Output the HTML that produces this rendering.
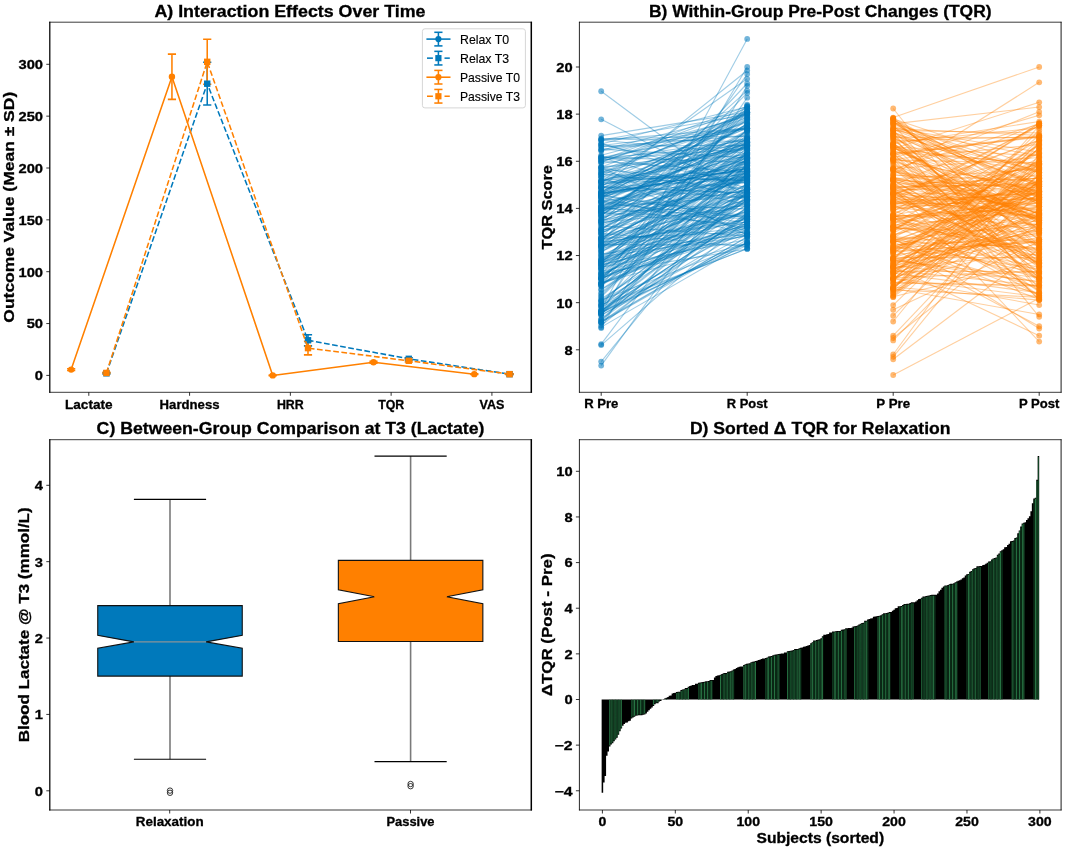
<!DOCTYPE html>
<html><head><meta charset="utf-8"><title>Figure</title>
<style>
html,body{margin:0;padding:0;background:#fff;}
body{width:1065px;height:850px;overflow:hidden;}
svg{display:block;font-family:"Liberation Sans",sans-serif;filter:blur(0.35px);}
</style></head><body>
<svg width="1065" height="850" viewBox="0 0 1065 850">
<defs><clipPath id="clipA"><rect x="49.8" y="22.2" width="481.5" height="370.1"/></clipPath></defs>
<rect width="1065" height="850" fill="#fff"/>
<g clip-path="url(#clipA)">
<line x1="106.44" y1="372.7" x2="106.44" y2="373.95" stroke="#0079bb" stroke-width="1.55"/>
<line x1="102.34" y1="372.7" x2="110.54" y2="372.7" stroke="#0079bb" stroke-width="1.55"/>
<line x1="102.34" y1="373.95" x2="110.54" y2="373.95" stroke="#0079bb" stroke-width="1.55"/>
<line x1="207.22" y1="62.33" x2="207.22" y2="105.05" stroke="#0079bb" stroke-width="1.55"/>
<line x1="203.12" y1="62.33" x2="211.32" y2="62.33" stroke="#0079bb" stroke-width="1.55"/>
<line x1="203.12" y1="105.05" x2="211.32" y2="105.05" stroke="#0079bb" stroke-width="1.55"/>
<line x1="308" y1="334.65" x2="308" y2="345.85" stroke="#0079bb" stroke-width="1.55"/>
<line x1="303.9" y1="334.65" x2="312.1" y2="334.65" stroke="#0079bb" stroke-width="1.55"/>
<line x1="303.9" y1="345.85" x2="312.1" y2="345.85" stroke="#0079bb" stroke-width="1.55"/>
<line x1="408.78" y1="357.67" x2="408.78" y2="359.95" stroke="#0079bb" stroke-width="1.55"/>
<line x1="404.68" y1="357.67" x2="412.88" y2="357.67" stroke="#0079bb" stroke-width="1.55"/>
<line x1="404.68" y1="359.95" x2="412.88" y2="359.95" stroke="#0079bb" stroke-width="1.55"/>
<line x1="509.56" y1="373.74" x2="509.56" y2="374.57" stroke="#0079bb" stroke-width="1.55"/>
<line x1="505.46" y1="373.74" x2="513.66" y2="373.74" stroke="#0079bb" stroke-width="1.55"/>
<line x1="505.46" y1="374.57" x2="513.66" y2="374.57" stroke="#0079bb" stroke-width="1.55"/>
<line x1="71.16" y1="368.76" x2="71.16" y2="370.42" stroke="#ff8000" stroke-width="1.55"/>
<line x1="67.06" y1="368.76" x2="75.26" y2="368.76" stroke="#ff8000" stroke-width="1.55"/>
<line x1="67.06" y1="370.42" x2="75.26" y2="370.42" stroke="#ff8000" stroke-width="1.55"/>
<line x1="171.94" y1="54.14" x2="171.94" y2="99.35" stroke="#ff8000" stroke-width="1.55"/>
<line x1="167.84" y1="54.14" x2="176.04" y2="54.14" stroke="#ff8000" stroke-width="1.55"/>
<line x1="167.84" y1="99.35" x2="176.04" y2="99.35" stroke="#ff8000" stroke-width="1.55"/>
<line x1="272.72" y1="374.99" x2="272.72" y2="375.81" stroke="#ff8000" stroke-width="1.55"/>
<line x1="268.62" y1="374.99" x2="276.82" y2="374.99" stroke="#ff8000" stroke-width="1.55"/>
<line x1="268.62" y1="375.81" x2="276.82" y2="375.81" stroke="#ff8000" stroke-width="1.55"/>
<line x1="373.5" y1="361.3" x2="373.5" y2="363.16" stroke="#ff8000" stroke-width="1.55"/>
<line x1="369.4" y1="361.3" x2="377.6" y2="361.3" stroke="#ff8000" stroke-width="1.55"/>
<line x1="369.4" y1="363.16" x2="377.6" y2="363.16" stroke="#ff8000" stroke-width="1.55"/>
<line x1="474.28" y1="373.74" x2="474.28" y2="374.57" stroke="#ff8000" stroke-width="1.55"/>
<line x1="470.18" y1="373.74" x2="478.38" y2="373.74" stroke="#ff8000" stroke-width="1.55"/>
<line x1="470.18" y1="374.57" x2="478.38" y2="374.57" stroke="#ff8000" stroke-width="1.55"/>
<line x1="106.44" y1="372.29" x2="106.44" y2="373.53" stroke="#ff8000" stroke-width="1.55"/>
<line x1="102.34" y1="372.29" x2="110.54" y2="372.29" stroke="#ff8000" stroke-width="1.55"/>
<line x1="102.34" y1="373.53" x2="110.54" y2="373.53" stroke="#ff8000" stroke-width="1.55"/>
<line x1="207.22" y1="39.31" x2="207.22" y2="84.31" stroke="#ff8000" stroke-width="1.55"/>
<line x1="203.12" y1="39.31" x2="211.32" y2="39.31" stroke="#ff8000" stroke-width="1.55"/>
<line x1="203.12" y1="84.31" x2="211.32" y2="84.31" stroke="#ff8000" stroke-width="1.55"/>
<line x1="308" y1="341.39" x2="308" y2="354.87" stroke="#ff8000" stroke-width="1.55"/>
<line x1="303.9" y1="341.39" x2="312.1" y2="341.39" stroke="#ff8000" stroke-width="1.55"/>
<line x1="303.9" y1="354.87" x2="312.1" y2="354.87" stroke="#ff8000" stroke-width="1.55"/>
<line x1="408.78" y1="359.64" x2="408.78" y2="361.92" stroke="#ff8000" stroke-width="1.55"/>
<line x1="404.68" y1="359.64" x2="412.88" y2="359.64" stroke="#ff8000" stroke-width="1.55"/>
<line x1="404.68" y1="361.92" x2="412.88" y2="361.92" stroke="#ff8000" stroke-width="1.55"/>
<line x1="509.56" y1="373.74" x2="509.56" y2="374.57" stroke="#ff8000" stroke-width="1.55"/>
<line x1="505.46" y1="373.74" x2="513.66" y2="373.74" stroke="#ff8000" stroke-width="1.55"/>
<line x1="505.46" y1="374.57" x2="513.66" y2="374.57" stroke="#ff8000" stroke-width="1.55"/>
<polyline points="106.44,373.33 207.22,83.69 308,340.25 408.78,358.81 509.56,374.16" fill="none" stroke="#0079bb" stroke-width="1.55" stroke-dasharray="5.7 2.5" stroke-linejoin="round"/>
<rect x="103.24" y="370.13" width="6.4" height="6.4" fill="#0079bb"/>
<rect x="204.02" y="80.49" width="6.4" height="6.4" fill="#0079bb"/>
<rect x="304.8" y="337.05" width="6.4" height="6.4" fill="#0079bb"/>
<rect x="405.58" y="355.61" width="6.4" height="6.4" fill="#0079bb"/>
<rect x="506.36" y="370.96" width="6.4" height="6.4" fill="#0079bb"/>
<polyline points="71.16,369.59 171.94,76.74 272.72,375.4 373.5,362.23 474.28,374.16" fill="none" stroke="#ff8000" stroke-width="1.55" stroke-linejoin="round"/>
<circle cx="71.16" cy="369.59" r="3.2" fill="#ff8000"/>
<circle cx="171.94" cy="76.74" r="3.2" fill="#ff8000"/>
<circle cx="272.72" cy="375.4" r="3.2" fill="#ff8000"/>
<circle cx="373.5" cy="362.23" r="3.2" fill="#ff8000"/>
<circle cx="474.28" cy="374.16" r="3.2" fill="#ff8000"/>
<polyline points="106.44,372.91 207.22,61.81 308,348.13 408.78,360.78 509.56,374.16" fill="none" stroke="#ff8000" stroke-width="1.55" stroke-dasharray="5.7 2.5" stroke-linejoin="round"/>
<rect x="103.24" y="369.71" width="6.4" height="6.4" fill="#ff8000"/>
<rect x="204.02" y="58.61" width="6.4" height="6.4" fill="#ff8000"/>
<rect x="304.8" y="344.93" width="6.4" height="6.4" fill="#ff8000"/>
<rect x="405.58" y="357.58" width="6.4" height="6.4" fill="#ff8000"/>
<rect x="506.36" y="370.96" width="6.4" height="6.4" fill="#ff8000"/>
</g>
<line x1="49.8" y1="21.81" x2="49.8" y2="392.69" stroke="#000" stroke-width="1.25"/>
<line x1="531.3" y1="21.81" x2="531.3" y2="392.69" stroke="#000" stroke-width="1.5"/>
<line x1="49.17" y1="22.2" x2="532.05" y2="22.2" stroke="#000" stroke-width="0.77"/>
<line x1="49.17" y1="392.3" x2="532.05" y2="392.3" stroke="#000" stroke-width="0.77"/>
<line x1="46.3" y1="375.4" x2="49.8" y2="375.4" stroke="#000" stroke-width="0.8"/>
<text x="43" y="380.3" font-size="12.4" font-weight="bold" text-anchor="end" textLength="8.18" lengthAdjust="spacingAndGlyphs" fill="#000" stroke="#000" stroke-width="0.3">0</text>
<line x1="46.3" y1="323.55" x2="49.8" y2="323.55" stroke="#000" stroke-width="0.8"/>
<text x="43" y="328.45" font-size="12.4" font-weight="bold" text-anchor="end" textLength="16.35" lengthAdjust="spacingAndGlyphs" fill="#000" stroke="#000" stroke-width="0.3">50</text>
<line x1="46.3" y1="271.7" x2="49.8" y2="271.7" stroke="#000" stroke-width="0.8"/>
<text x="43" y="276.6" font-size="12.4" font-weight="bold" text-anchor="end" textLength="24.53" lengthAdjust="spacingAndGlyphs" fill="#000" stroke="#000" stroke-width="0.3">100</text>
<line x1="46.3" y1="219.85" x2="49.8" y2="219.85" stroke="#000" stroke-width="0.8"/>
<text x="43" y="224.75" font-size="12.4" font-weight="bold" text-anchor="end" textLength="24.53" lengthAdjust="spacingAndGlyphs" fill="#000" stroke="#000" stroke-width="0.3">150</text>
<line x1="46.3" y1="168" x2="49.8" y2="168" stroke="#000" stroke-width="0.8"/>
<text x="43" y="172.9" font-size="12.4" font-weight="bold" text-anchor="end" textLength="24.53" lengthAdjust="spacingAndGlyphs" fill="#000" stroke="#000" stroke-width="0.3">200</text>
<line x1="46.3" y1="116.15" x2="49.8" y2="116.15" stroke="#000" stroke-width="0.8"/>
<text x="43" y="121.05" font-size="12.4" font-weight="bold" text-anchor="end" textLength="24.53" lengthAdjust="spacingAndGlyphs" fill="#000" stroke="#000" stroke-width="0.3">250</text>
<line x1="46.3" y1="64.3" x2="49.8" y2="64.3" stroke="#000" stroke-width="0.8"/>
<text x="43" y="69.2" font-size="12.4" font-weight="bold" text-anchor="end" textLength="24.53" lengthAdjust="spacingAndGlyphs" fill="#000" stroke="#000" stroke-width="0.3">300</text>
<line x1="88.8" y1="392.3" x2="88.8" y2="395.8" stroke="#000" stroke-width="0.8"/>
<text x="88.8" y="408.6" font-size="12.4" font-weight="bold" text-anchor="middle" textLength="47.62" lengthAdjust="spacingAndGlyphs" fill="#000" stroke="#000" stroke-width="0.3">Lactate</text>
<line x1="189.58" y1="392.3" x2="189.58" y2="395.8" stroke="#000" stroke-width="0.8"/>
<text x="189.58" y="408.6" font-size="12.4" font-weight="bold" text-anchor="middle" textLength="59.9" lengthAdjust="spacingAndGlyphs" fill="#000" stroke="#000" stroke-width="0.3">Hardness</text>
<line x1="290.36" y1="392.3" x2="290.36" y2="395.8" stroke="#000" stroke-width="0.8"/>
<text x="290.36" y="408.6" font-size="12.4" font-weight="bold" text-anchor="middle" textLength="26.86" lengthAdjust="spacingAndGlyphs" fill="#000" stroke="#000" stroke-width="0.3">HRR</text>
<line x1="391.14" y1="392.3" x2="391.14" y2="395.8" stroke="#000" stroke-width="0.8"/>
<text x="391.14" y="408.6" font-size="12.4" font-weight="bold" text-anchor="middle" textLength="26.02" lengthAdjust="spacingAndGlyphs" fill="#000" stroke="#000" stroke-width="0.3">TQR</text>
<line x1="491.92" y1="392.3" x2="491.92" y2="395.8" stroke="#000" stroke-width="0.8"/>
<text x="491.92" y="408.6" font-size="12.4" font-weight="bold" text-anchor="middle" textLength="24.86" lengthAdjust="spacingAndGlyphs" fill="#000" stroke="#000" stroke-width="0.3">VAS</text>
<text x="289.95" y="16.5" font-size="15.8" font-weight="bold" text-anchor="middle" textLength="271.09" lengthAdjust="spacingAndGlyphs" fill="#000" stroke="#000" stroke-width="0.3">A) Interaction Effects Over Time</text>
<text x="13.6" y="207.25" font-size="15.4" font-weight="bold" text-anchor="middle" textLength="230.87" lengthAdjust="spacingAndGlyphs" fill="#000" stroke="#000" stroke-width="0.3" transform="rotate(-90 13.6 207.25)">Outcome Value (Mean ± SD)</text>
<rect x="422.4" y="28.8" width="103" height="79.1" rx="2.5" fill="#fff" fill-opacity="0.8" stroke="#d6d6d6" stroke-width="1"/>
<line x1="426.4" y1="39.1" x2="450.5" y2="39.1" stroke="#0079bb" stroke-width="1.55"/>
<line x1="438.4" y1="32.3" x2="438.4" y2="45.9" stroke="#0079bb" stroke-width="1.55"/>
<line x1="434.3" y1="32.3" x2="442.5" y2="32.3" stroke="#0079bb" stroke-width="1.55"/>
<line x1="434.3" y1="45.9" x2="442.5" y2="45.9" stroke="#0079bb" stroke-width="1.55"/>
<circle cx="438.4" cy="39.1" r="3.1" fill="#0079bb"/>
<text x="460" y="43.6" font-size="12.1" font-weight="normal" text-anchor="start" textLength="49.12" lengthAdjust="spacingAndGlyphs" fill="#000" stroke="#000" stroke-width="0.12">Relax T0</text>
<line x1="427" y1="58.15" x2="432.9" y2="58.15" stroke="#0079bb" stroke-width="1.55"/>
<line x1="444.5" y1="58.15" x2="449.8" y2="58.15" stroke="#0079bb" stroke-width="1.55"/>
<line x1="438.4" y1="51.35" x2="438.4" y2="64.95" stroke="#0079bb" stroke-width="1.55"/>
<line x1="434.3" y1="51.35" x2="442.5" y2="51.35" stroke="#0079bb" stroke-width="1.55"/>
<line x1="434.3" y1="64.95" x2="442.5" y2="64.95" stroke="#0079bb" stroke-width="1.55"/>
<rect x="435.3" y="55.05" width="6.2" height="6.2" fill="#0079bb"/>
<text x="460" y="62.65" font-size="12.1" font-weight="normal" text-anchor="start" textLength="49.12" lengthAdjust="spacingAndGlyphs" fill="#000" stroke="#000" stroke-width="0.12">Relax T3</text>
<line x1="426.4" y1="77.2" x2="450.5" y2="77.2" stroke="#ff8000" stroke-width="1.55"/>
<line x1="438.4" y1="70.4" x2="438.4" y2="84" stroke="#ff8000" stroke-width="1.55"/>
<line x1="434.3" y1="70.4" x2="442.5" y2="70.4" stroke="#ff8000" stroke-width="1.55"/>
<line x1="434.3" y1="84" x2="442.5" y2="84" stroke="#ff8000" stroke-width="1.55"/>
<circle cx="438.4" cy="77.2" r="3.1" fill="#ff8000"/>
<text x="460" y="81.7" font-size="12.1" font-weight="normal" text-anchor="start" textLength="59.94" lengthAdjust="spacingAndGlyphs" fill="#000" stroke="#000" stroke-width="0.12">Passive T0</text>
<line x1="427" y1="96.25" x2="432.9" y2="96.25" stroke="#ff8000" stroke-width="1.55"/>
<line x1="444.5" y1="96.25" x2="449.8" y2="96.25" stroke="#ff8000" stroke-width="1.55"/>
<line x1="438.4" y1="89.45" x2="438.4" y2="103.05" stroke="#ff8000" stroke-width="1.55"/>
<line x1="434.3" y1="89.45" x2="442.5" y2="89.45" stroke="#ff8000" stroke-width="1.55"/>
<line x1="434.3" y1="103.05" x2="442.5" y2="103.05" stroke="#ff8000" stroke-width="1.55"/>
<rect x="435.3" y="93.15" width="6.2" height="6.2" fill="#ff8000"/>
<text x="460" y="100.75" font-size="12.1" font-weight="normal" text-anchor="start" textLength="59.94" lengthAdjust="spacingAndGlyphs" fill="#000" stroke="#000" stroke-width="0.12">Passive T3</text>
<g>
<g stroke="#0079bb" stroke-width="1.1" stroke-opacity="0.38">
<path d="M601.2 229.78L747.2 153.63"/>
<path d="M601.2 156.18L747.2 182.35"/>
<path d="M601.2 161.42L747.2 171.95"/>
<path d="M601.2 265.02L747.2 131.82"/>
<path d="M601.2 251.58L747.2 170.27"/>
<path d="M601.2 266.07L747.2 200.66"/>
<path d="M601.2 195.43L747.2 147.9"/>
<path d="M601.2 235.74L747.2 196.42"/>
<path d="M601.2 185.04L747.2 145.95"/>
<path d="M601.2 321.23L747.2 237.12"/>
<path d="M601.2 149.5L747.2 128.42"/>
<path d="M601.2 238.41L747.2 232.19"/>
<path d="M601.2 188.86L747.2 117.02"/>
<path d="M601.2 241.05L747.2 199.64"/>
<path d="M601.2 256.79L747.2 236.16"/>
<path d="M601.2 201.99L747.2 172.6"/>
<path d="M601.2 180.72L747.2 168.96"/>
<path d="M601.2 245.38L747.2 175.09"/>
<path d="M601.2 242.12L747.2 221.74"/>
<path d="M601.2 188.55L747.2 143.14"/>
<path d="M601.2 285.85L747.2 104.7"/>
<path d="M601.2 313.1L747.2 242.82"/>
<path d="M601.2 206.28L747.2 152.33"/>
<path d="M601.2 274.66L747.2 205.2"/>
<path d="M601.2 322.52L747.2 216.3"/>
<path d="M601.2 282.8L747.2 243.58"/>
<path d="M601.2 262.37L747.2 227.73"/>
<path d="M601.2 301.38L747.2 188.9"/>
<path d="M601.2 312.43L747.2 214.62"/>
<path d="M601.2 229.62L747.2 119.51"/>
<path d="M601.2 176.83L747.2 180.43"/>
<path d="M601.2 247.38L747.2 175.01"/>
<path d="M601.2 278.87L747.2 108.05"/>
<path d="M601.2 206.92L747.2 196.17"/>
<path d="M601.2 186.73L747.2 193.04"/>
<path d="M601.2 251.72L747.2 185.19"/>
<path d="M601.2 196.96L747.2 163.31"/>
<path d="M601.2 169.53L747.2 122.5"/>
<path d="M601.2 245.67L747.2 176.13"/>
<path d="M601.2 282.77L747.2 223.12"/>
<path d="M601.2 209.3L747.2 158.36"/>
<path d="M601.2 215.76L747.2 105.6"/>
<path d="M601.2 166.91L747.2 113.19"/>
<path d="M601.2 305.11L747.2 248.66"/>
<path d="M601.2 274.14L747.2 198.68"/>
<path d="M601.2 284.12L747.2 226.88"/>
<path d="M601.2 318.89L747.2 196.46"/>
<path d="M601.2 223.69L747.2 179.47"/>
<path d="M601.2 197.99L747.2 109.45"/>
<path d="M601.2 278.6L747.2 158.19"/>
<path d="M601.2 155.26L747.2 116.55"/>
<path d="M601.2 180.86L747.2 147.5"/>
<path d="M601.2 191.97L747.2 160.99"/>
<path d="M601.2 205.86L747.2 152.07"/>
<path d="M601.2 173.82L747.2 114.35"/>
<path d="M601.2 306.92L747.2 189.56"/>
<path d="M601.2 192.77L747.2 173.72"/>
<path d="M601.2 193.44L747.2 119.23"/>
<path d="M601.2 319.63L747.2 212.97"/>
<path d="M601.2 209.34L747.2 169.8"/>
<path d="M601.2 248.5L747.2 212.43"/>
<path d="M601.2 183.09L747.2 177.92"/>
<path d="M601.2 260.58L747.2 211.36"/>
<path d="M601.2 233.24L747.2 246.82"/>
<path d="M601.2 209.61L747.2 130.32"/>
<path d="M601.2 286.16L747.2 176.28"/>
<path d="M601.2 193.69L747.2 168.64"/>
<path d="M601.2 238.97L747.2 138.74"/>
<path d="M601.2 200.17L747.2 146.24"/>
<path d="M601.2 265.73L747.2 174.74"/>
<path d="M601.2 167.49L747.2 234.75"/>
<path d="M601.2 193.3L747.2 169.22"/>
<path d="M601.2 243.77L747.2 159.35"/>
<path d="M601.2 191.7L747.2 112.73"/>
<path d="M601.2 159.99L747.2 106.28"/>
<path d="M601.2 144.03L747.2 106.67"/>
<path d="M601.2 314.84L747.2 241.9"/>
<path d="M601.2 177.57L747.2 231.61"/>
<path d="M601.2 201.87L747.2 142.17"/>
<path d="M601.2 238.24L747.2 177.23"/>
<path d="M601.2 292.83L747.2 163.88"/>
<path d="M601.2 160.1L747.2 148.44"/>
<path d="M601.2 304.21L747.2 199.95"/>
<path d="M601.2 195.6L747.2 218.06"/>
<path d="M601.2 158.34L747.2 128.49"/>
<path d="M601.2 315.56L747.2 228.75"/>
<path d="M601.2 251.88L747.2 169.81"/>
<path d="M601.2 306.06L747.2 191.92"/>
<path d="M601.2 215.99L747.2 174.11"/>
<path d="M601.2 151.04L747.2 128.24"/>
<path d="M601.2 140.08L747.2 128.1"/>
<path d="M601.2 319.85L747.2 192.27"/>
<path d="M601.2 268.97L747.2 170.91"/>
<path d="M601.2 187.51L747.2 179.23"/>
<path d="M601.2 149.14L747.2 157.9"/>
<path d="M601.2 204.62L747.2 112.8"/>
<path d="M601.2 279.01L747.2 199.26"/>
<path d="M601.2 212.55L747.2 131.97"/>
<path d="M601.2 233.14L747.2 160.62"/>
<path d="M601.2 245.46L747.2 203.22"/>
<path d="M601.2 278.35L747.2 221.34"/>
<path d="M601.2 206.77L747.2 160.9"/>
<path d="M601.2 211.86L747.2 157.62"/>
<path d="M601.2 238.18L747.2 154.02"/>
<path d="M601.2 246.63L747.2 226.5"/>
<path d="M601.2 305.12L747.2 227.25"/>
<path d="M601.2 263.53L747.2 192.4"/>
<path d="M601.2 162.18L747.2 108.3"/>
<path d="M601.2 244.59L747.2 244.83"/>
<path d="M601.2 310.72L747.2 196.05"/>
<path d="M601.2 157.11L747.2 162.33"/>
<path d="M601.2 197.84L747.2 145.58"/>
<path d="M601.2 139.01L747.2 141.49"/>
<path d="M601.2 227.91L747.2 159.71"/>
<path d="M601.2 261.98L747.2 129.78"/>
<path d="M601.2 310.99L747.2 199.5"/>
<path d="M601.2 157.51L747.2 128.49"/>
<path d="M601.2 135.6L747.2 112.15"/>
<path d="M601.2 283.18L747.2 223.07"/>
<path d="M601.2 273.28L747.2 171.16"/>
<path d="M601.2 193.84L747.2 168.47"/>
<path d="M601.2 283.69L747.2 225.01"/>
<path d="M601.2 249.81L747.2 184.55"/>
<path d="M601.2 254.92L747.2 194.06"/>
<path d="M601.2 219.39L747.2 142.06"/>
<path d="M601.2 167.09L747.2 149.32"/>
<path d="M601.2 230.58L747.2 196.28"/>
<path d="M601.2 175.7L747.2 112.2"/>
<path d="M601.2 259.37L747.2 148.08"/>
<path d="M601.2 210.57L747.2 123.63"/>
<path d="M601.2 325.5L747.2 206.95"/>
<path d="M601.2 311.06L747.2 216.05"/>
<path d="M601.2 182.29L747.2 171.64"/>
<path d="M601.2 269.89L747.2 202.09"/>
<path d="M601.2 194.82L747.2 127.8"/>
<path d="M601.2 197.1L747.2 157.25"/>
<path d="M601.2 157.57L747.2 199.99"/>
<path d="M601.2 181.41L747.2 156.22"/>
<path d="M601.2 170.78L747.2 204.99"/>
<path d="M601.2 239.41L747.2 172.15"/>
<path d="M601.2 276.27L747.2 232.7"/>
<path d="M601.2 278.19L747.2 234.46"/>
<path d="M601.2 263.64L747.2 184"/>
<path d="M601.2 298.61L747.2 207.73"/>
<path d="M601.2 267.3L747.2 239.46"/>
<path d="M601.2 238.15L747.2 148.99"/>
<path d="M601.2 215.5L747.2 108.94"/>
<path d="M601.2 254.22L747.2 233.59"/>
<path d="M601.2 322.58L747.2 154.03"/>
<path d="M601.2 236.81L747.2 204.58"/>
<path d="M601.2 217.21L747.2 189.67"/>
<path d="M601.2 167.57L747.2 154.7"/>
<path d="M601.2 194.94L747.2 216.06"/>
<path d="M601.2 273.07L747.2 142.22"/>
<path d="M601.2 277.74L747.2 175.21"/>
<path d="M601.2 140.26L747.2 153.28"/>
<path d="M601.2 184.49L747.2 166.99"/>
<path d="M601.2 143.23L747.2 188.27"/>
<path d="M601.2 138.76L747.2 136.17"/>
<path d="M601.2 283.02L747.2 160.03"/>
<path d="M601.2 206.9L747.2 227.8"/>
<path d="M601.2 202.3L747.2 181.26"/>
<path d="M601.2 196.05L747.2 155.47"/>
<path d="M601.2 197.12L747.2 125.73"/>
<path d="M601.2 218.73L747.2 123.71"/>
<path d="M601.2 220.56L747.2 189.55"/>
<path d="M601.2 312.74L747.2 234.13"/>
<path d="M601.2 242.94L747.2 162.23"/>
<path d="M601.2 279.1L747.2 208.92"/>
<path d="M601.2 223.72L747.2 184.96"/>
<path d="M601.2 262.37L747.2 145.88"/>
<path d="M601.2 192.5L747.2 111.7"/>
<path d="M601.2 181.02L747.2 144.7"/>
<path d="M601.2 211.8L747.2 175.41"/>
<path d="M601.2 211.32L747.2 145.62"/>
<path d="M601.2 225.9L747.2 236.07"/>
<path d="M601.2 261.13L747.2 188.39"/>
<path d="M601.2 242.88L747.2 219.39"/>
<path d="M601.2 264.11L747.2 112.18"/>
<path d="M601.2 206.73L747.2 138.78"/>
<path d="M601.2 231.1L747.2 169.81"/>
<path d="M601.2 194.73L747.2 168.3"/>
<path d="M601.2 306.8L747.2 248.42"/>
<path d="M601.2 177.33L747.2 128.72"/>
<path d="M601.2 279.95L747.2 133.85"/>
<path d="M601.2 278.34L747.2 220.73"/>
<path d="M601.2 245.04L747.2 154.01"/>
<path d="M601.2 268.27L747.2 161.83"/>
<path d="M601.2 212.94L747.2 224.95"/>
<path d="M601.2 268.92L747.2 153.85"/>
<path d="M601.2 295.84L747.2 150.35"/>
<path d="M601.2 284.53L747.2 189"/>
<path d="M601.2 157.96L747.2 144.86"/>
<path d="M601.2 229.11L747.2 144.27"/>
<path d="M601.2 300.28L747.2 243.19"/>
<path d="M601.2 231.48L747.2 171.89"/>
<path d="M601.2 314.33L747.2 174.67"/>
<path d="M601.2 144.06L747.2 178.43"/>
<path d="M601.2 313.41L747.2 176.32"/>
<path d="M601.2 201.02L747.2 179.99"/>
<path d="M601.2 197.02L747.2 233.98"/>
<path d="M601.2 311.07L747.2 215.93"/>
<path d="M601.2 212.35L747.2 206"/>
<path d="M601.2 171.75L747.2 138.77"/>
<path d="M601.2 201.71L747.2 209.23"/>
<path d="M601.2 214.89L747.2 130.93"/>
<path d="M601.2 174.15L747.2 180.43"/>
<path d="M601.2 221.43L747.2 157.51"/>
<path d="M601.2 210.02L747.2 190.73"/>
<path d="M601.2 240.4L747.2 192.06"/>
<path d="M601.2 191.71L747.2 120.67"/>
<path d="M601.2 289.56L747.2 191.99"/>
<path d="M601.2 182.52L747.2 170.78"/>
<path d="M601.2 264.71L747.2 230.87"/>
<path d="M601.2 296.83L747.2 158.31"/>
<path d="M601.2 208.17L747.2 138.86"/>
<path d="M601.2 146.2L747.2 145.3"/>
<path d="M601.2 173.52L747.2 142.18"/>
<path d="M601.2 265.35L747.2 225.3"/>
<path d="M601.2 187.83L747.2 197.82"/>
<path d="M601.2 261.53L747.2 218.01"/>
<path d="M601.2 240.22L747.2 164.98"/>
<path d="M601.2 226.12L747.2 161.7"/>
<path d="M601.2 327.14L747.2 242.77"/>
<path d="M601.2 219.41L747.2 142.62"/>
<path d="M601.2 293.94L747.2 171.57"/>
<path d="M601.2 276.22L747.2 187.32"/>
<path d="M601.2 311.85L747.2 173.15"/>
<path d="M601.2 313.17L747.2 222.93"/>
<path d="M601.2 289.65L747.2 204.54"/>
<path d="M601.2 180.66L747.2 137.42"/>
<path d="M601.2 146.86L747.2 135.89"/>
<path d="M601.2 233.7L747.2 145.7"/>
<path d="M601.2 167.23L747.2 197"/>
<path d="M601.2 249.38L747.2 130.04"/>
<path d="M601.2 322.38L747.2 239.74"/>
<path d="M601.2 222.15L747.2 178.51"/>
<path d="M601.2 203.09L747.2 216.69"/>
<path d="M601.2 259.93L747.2 163.16"/>
<path d="M601.2 212.22L747.2 123.95"/>
<path d="M601.2 195.26L747.2 124.59"/>
<path d="M601.2 285.48L747.2 165.26"/>
<path d="M601.2 311.93L747.2 245.17"/>
<path d="M601.2 246.6L747.2 211.45"/>
<path d="M601.2 245.93L747.2 199.59"/>
<path d="M601.2 255.1L747.2 219.33"/>
<path d="M601.2 172.24L747.2 117.14"/>
<path d="M601.2 145.44L747.2 128.05"/>
<path d="M601.2 259.17L747.2 187.82"/>
<path d="M601.2 187.78L747.2 139.72"/>
<path d="M601.2 174.57L747.2 189.13"/>
<path d="M601.2 186.96L747.2 193.32"/>
<path d="M601.2 169.31L747.2 183.55"/>
<path d="M601.2 257.43L747.2 166.19"/>
<path d="M601.2 185.44L747.2 143.86"/>
<path d="M601.2 140.06L747.2 114.57"/>
<path d="M601.2 181.87L747.2 120.68"/>
<path d="M601.2 271.67L747.2 234.87"/>
<path d="M601.2 193.15L747.2 182.29"/>
<path d="M601.2 159.89L747.2 138.67"/>
<path d="M601.2 207.94L747.2 217.39"/>
<path d="M601.2 268.27L747.2 210.6"/>
<path d="M601.2 150.18L747.2 112.66"/>
<path d="M601.2 303.73L747.2 164.67"/>
<path d="M601.2 199.49L747.2 125.64"/>
<path d="M601.2 233.11L747.2 174.56"/>
<path d="M601.2 301.4L747.2 213.85"/>
<path d="M601.2 161.64L747.2 115.08"/>
<path d="M601.2 209.28L747.2 181.62"/>
<path d="M601.2 300.24L747.2 192.99"/>
<path d="M601.2 193.5L747.2 118.18"/>
<path d="M601.2 260.11L747.2 201.48"/>
<path d="M601.2 322.22L747.2 236.77"/>
<path d="M601.2 275.73L747.2 194.27"/>
<path d="M601.2 214.72L747.2 145.89"/>
<path d="M601.2 191.48L747.2 141.33"/>
<path d="M601.2 221.12L747.2 165.26"/>
<path d="M601.2 229.05L747.2 152.77"/>
<path d="M601.2 201.56L747.2 223.05"/>
<path d="M601.2 245.93L747.2 213.85"/>
<path d="M601.2 163.43L747.2 140.05"/>
<path d="M601.2 222.23L747.2 208.04"/>
<path d="M601.2 212.76L747.2 218.74"/>
<path d="M601.2 91.27L747.2 199.73"/>
<path d="M601.2 119.32L747.2 194.75"/>
<path d="M601.2 344.15L747.2 150.31"/>
<path d="M601.2 345.09L747.2 218.97"/>
<path d="M601.2 361.59L747.2 182.71"/>
<path d="M601.2 365.59L747.2 162.89"/>
<path d="M601.2 309.22L747.2 38.96"/>
<path d="M601.2 313.84L747.2 67"/>
<path d="M601.2 187.33L747.2 70.54"/>
<path d="M601.2 283.85L747.2 74.07"/>
<path d="M601.2 181.75L747.2 78.78"/>
<path d="M601.2 238L747.2 83.5"/>
<path d="M601.2 328.05L747.2 85.85"/>
<path d="M601.2 221.82L747.2 90.57"/>
<path d="M601.2 241.49L747.2 92.92"/>
<path d="M601.2 310.98L747.2 97.64"/>
<path d="M601.2 272.87L747.2 248.94"/>
</g>
<g stroke="#ff8000" stroke-width="1.1" stroke-opacity="0.38">
<path d="M893.2 163.21L1039.2 280"/>
<path d="M893.2 132.07L1039.2 186.14"/>
<path d="M893.2 252.46L1039.2 182.81"/>
<path d="M893.2 153.38L1039.2 136.09"/>
<path d="M893.2 288.54L1039.2 168.68"/>
<path d="M893.2 192.84L1039.2 195.2"/>
<path d="M893.2 285.58L1039.2 215.35"/>
<path d="M893.2 179.55L1039.2 210.85"/>
<path d="M893.2 288.33L1039.2 158.07"/>
<path d="M893.2 296.79L1039.2 260.87"/>
<path d="M893.2 184.47L1039.2 178.13"/>
<path d="M893.2 119.61L1039.2 202.21"/>
<path d="M893.2 242.21L1039.2 199.61"/>
<path d="M893.2 160.88L1039.2 220.65"/>
<path d="M893.2 201.2L1039.2 125.48"/>
<path d="M893.2 226.86L1039.2 249.22"/>
<path d="M893.2 172.16L1039.2 191.8"/>
<path d="M893.2 129.7L1039.2 184.64"/>
<path d="M893.2 272.37L1039.2 182.24"/>
<path d="M893.2 174.99L1039.2 180.95"/>
<path d="M893.2 187.41L1039.2 183.59"/>
<path d="M893.2 279L1039.2 163.63"/>
<path d="M893.2 130.4L1039.2 278.16"/>
<path d="M893.2 123.51L1039.2 198.03"/>
<path d="M893.2 260.36L1039.2 277.69"/>
<path d="M893.2 127.46L1039.2 186.48"/>
<path d="M893.2 204.44L1039.2 271.94"/>
<path d="M893.2 217.47L1039.2 263.29"/>
<path d="M893.2 133.5L1039.2 204.73"/>
<path d="M893.2 194.29L1039.2 140.02"/>
<path d="M893.2 188.69L1039.2 175.3"/>
<path d="M893.2 133.08L1039.2 184.09"/>
<path d="M893.2 140.7L1039.2 136.66"/>
<path d="M893.2 157.76L1039.2 257.51"/>
<path d="M893.2 278.23L1039.2 296.65"/>
<path d="M893.2 283.33L1039.2 243.32"/>
<path d="M893.2 147.13L1039.2 219.65"/>
<path d="M893.2 259.14L1039.2 149.98"/>
<path d="M893.2 198.96L1039.2 125.37"/>
<path d="M893.2 265.81L1039.2 281.26"/>
<path d="M893.2 218.68L1039.2 123.1"/>
<path d="M893.2 274L1039.2 139.46"/>
<path d="M893.2 130.01L1039.2 155.88"/>
<path d="M893.2 263.39L1039.2 194.45"/>
<path d="M893.2 215.03L1039.2 123.34"/>
<path d="M893.2 218.94L1039.2 206.33"/>
<path d="M893.2 143.85L1039.2 230.46"/>
<path d="M893.2 278.85L1039.2 210.16"/>
<path d="M893.2 209.76L1039.2 279.11"/>
<path d="M893.2 220.18L1039.2 183.91"/>
<path d="M893.2 176.88L1039.2 213.26"/>
<path d="M893.2 180.13L1039.2 188.01"/>
<path d="M893.2 234.89L1039.2 191.68"/>
<path d="M893.2 193.58L1039.2 265.84"/>
<path d="M893.2 229.81L1039.2 144.71"/>
<path d="M893.2 180.35L1039.2 262.8"/>
<path d="M893.2 213.88L1039.2 161.61"/>
<path d="M893.2 245.44L1039.2 287.44"/>
<path d="M893.2 209.42L1039.2 188.52"/>
<path d="M893.2 186.33L1039.2 253.85"/>
<path d="M893.2 119.79L1039.2 194.13"/>
<path d="M893.2 236.43L1039.2 249.58"/>
<path d="M893.2 189.65L1039.2 295.84"/>
<path d="M893.2 134.73L1039.2 262.76"/>
<path d="M893.2 292.89L1039.2 218.1"/>
<path d="M893.2 287.41L1039.2 183.97"/>
<path d="M893.2 270.56L1039.2 285.61"/>
<path d="M893.2 214.57L1039.2 295.66"/>
<path d="M893.2 118.57L1039.2 245.63"/>
<path d="M893.2 184.74L1039.2 219.94"/>
<path d="M893.2 143.77L1039.2 239.35"/>
<path d="M893.2 220.93L1039.2 256.23"/>
<path d="M893.2 296.07L1039.2 175.52"/>
<path d="M893.2 295.13L1039.2 168.7"/>
<path d="M893.2 151.85L1039.2 163.18"/>
<path d="M893.2 196.81L1039.2 260.47"/>
<path d="M893.2 274.72L1039.2 213.04"/>
<path d="M893.2 147.51L1039.2 214.63"/>
<path d="M893.2 282.42L1039.2 285.43"/>
<path d="M893.2 146.79L1039.2 156.07"/>
<path d="M893.2 135.1L1039.2 196.2"/>
<path d="M893.2 251.15L1039.2 242.1"/>
<path d="M893.2 267.27L1039.2 143.68"/>
<path d="M893.2 160.17L1039.2 162.96"/>
<path d="M893.2 266.72L1039.2 168.06"/>
<path d="M893.2 159.3L1039.2 144.38"/>
<path d="M893.2 270.82L1039.2 175.81"/>
<path d="M893.2 162.02L1039.2 272.1"/>
<path d="M893.2 202.2L1039.2 231.92"/>
<path d="M893.2 233.13L1039.2 157.75"/>
<path d="M893.2 257.66L1039.2 257.58"/>
<path d="M893.2 193.7L1039.2 206.31"/>
<path d="M893.2 290.24L1039.2 197.76"/>
<path d="M893.2 224.09L1039.2 140.12"/>
<path d="M893.2 231.04L1039.2 145.41"/>
<path d="M893.2 168.76L1039.2 157.46"/>
<path d="M893.2 273.08L1039.2 228.14"/>
<path d="M893.2 128L1039.2 152.2"/>
<path d="M893.2 226.17L1039.2 181.37"/>
<path d="M893.2 268.52L1039.2 226.08"/>
<path d="M893.2 137.23L1039.2 137.64"/>
<path d="M893.2 129.19L1039.2 172.51"/>
<path d="M893.2 218.92L1039.2 253.47"/>
<path d="M893.2 257.44L1039.2 148.59"/>
<path d="M893.2 206.83L1039.2 224.82"/>
<path d="M893.2 247.29L1039.2 179.93"/>
<path d="M893.2 226.19L1039.2 284.79"/>
<path d="M893.2 131.92L1039.2 202"/>
<path d="M893.2 184.71L1039.2 260.04"/>
<path d="M893.2 199.14L1039.2 262.46"/>
<path d="M893.2 187.36L1039.2 292.02"/>
<path d="M893.2 211.24L1039.2 125.56"/>
<path d="M893.2 160.31L1039.2 213.96"/>
<path d="M893.2 158.44L1039.2 191.13"/>
<path d="M893.2 229.53L1039.2 153.04"/>
<path d="M893.2 201.53L1039.2 216.68"/>
<path d="M893.2 118.73L1039.2 167.81"/>
<path d="M893.2 183L1039.2 277.31"/>
<path d="M893.2 218.8L1039.2 199.78"/>
<path d="M893.2 122.08L1039.2 222.36"/>
<path d="M893.2 207.22L1039.2 181.36"/>
<path d="M893.2 266.81L1039.2 206.06"/>
<path d="M893.2 168.96L1039.2 277.38"/>
<path d="M893.2 257.86L1039.2 293.16"/>
<path d="M893.2 236.77L1039.2 267.39"/>
<path d="M893.2 188.5L1039.2 167.18"/>
<path d="M893.2 215.31L1039.2 186.38"/>
<path d="M893.2 251.09L1039.2 191.27"/>
<path d="M893.2 239.76L1039.2 295.02"/>
<path d="M893.2 242.08L1039.2 299.44"/>
<path d="M893.2 145.46L1039.2 239.5"/>
<path d="M893.2 248.89L1039.2 233.84"/>
<path d="M893.2 240.93L1039.2 247.9"/>
<path d="M893.2 122.23L1039.2 178.35"/>
<path d="M893.2 239.91L1039.2 223.67"/>
<path d="M893.2 133.92L1039.2 266.27"/>
<path d="M893.2 139.69L1039.2 252.49"/>
<path d="M893.2 216.85L1039.2 202.98"/>
<path d="M893.2 278.84L1039.2 214.59"/>
<path d="M893.2 181.21L1039.2 212.18"/>
<path d="M893.2 169.06L1039.2 123.91"/>
<path d="M893.2 154.19L1039.2 220.22"/>
<path d="M893.2 203.5L1039.2 203.08"/>
<path d="M893.2 143.91L1039.2 258.92"/>
<path d="M893.2 137.08L1039.2 223.41"/>
<path d="M893.2 264.96L1039.2 186.38"/>
<path d="M893.2 135.79L1039.2 170.53"/>
<path d="M893.2 197.42L1039.2 218.84"/>
<path d="M893.2 240.57L1039.2 190.98"/>
<path d="M893.2 226.58L1039.2 209.32"/>
<path d="M893.2 124.7L1039.2 288.53"/>
<path d="M893.2 153.44L1039.2 300.1"/>
<path d="M893.2 288.35L1039.2 125.75"/>
<path d="M893.2 202.82L1039.2 164.17"/>
<path d="M893.2 216.09L1039.2 214.91"/>
<path d="M893.2 218.2L1039.2 289.93"/>
<path d="M893.2 237.66L1039.2 278.03"/>
<path d="M893.2 279.99L1039.2 147.82"/>
<path d="M893.2 159.31L1039.2 299.33"/>
<path d="M893.2 259.75L1039.2 235.01"/>
<path d="M893.2 229.55L1039.2 164.56"/>
<path d="M893.2 242.57L1039.2 205.91"/>
<path d="M893.2 249.25L1039.2 172.17"/>
<path d="M893.2 165.33L1039.2 214.08"/>
<path d="M893.2 185.18L1039.2 123.32"/>
<path d="M893.2 246.43L1039.2 269.09"/>
<path d="M893.2 259.99L1039.2 282.29"/>
<path d="M893.2 235.21L1039.2 197.47"/>
<path d="M893.2 154.23L1039.2 137.18"/>
<path d="M893.2 200.3L1039.2 213.3"/>
<path d="M893.2 193.96L1039.2 153.42"/>
<path d="M893.2 227.13L1039.2 243.05"/>
<path d="M893.2 223.04L1039.2 273.76"/>
<path d="M893.2 194.94L1039.2 140.34"/>
<path d="M893.2 289.38L1039.2 141.57"/>
<path d="M893.2 130.47L1039.2 132.9"/>
<path d="M893.2 252.32L1039.2 240.51"/>
<path d="M893.2 240.71L1039.2 273.81"/>
<path d="M893.2 138.87L1039.2 266.46"/>
<path d="M893.2 194.59L1039.2 222.6"/>
<path d="M893.2 205.28L1039.2 177.23"/>
<path d="M893.2 241.53L1039.2 184.72"/>
<path d="M893.2 283.03L1039.2 286.09"/>
<path d="M893.2 196.8L1039.2 198.25"/>
<path d="M893.2 144.28L1039.2 202.68"/>
<path d="M893.2 257.85L1039.2 210.78"/>
<path d="M893.2 138.02L1039.2 204.12"/>
<path d="M893.2 268.06L1039.2 229.12"/>
<path d="M893.2 249.57L1039.2 180.89"/>
<path d="M893.2 178.22L1039.2 200.35"/>
<path d="M893.2 207.78L1039.2 197.58"/>
<path d="M893.2 168.09L1039.2 246.15"/>
<path d="M893.2 249.97L1039.2 192.05"/>
<path d="M893.2 263.96L1039.2 223.91"/>
<path d="M893.2 289.8L1039.2 297.34"/>
<path d="M893.2 271.16L1039.2 189.68"/>
<path d="M893.2 265.9L1039.2 232.39"/>
<path d="M893.2 279.08L1039.2 166.97"/>
<path d="M893.2 189.54L1039.2 218.44"/>
<path d="M893.2 245.88L1039.2 220.28"/>
<path d="M893.2 291.72L1039.2 210.06"/>
<path d="M893.2 118.34L1039.2 196.86"/>
<path d="M893.2 254.69L1039.2 241.25"/>
<path d="M893.2 273.14L1039.2 292.94"/>
<path d="M893.2 142.53L1039.2 127.84"/>
<path d="M893.2 145.49L1039.2 282.42"/>
<path d="M893.2 269.06L1039.2 237.17"/>
<path d="M893.2 280.53L1039.2 181.69"/>
<path d="M893.2 262.54L1039.2 194.45"/>
<path d="M893.2 146.99L1039.2 172.22"/>
<path d="M893.2 226.15L1039.2 169.26"/>
<path d="M893.2 253.38L1039.2 148.89"/>
<path d="M893.2 209.47L1039.2 193.59"/>
<path d="M893.2 143.93L1039.2 121.56"/>
<path d="M893.2 277.87L1039.2 271.46"/>
<path d="M893.2 230.34L1039.2 199.71"/>
<path d="M893.2 277.67L1039.2 239.54"/>
<path d="M893.2 120.66L1039.2 229.79"/>
<path d="M893.2 125.8L1039.2 183.63"/>
<path d="M893.2 154.98L1039.2 136.43"/>
<path d="M893.2 215.7L1039.2 251.53"/>
<path d="M893.2 169.79L1039.2 247.4"/>
<path d="M893.2 293.17L1039.2 181.24"/>
<path d="M893.2 191.42L1039.2 178.03"/>
<path d="M893.2 276.06L1039.2 130.24"/>
<path d="M893.2 275.66L1039.2 161.49"/>
<path d="M893.2 248.04L1039.2 201.46"/>
<path d="M893.2 228.4L1039.2 231.94"/>
<path d="M893.2 174.42L1039.2 194.83"/>
<path d="M893.2 167.57L1039.2 216.91"/>
<path d="M893.2 192.22L1039.2 278.43"/>
<path d="M893.2 259.97L1039.2 215.84"/>
<path d="M893.2 168.88L1039.2 217.04"/>
<path d="M893.2 214.97L1039.2 225.06"/>
<path d="M893.2 144.89L1039.2 228.86"/>
<path d="M893.2 258.68L1039.2 135.26"/>
<path d="M893.2 297.16L1039.2 186.52"/>
<path d="M893.2 235.62L1039.2 161.76"/>
<path d="M893.2 120.88L1039.2 233.47"/>
<path d="M893.2 180.31L1039.2 263.8"/>
<path d="M893.2 219.3L1039.2 228.39"/>
<path d="M893.2 158.23L1039.2 191.38"/>
<path d="M893.2 178.37L1039.2 227.95"/>
<path d="M893.2 180.74L1039.2 219.07"/>
<path d="M893.2 237.68L1039.2 160.77"/>
<path d="M893.2 203.25L1039.2 192.87"/>
<path d="M893.2 195.84L1039.2 263.27"/>
<path d="M893.2 244.75L1039.2 239.14"/>
<path d="M893.2 267.71L1039.2 253.9"/>
<path d="M893.2 199.52L1039.2 199.35"/>
<path d="M893.2 154.16L1039.2 267.99"/>
<path d="M893.2 170.43L1039.2 217.43"/>
<path d="M893.2 178.89L1039.2 169.03"/>
<path d="M893.2 178.31L1039.2 206.1"/>
<path d="M893.2 117.88L1039.2 247.9"/>
<path d="M893.2 192.39L1039.2 244.49"/>
<path d="M893.2 150.79L1039.2 197.36"/>
<path d="M893.2 123.39L1039.2 172.27"/>
<path d="M893.2 204.62L1039.2 164.02"/>
<path d="M893.2 192.11L1039.2 217.71"/>
<path d="M893.2 150.7L1039.2 273.8"/>
<path d="M893.2 128.6L1039.2 135.35"/>
<path d="M893.2 189.27L1039.2 191.58"/>
<path d="M893.2 186.38L1039.2 185.17"/>
<path d="M893.2 202.38L1039.2 192.43"/>
<path d="M893.2 271.23L1039.2 271.69"/>
<path d="M893.2 147.49L1039.2 222.87"/>
<path d="M893.2 222.72L1039.2 197.2"/>
<path d="M893.2 286.89L1039.2 163.16"/>
<path d="M893.2 216.34L1039.2 208.08"/>
<path d="M893.2 287.07L1039.2 300.17"/>
<path d="M893.2 262.75L1039.2 230.67"/>
<path d="M893.2 206.53L1039.2 190.13"/>
<path d="M893.2 258.67L1039.2 148.12"/>
<path d="M893.2 149.32L1039.2 165.15"/>
<path d="M893.2 108.48L1039.2 292.54"/>
<path d="M893.2 305.03L1039.2 164.01"/>
<path d="M893.2 309.74L1039.2 241.3"/>
<path d="M893.2 315.63L1039.2 173.38"/>
<path d="M893.2 321.52L1039.2 142.63"/>
<path d="M893.2 335.66L1039.2 182.01"/>
<path d="M893.2 338.02L1039.2 221.95"/>
<path d="M893.2 340.38L1039.2 192.12"/>
<path d="M893.2 354.52L1039.2 153.75"/>
<path d="M893.2 356.87L1039.2 178.68"/>
<path d="M893.2 359.23L1039.2 248.78"/>
<path d="M893.2 375.02L1039.2 298.24"/>
<path d="M893.2 117.59L1039.2 67"/>
<path d="M893.2 175.03L1039.2 82.32"/>
<path d="M893.2 148.77L1039.2 102.35"/>
<path d="M893.2 123.91L1039.2 107.06"/>
<path d="M893.2 170.54L1039.2 111.78"/>
<path d="M893.2 157.97L1039.2 115.31"/>
<path d="M893.2 278.69L1039.2 305.03"/>
<path d="M893.2 288.46L1039.2 314.45"/>
<path d="M893.2 135.83L1039.2 316.81"/>
<path d="M893.2 248.51L1039.2 326.24"/>
<path d="M893.2 237.43L1039.2 328.59"/>
<path d="M893.2 267.01L1039.2 335.66"/>
<path d="M893.2 187.48L1039.2 341.56"/>
</g>
<circle cx="601.2" cy="229.78" r="2.9" fill="#0079bb" fill-opacity="0.55"/>
<circle cx="601.2" cy="156.18" r="2.9" fill="#0079bb" fill-opacity="0.55"/>
<circle cx="601.2" cy="161.42" r="2.9" fill="#0079bb" fill-opacity="0.55"/>
<circle cx="601.2" cy="265.02" r="2.9" fill="#0079bb" fill-opacity="0.55"/>
<circle cx="601.2" cy="251.58" r="2.9" fill="#0079bb" fill-opacity="0.55"/>
<circle cx="601.2" cy="266.07" r="2.9" fill="#0079bb" fill-opacity="0.55"/>
<circle cx="601.2" cy="195.43" r="2.9" fill="#0079bb" fill-opacity="0.55"/>
<circle cx="601.2" cy="235.74" r="2.9" fill="#0079bb" fill-opacity="0.55"/>
<circle cx="601.2" cy="185.04" r="2.9" fill="#0079bb" fill-opacity="0.55"/>
<circle cx="601.2" cy="321.23" r="2.9" fill="#0079bb" fill-opacity="0.55"/>
<circle cx="601.2" cy="149.5" r="2.9" fill="#0079bb" fill-opacity="0.55"/>
<circle cx="601.2" cy="238.41" r="2.9" fill="#0079bb" fill-opacity="0.55"/>
<circle cx="601.2" cy="188.86" r="2.9" fill="#0079bb" fill-opacity="0.55"/>
<circle cx="601.2" cy="241.05" r="2.9" fill="#0079bb" fill-opacity="0.55"/>
<circle cx="601.2" cy="256.79" r="2.9" fill="#0079bb" fill-opacity="0.55"/>
<circle cx="601.2" cy="201.99" r="2.9" fill="#0079bb" fill-opacity="0.55"/>
<circle cx="601.2" cy="180.72" r="2.9" fill="#0079bb" fill-opacity="0.55"/>
<circle cx="601.2" cy="245.38" r="2.9" fill="#0079bb" fill-opacity="0.55"/>
<circle cx="601.2" cy="242.12" r="2.9" fill="#0079bb" fill-opacity="0.55"/>
<circle cx="601.2" cy="188.55" r="2.9" fill="#0079bb" fill-opacity="0.55"/>
<circle cx="601.2" cy="285.85" r="2.9" fill="#0079bb" fill-opacity="0.55"/>
<circle cx="601.2" cy="313.1" r="2.9" fill="#0079bb" fill-opacity="0.55"/>
<circle cx="601.2" cy="206.28" r="2.9" fill="#0079bb" fill-opacity="0.55"/>
<circle cx="601.2" cy="274.66" r="2.9" fill="#0079bb" fill-opacity="0.55"/>
<circle cx="601.2" cy="322.52" r="2.9" fill="#0079bb" fill-opacity="0.55"/>
<circle cx="601.2" cy="282.8" r="2.9" fill="#0079bb" fill-opacity="0.55"/>
<circle cx="601.2" cy="262.37" r="2.9" fill="#0079bb" fill-opacity="0.55"/>
<circle cx="601.2" cy="301.38" r="2.9" fill="#0079bb" fill-opacity="0.55"/>
<circle cx="601.2" cy="312.43" r="2.9" fill="#0079bb" fill-opacity="0.55"/>
<circle cx="601.2" cy="229.62" r="2.9" fill="#0079bb" fill-opacity="0.55"/>
<circle cx="601.2" cy="176.83" r="2.9" fill="#0079bb" fill-opacity="0.55"/>
<circle cx="601.2" cy="247.38" r="2.9" fill="#0079bb" fill-opacity="0.55"/>
<circle cx="601.2" cy="278.87" r="2.9" fill="#0079bb" fill-opacity="0.55"/>
<circle cx="601.2" cy="206.92" r="2.9" fill="#0079bb" fill-opacity="0.55"/>
<circle cx="601.2" cy="186.73" r="2.9" fill="#0079bb" fill-opacity="0.55"/>
<circle cx="601.2" cy="251.72" r="2.9" fill="#0079bb" fill-opacity="0.55"/>
<circle cx="601.2" cy="196.96" r="2.9" fill="#0079bb" fill-opacity="0.55"/>
<circle cx="601.2" cy="169.53" r="2.9" fill="#0079bb" fill-opacity="0.55"/>
<circle cx="601.2" cy="245.67" r="2.9" fill="#0079bb" fill-opacity="0.55"/>
<circle cx="601.2" cy="282.77" r="2.9" fill="#0079bb" fill-opacity="0.55"/>
<circle cx="601.2" cy="209.3" r="2.9" fill="#0079bb" fill-opacity="0.55"/>
<circle cx="601.2" cy="215.76" r="2.9" fill="#0079bb" fill-opacity="0.55"/>
<circle cx="601.2" cy="166.91" r="2.9" fill="#0079bb" fill-opacity="0.55"/>
<circle cx="601.2" cy="305.11" r="2.9" fill="#0079bb" fill-opacity="0.55"/>
<circle cx="601.2" cy="274.14" r="2.9" fill="#0079bb" fill-opacity="0.55"/>
<circle cx="601.2" cy="284.12" r="2.9" fill="#0079bb" fill-opacity="0.55"/>
<circle cx="601.2" cy="318.89" r="2.9" fill="#0079bb" fill-opacity="0.55"/>
<circle cx="601.2" cy="223.69" r="2.9" fill="#0079bb" fill-opacity="0.55"/>
<circle cx="601.2" cy="197.99" r="2.9" fill="#0079bb" fill-opacity="0.55"/>
<circle cx="601.2" cy="278.6" r="2.9" fill="#0079bb" fill-opacity="0.55"/>
<circle cx="601.2" cy="155.26" r="2.9" fill="#0079bb" fill-opacity="0.55"/>
<circle cx="601.2" cy="180.86" r="2.9" fill="#0079bb" fill-opacity="0.55"/>
<circle cx="601.2" cy="191.97" r="2.9" fill="#0079bb" fill-opacity="0.55"/>
<circle cx="601.2" cy="205.86" r="2.9" fill="#0079bb" fill-opacity="0.55"/>
<circle cx="601.2" cy="173.82" r="2.9" fill="#0079bb" fill-opacity="0.55"/>
<circle cx="601.2" cy="306.92" r="2.9" fill="#0079bb" fill-opacity="0.55"/>
<circle cx="601.2" cy="192.77" r="2.9" fill="#0079bb" fill-opacity="0.55"/>
<circle cx="601.2" cy="193.44" r="2.9" fill="#0079bb" fill-opacity="0.55"/>
<circle cx="601.2" cy="319.63" r="2.9" fill="#0079bb" fill-opacity="0.55"/>
<circle cx="601.2" cy="209.34" r="2.9" fill="#0079bb" fill-opacity="0.55"/>
<circle cx="601.2" cy="248.5" r="2.9" fill="#0079bb" fill-opacity="0.55"/>
<circle cx="601.2" cy="183.09" r="2.9" fill="#0079bb" fill-opacity="0.55"/>
<circle cx="601.2" cy="260.58" r="2.9" fill="#0079bb" fill-opacity="0.55"/>
<circle cx="601.2" cy="233.24" r="2.9" fill="#0079bb" fill-opacity="0.55"/>
<circle cx="601.2" cy="209.61" r="2.9" fill="#0079bb" fill-opacity="0.55"/>
<circle cx="601.2" cy="286.16" r="2.9" fill="#0079bb" fill-opacity="0.55"/>
<circle cx="601.2" cy="193.69" r="2.9" fill="#0079bb" fill-opacity="0.55"/>
<circle cx="601.2" cy="238.97" r="2.9" fill="#0079bb" fill-opacity="0.55"/>
<circle cx="601.2" cy="200.17" r="2.9" fill="#0079bb" fill-opacity="0.55"/>
<circle cx="601.2" cy="265.73" r="2.9" fill="#0079bb" fill-opacity="0.55"/>
<circle cx="601.2" cy="167.49" r="2.9" fill="#0079bb" fill-opacity="0.55"/>
<circle cx="601.2" cy="193.3" r="2.9" fill="#0079bb" fill-opacity="0.55"/>
<circle cx="601.2" cy="243.77" r="2.9" fill="#0079bb" fill-opacity="0.55"/>
<circle cx="601.2" cy="191.7" r="2.9" fill="#0079bb" fill-opacity="0.55"/>
<circle cx="601.2" cy="159.99" r="2.9" fill="#0079bb" fill-opacity="0.55"/>
<circle cx="601.2" cy="144.03" r="2.9" fill="#0079bb" fill-opacity="0.55"/>
<circle cx="601.2" cy="314.84" r="2.9" fill="#0079bb" fill-opacity="0.55"/>
<circle cx="601.2" cy="177.57" r="2.9" fill="#0079bb" fill-opacity="0.55"/>
<circle cx="601.2" cy="201.87" r="2.9" fill="#0079bb" fill-opacity="0.55"/>
<circle cx="601.2" cy="238.24" r="2.9" fill="#0079bb" fill-opacity="0.55"/>
<circle cx="601.2" cy="292.83" r="2.9" fill="#0079bb" fill-opacity="0.55"/>
<circle cx="601.2" cy="160.1" r="2.9" fill="#0079bb" fill-opacity="0.55"/>
<circle cx="601.2" cy="304.21" r="2.9" fill="#0079bb" fill-opacity="0.55"/>
<circle cx="601.2" cy="195.6" r="2.9" fill="#0079bb" fill-opacity="0.55"/>
<circle cx="601.2" cy="158.34" r="2.9" fill="#0079bb" fill-opacity="0.55"/>
<circle cx="601.2" cy="315.56" r="2.9" fill="#0079bb" fill-opacity="0.55"/>
<circle cx="601.2" cy="251.88" r="2.9" fill="#0079bb" fill-opacity="0.55"/>
<circle cx="601.2" cy="306.06" r="2.9" fill="#0079bb" fill-opacity="0.55"/>
<circle cx="601.2" cy="215.99" r="2.9" fill="#0079bb" fill-opacity="0.55"/>
<circle cx="601.2" cy="151.04" r="2.9" fill="#0079bb" fill-opacity="0.55"/>
<circle cx="601.2" cy="140.08" r="2.9" fill="#0079bb" fill-opacity="0.55"/>
<circle cx="601.2" cy="319.85" r="2.9" fill="#0079bb" fill-opacity="0.55"/>
<circle cx="601.2" cy="268.97" r="2.9" fill="#0079bb" fill-opacity="0.55"/>
<circle cx="601.2" cy="187.51" r="2.9" fill="#0079bb" fill-opacity="0.55"/>
<circle cx="601.2" cy="149.14" r="2.9" fill="#0079bb" fill-opacity="0.55"/>
<circle cx="601.2" cy="204.62" r="2.9" fill="#0079bb" fill-opacity="0.55"/>
<circle cx="601.2" cy="279.01" r="2.9" fill="#0079bb" fill-opacity="0.55"/>
<circle cx="601.2" cy="212.55" r="2.9" fill="#0079bb" fill-opacity="0.55"/>
<circle cx="601.2" cy="233.14" r="2.9" fill="#0079bb" fill-opacity="0.55"/>
<circle cx="601.2" cy="245.46" r="2.9" fill="#0079bb" fill-opacity="0.55"/>
<circle cx="601.2" cy="278.35" r="2.9" fill="#0079bb" fill-opacity="0.55"/>
<circle cx="601.2" cy="206.77" r="2.9" fill="#0079bb" fill-opacity="0.55"/>
<circle cx="601.2" cy="211.86" r="2.9" fill="#0079bb" fill-opacity="0.55"/>
<circle cx="601.2" cy="238.18" r="2.9" fill="#0079bb" fill-opacity="0.55"/>
<circle cx="601.2" cy="246.63" r="2.9" fill="#0079bb" fill-opacity="0.55"/>
<circle cx="601.2" cy="305.12" r="2.9" fill="#0079bb" fill-opacity="0.55"/>
<circle cx="601.2" cy="263.53" r="2.9" fill="#0079bb" fill-opacity="0.55"/>
<circle cx="601.2" cy="162.18" r="2.9" fill="#0079bb" fill-opacity="0.55"/>
<circle cx="601.2" cy="244.59" r="2.9" fill="#0079bb" fill-opacity="0.55"/>
<circle cx="601.2" cy="310.72" r="2.9" fill="#0079bb" fill-opacity="0.55"/>
<circle cx="601.2" cy="157.11" r="2.9" fill="#0079bb" fill-opacity="0.55"/>
<circle cx="601.2" cy="197.84" r="2.9" fill="#0079bb" fill-opacity="0.55"/>
<circle cx="601.2" cy="139.01" r="2.9" fill="#0079bb" fill-opacity="0.55"/>
<circle cx="601.2" cy="227.91" r="2.9" fill="#0079bb" fill-opacity="0.55"/>
<circle cx="601.2" cy="261.98" r="2.9" fill="#0079bb" fill-opacity="0.55"/>
<circle cx="601.2" cy="310.99" r="2.9" fill="#0079bb" fill-opacity="0.55"/>
<circle cx="601.2" cy="157.51" r="2.9" fill="#0079bb" fill-opacity="0.55"/>
<circle cx="601.2" cy="135.6" r="2.9" fill="#0079bb" fill-opacity="0.55"/>
<circle cx="601.2" cy="283.18" r="2.9" fill="#0079bb" fill-opacity="0.55"/>
<circle cx="601.2" cy="273.28" r="2.9" fill="#0079bb" fill-opacity="0.55"/>
<circle cx="601.2" cy="193.84" r="2.9" fill="#0079bb" fill-opacity="0.55"/>
<circle cx="601.2" cy="283.69" r="2.9" fill="#0079bb" fill-opacity="0.55"/>
<circle cx="601.2" cy="249.81" r="2.9" fill="#0079bb" fill-opacity="0.55"/>
<circle cx="601.2" cy="254.92" r="2.9" fill="#0079bb" fill-opacity="0.55"/>
<circle cx="601.2" cy="219.39" r="2.9" fill="#0079bb" fill-opacity="0.55"/>
<circle cx="601.2" cy="167.09" r="2.9" fill="#0079bb" fill-opacity="0.55"/>
<circle cx="601.2" cy="230.58" r="2.9" fill="#0079bb" fill-opacity="0.55"/>
<circle cx="601.2" cy="175.7" r="2.9" fill="#0079bb" fill-opacity="0.55"/>
<circle cx="601.2" cy="259.37" r="2.9" fill="#0079bb" fill-opacity="0.55"/>
<circle cx="601.2" cy="210.57" r="2.9" fill="#0079bb" fill-opacity="0.55"/>
<circle cx="601.2" cy="325.5" r="2.9" fill="#0079bb" fill-opacity="0.55"/>
<circle cx="601.2" cy="311.06" r="2.9" fill="#0079bb" fill-opacity="0.55"/>
<circle cx="601.2" cy="182.29" r="2.9" fill="#0079bb" fill-opacity="0.55"/>
<circle cx="601.2" cy="269.89" r="2.9" fill="#0079bb" fill-opacity="0.55"/>
<circle cx="601.2" cy="194.82" r="2.9" fill="#0079bb" fill-opacity="0.55"/>
<circle cx="601.2" cy="197.1" r="2.9" fill="#0079bb" fill-opacity="0.55"/>
<circle cx="601.2" cy="157.57" r="2.9" fill="#0079bb" fill-opacity="0.55"/>
<circle cx="601.2" cy="181.41" r="2.9" fill="#0079bb" fill-opacity="0.55"/>
<circle cx="601.2" cy="170.78" r="2.9" fill="#0079bb" fill-opacity="0.55"/>
<circle cx="601.2" cy="239.41" r="2.9" fill="#0079bb" fill-opacity="0.55"/>
<circle cx="601.2" cy="276.27" r="2.9" fill="#0079bb" fill-opacity="0.55"/>
<circle cx="601.2" cy="278.19" r="2.9" fill="#0079bb" fill-opacity="0.55"/>
<circle cx="601.2" cy="263.64" r="2.9" fill="#0079bb" fill-opacity="0.55"/>
<circle cx="601.2" cy="298.61" r="2.9" fill="#0079bb" fill-opacity="0.55"/>
<circle cx="601.2" cy="267.3" r="2.9" fill="#0079bb" fill-opacity="0.55"/>
<circle cx="601.2" cy="238.15" r="2.9" fill="#0079bb" fill-opacity="0.55"/>
<circle cx="601.2" cy="215.5" r="2.9" fill="#0079bb" fill-opacity="0.55"/>
<circle cx="601.2" cy="254.22" r="2.9" fill="#0079bb" fill-opacity="0.55"/>
<circle cx="601.2" cy="322.58" r="2.9" fill="#0079bb" fill-opacity="0.55"/>
<circle cx="601.2" cy="236.81" r="2.9" fill="#0079bb" fill-opacity="0.55"/>
<circle cx="601.2" cy="217.21" r="2.9" fill="#0079bb" fill-opacity="0.55"/>
<circle cx="601.2" cy="167.57" r="2.9" fill="#0079bb" fill-opacity="0.55"/>
<circle cx="601.2" cy="194.94" r="2.9" fill="#0079bb" fill-opacity="0.55"/>
<circle cx="601.2" cy="273.07" r="2.9" fill="#0079bb" fill-opacity="0.55"/>
<circle cx="601.2" cy="277.74" r="2.9" fill="#0079bb" fill-opacity="0.55"/>
<circle cx="601.2" cy="140.26" r="2.9" fill="#0079bb" fill-opacity="0.55"/>
<circle cx="601.2" cy="184.49" r="2.9" fill="#0079bb" fill-opacity="0.55"/>
<circle cx="601.2" cy="143.23" r="2.9" fill="#0079bb" fill-opacity="0.55"/>
<circle cx="601.2" cy="138.76" r="2.9" fill="#0079bb" fill-opacity="0.55"/>
<circle cx="601.2" cy="283.02" r="2.9" fill="#0079bb" fill-opacity="0.55"/>
<circle cx="601.2" cy="206.9" r="2.9" fill="#0079bb" fill-opacity="0.55"/>
<circle cx="601.2" cy="202.3" r="2.9" fill="#0079bb" fill-opacity="0.55"/>
<circle cx="601.2" cy="196.05" r="2.9" fill="#0079bb" fill-opacity="0.55"/>
<circle cx="601.2" cy="197.12" r="2.9" fill="#0079bb" fill-opacity="0.55"/>
<circle cx="601.2" cy="218.73" r="2.9" fill="#0079bb" fill-opacity="0.55"/>
<circle cx="601.2" cy="220.56" r="2.9" fill="#0079bb" fill-opacity="0.55"/>
<circle cx="601.2" cy="312.74" r="2.9" fill="#0079bb" fill-opacity="0.55"/>
<circle cx="601.2" cy="242.94" r="2.9" fill="#0079bb" fill-opacity="0.55"/>
<circle cx="601.2" cy="279.1" r="2.9" fill="#0079bb" fill-opacity="0.55"/>
<circle cx="601.2" cy="223.72" r="2.9" fill="#0079bb" fill-opacity="0.55"/>
<circle cx="601.2" cy="262.37" r="2.9" fill="#0079bb" fill-opacity="0.55"/>
<circle cx="601.2" cy="192.5" r="2.9" fill="#0079bb" fill-opacity="0.55"/>
<circle cx="601.2" cy="181.02" r="2.9" fill="#0079bb" fill-opacity="0.55"/>
<circle cx="601.2" cy="211.8" r="2.9" fill="#0079bb" fill-opacity="0.55"/>
<circle cx="601.2" cy="211.32" r="2.9" fill="#0079bb" fill-opacity="0.55"/>
<circle cx="601.2" cy="225.9" r="2.9" fill="#0079bb" fill-opacity="0.55"/>
<circle cx="601.2" cy="261.13" r="2.9" fill="#0079bb" fill-opacity="0.55"/>
<circle cx="601.2" cy="242.88" r="2.9" fill="#0079bb" fill-opacity="0.55"/>
<circle cx="601.2" cy="264.11" r="2.9" fill="#0079bb" fill-opacity="0.55"/>
<circle cx="601.2" cy="206.73" r="2.9" fill="#0079bb" fill-opacity="0.55"/>
<circle cx="601.2" cy="231.1" r="2.9" fill="#0079bb" fill-opacity="0.55"/>
<circle cx="601.2" cy="194.73" r="2.9" fill="#0079bb" fill-opacity="0.55"/>
<circle cx="601.2" cy="306.8" r="2.9" fill="#0079bb" fill-opacity="0.55"/>
<circle cx="601.2" cy="177.33" r="2.9" fill="#0079bb" fill-opacity="0.55"/>
<circle cx="601.2" cy="279.95" r="2.9" fill="#0079bb" fill-opacity="0.55"/>
<circle cx="601.2" cy="278.34" r="2.9" fill="#0079bb" fill-opacity="0.55"/>
<circle cx="601.2" cy="245.04" r="2.9" fill="#0079bb" fill-opacity="0.55"/>
<circle cx="601.2" cy="268.27" r="2.9" fill="#0079bb" fill-opacity="0.55"/>
<circle cx="601.2" cy="212.94" r="2.9" fill="#0079bb" fill-opacity="0.55"/>
<circle cx="601.2" cy="268.92" r="2.9" fill="#0079bb" fill-opacity="0.55"/>
<circle cx="601.2" cy="295.84" r="2.9" fill="#0079bb" fill-opacity="0.55"/>
<circle cx="601.2" cy="284.53" r="2.9" fill="#0079bb" fill-opacity="0.55"/>
<circle cx="601.2" cy="157.96" r="2.9" fill="#0079bb" fill-opacity="0.55"/>
<circle cx="601.2" cy="229.11" r="2.9" fill="#0079bb" fill-opacity="0.55"/>
<circle cx="601.2" cy="300.28" r="2.9" fill="#0079bb" fill-opacity="0.55"/>
<circle cx="601.2" cy="231.48" r="2.9" fill="#0079bb" fill-opacity="0.55"/>
<circle cx="601.2" cy="314.33" r="2.9" fill="#0079bb" fill-opacity="0.55"/>
<circle cx="601.2" cy="144.06" r="2.9" fill="#0079bb" fill-opacity="0.55"/>
<circle cx="601.2" cy="313.41" r="2.9" fill="#0079bb" fill-opacity="0.55"/>
<circle cx="601.2" cy="201.02" r="2.9" fill="#0079bb" fill-opacity="0.55"/>
<circle cx="601.2" cy="197.02" r="2.9" fill="#0079bb" fill-opacity="0.55"/>
<circle cx="601.2" cy="311.07" r="2.9" fill="#0079bb" fill-opacity="0.55"/>
<circle cx="601.2" cy="212.35" r="2.9" fill="#0079bb" fill-opacity="0.55"/>
<circle cx="601.2" cy="171.75" r="2.9" fill="#0079bb" fill-opacity="0.55"/>
<circle cx="601.2" cy="201.71" r="2.9" fill="#0079bb" fill-opacity="0.55"/>
<circle cx="601.2" cy="214.89" r="2.9" fill="#0079bb" fill-opacity="0.55"/>
<circle cx="601.2" cy="174.15" r="2.9" fill="#0079bb" fill-opacity="0.55"/>
<circle cx="601.2" cy="221.43" r="2.9" fill="#0079bb" fill-opacity="0.55"/>
<circle cx="601.2" cy="210.02" r="2.9" fill="#0079bb" fill-opacity="0.55"/>
<circle cx="601.2" cy="240.4" r="2.9" fill="#0079bb" fill-opacity="0.55"/>
<circle cx="601.2" cy="191.71" r="2.9" fill="#0079bb" fill-opacity="0.55"/>
<circle cx="601.2" cy="289.56" r="2.9" fill="#0079bb" fill-opacity="0.55"/>
<circle cx="601.2" cy="182.52" r="2.9" fill="#0079bb" fill-opacity="0.55"/>
<circle cx="601.2" cy="264.71" r="2.9" fill="#0079bb" fill-opacity="0.55"/>
<circle cx="601.2" cy="296.83" r="2.9" fill="#0079bb" fill-opacity="0.55"/>
<circle cx="601.2" cy="208.17" r="2.9" fill="#0079bb" fill-opacity="0.55"/>
<circle cx="601.2" cy="146.2" r="2.9" fill="#0079bb" fill-opacity="0.55"/>
<circle cx="601.2" cy="173.52" r="2.9" fill="#0079bb" fill-opacity="0.55"/>
<circle cx="601.2" cy="265.35" r="2.9" fill="#0079bb" fill-opacity="0.55"/>
<circle cx="601.2" cy="187.83" r="2.9" fill="#0079bb" fill-opacity="0.55"/>
<circle cx="601.2" cy="261.53" r="2.9" fill="#0079bb" fill-opacity="0.55"/>
<circle cx="601.2" cy="240.22" r="2.9" fill="#0079bb" fill-opacity="0.55"/>
<circle cx="601.2" cy="226.12" r="2.9" fill="#0079bb" fill-opacity="0.55"/>
<circle cx="601.2" cy="327.14" r="2.9" fill="#0079bb" fill-opacity="0.55"/>
<circle cx="601.2" cy="219.41" r="2.9" fill="#0079bb" fill-opacity="0.55"/>
<circle cx="601.2" cy="293.94" r="2.9" fill="#0079bb" fill-opacity="0.55"/>
<circle cx="601.2" cy="276.22" r="2.9" fill="#0079bb" fill-opacity="0.55"/>
<circle cx="601.2" cy="311.85" r="2.9" fill="#0079bb" fill-opacity="0.55"/>
<circle cx="601.2" cy="313.17" r="2.9" fill="#0079bb" fill-opacity="0.55"/>
<circle cx="601.2" cy="289.65" r="2.9" fill="#0079bb" fill-opacity="0.55"/>
<circle cx="601.2" cy="180.66" r="2.9" fill="#0079bb" fill-opacity="0.55"/>
<circle cx="601.2" cy="146.86" r="2.9" fill="#0079bb" fill-opacity="0.55"/>
<circle cx="601.2" cy="233.7" r="2.9" fill="#0079bb" fill-opacity="0.55"/>
<circle cx="601.2" cy="167.23" r="2.9" fill="#0079bb" fill-opacity="0.55"/>
<circle cx="601.2" cy="249.38" r="2.9" fill="#0079bb" fill-opacity="0.55"/>
<circle cx="601.2" cy="322.38" r="2.9" fill="#0079bb" fill-opacity="0.55"/>
<circle cx="601.2" cy="222.15" r="2.9" fill="#0079bb" fill-opacity="0.55"/>
<circle cx="601.2" cy="203.09" r="2.9" fill="#0079bb" fill-opacity="0.55"/>
<circle cx="601.2" cy="259.93" r="2.9" fill="#0079bb" fill-opacity="0.55"/>
<circle cx="601.2" cy="212.22" r="2.9" fill="#0079bb" fill-opacity="0.55"/>
<circle cx="601.2" cy="195.26" r="2.9" fill="#0079bb" fill-opacity="0.55"/>
<circle cx="601.2" cy="285.48" r="2.9" fill="#0079bb" fill-opacity="0.55"/>
<circle cx="601.2" cy="311.93" r="2.9" fill="#0079bb" fill-opacity="0.55"/>
<circle cx="601.2" cy="246.6" r="2.9" fill="#0079bb" fill-opacity="0.55"/>
<circle cx="601.2" cy="245.93" r="2.9" fill="#0079bb" fill-opacity="0.55"/>
<circle cx="601.2" cy="255.1" r="2.9" fill="#0079bb" fill-opacity="0.55"/>
<circle cx="601.2" cy="172.24" r="2.9" fill="#0079bb" fill-opacity="0.55"/>
<circle cx="601.2" cy="145.44" r="2.9" fill="#0079bb" fill-opacity="0.55"/>
<circle cx="601.2" cy="259.17" r="2.9" fill="#0079bb" fill-opacity="0.55"/>
<circle cx="601.2" cy="187.78" r="2.9" fill="#0079bb" fill-opacity="0.55"/>
<circle cx="601.2" cy="174.57" r="2.9" fill="#0079bb" fill-opacity="0.55"/>
<circle cx="601.2" cy="186.96" r="2.9" fill="#0079bb" fill-opacity="0.55"/>
<circle cx="601.2" cy="169.31" r="2.9" fill="#0079bb" fill-opacity="0.55"/>
<circle cx="601.2" cy="257.43" r="2.9" fill="#0079bb" fill-opacity="0.55"/>
<circle cx="601.2" cy="185.44" r="2.9" fill="#0079bb" fill-opacity="0.55"/>
<circle cx="601.2" cy="140.06" r="2.9" fill="#0079bb" fill-opacity="0.55"/>
<circle cx="601.2" cy="181.87" r="2.9" fill="#0079bb" fill-opacity="0.55"/>
<circle cx="601.2" cy="271.67" r="2.9" fill="#0079bb" fill-opacity="0.55"/>
<circle cx="601.2" cy="193.15" r="2.9" fill="#0079bb" fill-opacity="0.55"/>
<circle cx="601.2" cy="159.89" r="2.9" fill="#0079bb" fill-opacity="0.55"/>
<circle cx="601.2" cy="207.94" r="2.9" fill="#0079bb" fill-opacity="0.55"/>
<circle cx="601.2" cy="268.27" r="2.9" fill="#0079bb" fill-opacity="0.55"/>
<circle cx="601.2" cy="150.18" r="2.9" fill="#0079bb" fill-opacity="0.55"/>
<circle cx="601.2" cy="303.73" r="2.9" fill="#0079bb" fill-opacity="0.55"/>
<circle cx="601.2" cy="199.49" r="2.9" fill="#0079bb" fill-opacity="0.55"/>
<circle cx="601.2" cy="233.11" r="2.9" fill="#0079bb" fill-opacity="0.55"/>
<circle cx="601.2" cy="301.4" r="2.9" fill="#0079bb" fill-opacity="0.55"/>
<circle cx="601.2" cy="161.64" r="2.9" fill="#0079bb" fill-opacity="0.55"/>
<circle cx="601.2" cy="209.28" r="2.9" fill="#0079bb" fill-opacity="0.55"/>
<circle cx="601.2" cy="300.24" r="2.9" fill="#0079bb" fill-opacity="0.55"/>
<circle cx="601.2" cy="193.5" r="2.9" fill="#0079bb" fill-opacity="0.55"/>
<circle cx="601.2" cy="260.11" r="2.9" fill="#0079bb" fill-opacity="0.55"/>
<circle cx="601.2" cy="322.22" r="2.9" fill="#0079bb" fill-opacity="0.55"/>
<circle cx="601.2" cy="275.73" r="2.9" fill="#0079bb" fill-opacity="0.55"/>
<circle cx="601.2" cy="214.72" r="2.9" fill="#0079bb" fill-opacity="0.55"/>
<circle cx="601.2" cy="191.48" r="2.9" fill="#0079bb" fill-opacity="0.55"/>
<circle cx="601.2" cy="221.12" r="2.9" fill="#0079bb" fill-opacity="0.55"/>
<circle cx="601.2" cy="229.05" r="2.9" fill="#0079bb" fill-opacity="0.55"/>
<circle cx="601.2" cy="201.56" r="2.9" fill="#0079bb" fill-opacity="0.55"/>
<circle cx="601.2" cy="245.93" r="2.9" fill="#0079bb" fill-opacity="0.55"/>
<circle cx="601.2" cy="163.43" r="2.9" fill="#0079bb" fill-opacity="0.55"/>
<circle cx="601.2" cy="222.23" r="2.9" fill="#0079bb" fill-opacity="0.55"/>
<circle cx="601.2" cy="212.76" r="2.9" fill="#0079bb" fill-opacity="0.55"/>
<circle cx="601.2" cy="91.27" r="2.9" fill="#0079bb" fill-opacity="0.55"/>
<circle cx="601.2" cy="119.32" r="2.9" fill="#0079bb" fill-opacity="0.55"/>
<circle cx="601.2" cy="344.15" r="2.9" fill="#0079bb" fill-opacity="0.55"/>
<circle cx="601.2" cy="345.09" r="2.9" fill="#0079bb" fill-opacity="0.55"/>
<circle cx="601.2" cy="361.59" r="2.9" fill="#0079bb" fill-opacity="0.55"/>
<circle cx="601.2" cy="365.59" r="2.9" fill="#0079bb" fill-opacity="0.55"/>
<circle cx="601.2" cy="309.22" r="2.9" fill="#0079bb" fill-opacity="0.55"/>
<circle cx="601.2" cy="313.84" r="2.9" fill="#0079bb" fill-opacity="0.55"/>
<circle cx="601.2" cy="187.33" r="2.9" fill="#0079bb" fill-opacity="0.55"/>
<circle cx="601.2" cy="283.85" r="2.9" fill="#0079bb" fill-opacity="0.55"/>
<circle cx="601.2" cy="181.75" r="2.9" fill="#0079bb" fill-opacity="0.55"/>
<circle cx="601.2" cy="238" r="2.9" fill="#0079bb" fill-opacity="0.55"/>
<circle cx="601.2" cy="328.05" r="2.9" fill="#0079bb" fill-opacity="0.55"/>
<circle cx="601.2" cy="221.82" r="2.9" fill="#0079bb" fill-opacity="0.55"/>
<circle cx="601.2" cy="241.49" r="2.9" fill="#0079bb" fill-opacity="0.55"/>
<circle cx="601.2" cy="310.98" r="2.9" fill="#0079bb" fill-opacity="0.55"/>
<circle cx="601.2" cy="272.87" r="2.9" fill="#0079bb" fill-opacity="0.55"/>
<circle cx="747.2" cy="153.63" r="2.9" fill="#0079bb" fill-opacity="0.55"/>
<circle cx="747.2" cy="182.35" r="2.9" fill="#0079bb" fill-opacity="0.55"/>
<circle cx="747.2" cy="171.95" r="2.9" fill="#0079bb" fill-opacity="0.55"/>
<circle cx="747.2" cy="131.82" r="2.9" fill="#0079bb" fill-opacity="0.55"/>
<circle cx="747.2" cy="170.27" r="2.9" fill="#0079bb" fill-opacity="0.55"/>
<circle cx="747.2" cy="200.66" r="2.9" fill="#0079bb" fill-opacity="0.55"/>
<circle cx="747.2" cy="147.9" r="2.9" fill="#0079bb" fill-opacity="0.55"/>
<circle cx="747.2" cy="196.42" r="2.9" fill="#0079bb" fill-opacity="0.55"/>
<circle cx="747.2" cy="145.95" r="2.9" fill="#0079bb" fill-opacity="0.55"/>
<circle cx="747.2" cy="237.12" r="2.9" fill="#0079bb" fill-opacity="0.55"/>
<circle cx="747.2" cy="128.42" r="2.9" fill="#0079bb" fill-opacity="0.55"/>
<circle cx="747.2" cy="232.19" r="2.9" fill="#0079bb" fill-opacity="0.55"/>
<circle cx="747.2" cy="117.02" r="2.9" fill="#0079bb" fill-opacity="0.55"/>
<circle cx="747.2" cy="199.64" r="2.9" fill="#0079bb" fill-opacity="0.55"/>
<circle cx="747.2" cy="236.16" r="2.9" fill="#0079bb" fill-opacity="0.55"/>
<circle cx="747.2" cy="172.6" r="2.9" fill="#0079bb" fill-opacity="0.55"/>
<circle cx="747.2" cy="168.96" r="2.9" fill="#0079bb" fill-opacity="0.55"/>
<circle cx="747.2" cy="175.09" r="2.9" fill="#0079bb" fill-opacity="0.55"/>
<circle cx="747.2" cy="221.74" r="2.9" fill="#0079bb" fill-opacity="0.55"/>
<circle cx="747.2" cy="143.14" r="2.9" fill="#0079bb" fill-opacity="0.55"/>
<circle cx="747.2" cy="104.7" r="2.9" fill="#0079bb" fill-opacity="0.55"/>
<circle cx="747.2" cy="242.82" r="2.9" fill="#0079bb" fill-opacity="0.55"/>
<circle cx="747.2" cy="152.33" r="2.9" fill="#0079bb" fill-opacity="0.55"/>
<circle cx="747.2" cy="205.2" r="2.9" fill="#0079bb" fill-opacity="0.55"/>
<circle cx="747.2" cy="216.3" r="2.9" fill="#0079bb" fill-opacity="0.55"/>
<circle cx="747.2" cy="243.58" r="2.9" fill="#0079bb" fill-opacity="0.55"/>
<circle cx="747.2" cy="227.73" r="2.9" fill="#0079bb" fill-opacity="0.55"/>
<circle cx="747.2" cy="188.9" r="2.9" fill="#0079bb" fill-opacity="0.55"/>
<circle cx="747.2" cy="214.62" r="2.9" fill="#0079bb" fill-opacity="0.55"/>
<circle cx="747.2" cy="119.51" r="2.9" fill="#0079bb" fill-opacity="0.55"/>
<circle cx="747.2" cy="180.43" r="2.9" fill="#0079bb" fill-opacity="0.55"/>
<circle cx="747.2" cy="175.01" r="2.9" fill="#0079bb" fill-opacity="0.55"/>
<circle cx="747.2" cy="108.05" r="2.9" fill="#0079bb" fill-opacity="0.55"/>
<circle cx="747.2" cy="196.17" r="2.9" fill="#0079bb" fill-opacity="0.55"/>
<circle cx="747.2" cy="193.04" r="2.9" fill="#0079bb" fill-opacity="0.55"/>
<circle cx="747.2" cy="185.19" r="2.9" fill="#0079bb" fill-opacity="0.55"/>
<circle cx="747.2" cy="163.31" r="2.9" fill="#0079bb" fill-opacity="0.55"/>
<circle cx="747.2" cy="122.5" r="2.9" fill="#0079bb" fill-opacity="0.55"/>
<circle cx="747.2" cy="176.13" r="2.9" fill="#0079bb" fill-opacity="0.55"/>
<circle cx="747.2" cy="223.12" r="2.9" fill="#0079bb" fill-opacity="0.55"/>
<circle cx="747.2" cy="158.36" r="2.9" fill="#0079bb" fill-opacity="0.55"/>
<circle cx="747.2" cy="105.6" r="2.9" fill="#0079bb" fill-opacity="0.55"/>
<circle cx="747.2" cy="113.19" r="2.9" fill="#0079bb" fill-opacity="0.55"/>
<circle cx="747.2" cy="248.66" r="2.9" fill="#0079bb" fill-opacity="0.55"/>
<circle cx="747.2" cy="198.68" r="2.9" fill="#0079bb" fill-opacity="0.55"/>
<circle cx="747.2" cy="226.88" r="2.9" fill="#0079bb" fill-opacity="0.55"/>
<circle cx="747.2" cy="196.46" r="2.9" fill="#0079bb" fill-opacity="0.55"/>
<circle cx="747.2" cy="179.47" r="2.9" fill="#0079bb" fill-opacity="0.55"/>
<circle cx="747.2" cy="109.45" r="2.9" fill="#0079bb" fill-opacity="0.55"/>
<circle cx="747.2" cy="158.19" r="2.9" fill="#0079bb" fill-opacity="0.55"/>
<circle cx="747.2" cy="116.55" r="2.9" fill="#0079bb" fill-opacity="0.55"/>
<circle cx="747.2" cy="147.5" r="2.9" fill="#0079bb" fill-opacity="0.55"/>
<circle cx="747.2" cy="160.99" r="2.9" fill="#0079bb" fill-opacity="0.55"/>
<circle cx="747.2" cy="152.07" r="2.9" fill="#0079bb" fill-opacity="0.55"/>
<circle cx="747.2" cy="114.35" r="2.9" fill="#0079bb" fill-opacity="0.55"/>
<circle cx="747.2" cy="189.56" r="2.9" fill="#0079bb" fill-opacity="0.55"/>
<circle cx="747.2" cy="173.72" r="2.9" fill="#0079bb" fill-opacity="0.55"/>
<circle cx="747.2" cy="119.23" r="2.9" fill="#0079bb" fill-opacity="0.55"/>
<circle cx="747.2" cy="212.97" r="2.9" fill="#0079bb" fill-opacity="0.55"/>
<circle cx="747.2" cy="169.8" r="2.9" fill="#0079bb" fill-opacity="0.55"/>
<circle cx="747.2" cy="212.43" r="2.9" fill="#0079bb" fill-opacity="0.55"/>
<circle cx="747.2" cy="177.92" r="2.9" fill="#0079bb" fill-opacity="0.55"/>
<circle cx="747.2" cy="211.36" r="2.9" fill="#0079bb" fill-opacity="0.55"/>
<circle cx="747.2" cy="246.82" r="2.9" fill="#0079bb" fill-opacity="0.55"/>
<circle cx="747.2" cy="130.32" r="2.9" fill="#0079bb" fill-opacity="0.55"/>
<circle cx="747.2" cy="176.28" r="2.9" fill="#0079bb" fill-opacity="0.55"/>
<circle cx="747.2" cy="168.64" r="2.9" fill="#0079bb" fill-opacity="0.55"/>
<circle cx="747.2" cy="138.74" r="2.9" fill="#0079bb" fill-opacity="0.55"/>
<circle cx="747.2" cy="146.24" r="2.9" fill="#0079bb" fill-opacity="0.55"/>
<circle cx="747.2" cy="174.74" r="2.9" fill="#0079bb" fill-opacity="0.55"/>
<circle cx="747.2" cy="234.75" r="2.9" fill="#0079bb" fill-opacity="0.55"/>
<circle cx="747.2" cy="169.22" r="2.9" fill="#0079bb" fill-opacity="0.55"/>
<circle cx="747.2" cy="159.35" r="2.9" fill="#0079bb" fill-opacity="0.55"/>
<circle cx="747.2" cy="112.73" r="2.9" fill="#0079bb" fill-opacity="0.55"/>
<circle cx="747.2" cy="106.28" r="2.9" fill="#0079bb" fill-opacity="0.55"/>
<circle cx="747.2" cy="106.67" r="2.9" fill="#0079bb" fill-opacity="0.55"/>
<circle cx="747.2" cy="241.9" r="2.9" fill="#0079bb" fill-opacity="0.55"/>
<circle cx="747.2" cy="231.61" r="2.9" fill="#0079bb" fill-opacity="0.55"/>
<circle cx="747.2" cy="142.17" r="2.9" fill="#0079bb" fill-opacity="0.55"/>
<circle cx="747.2" cy="177.23" r="2.9" fill="#0079bb" fill-opacity="0.55"/>
<circle cx="747.2" cy="163.88" r="2.9" fill="#0079bb" fill-opacity="0.55"/>
<circle cx="747.2" cy="148.44" r="2.9" fill="#0079bb" fill-opacity="0.55"/>
<circle cx="747.2" cy="199.95" r="2.9" fill="#0079bb" fill-opacity="0.55"/>
<circle cx="747.2" cy="218.06" r="2.9" fill="#0079bb" fill-opacity="0.55"/>
<circle cx="747.2" cy="128.49" r="2.9" fill="#0079bb" fill-opacity="0.55"/>
<circle cx="747.2" cy="228.75" r="2.9" fill="#0079bb" fill-opacity="0.55"/>
<circle cx="747.2" cy="169.81" r="2.9" fill="#0079bb" fill-opacity="0.55"/>
<circle cx="747.2" cy="191.92" r="2.9" fill="#0079bb" fill-opacity="0.55"/>
<circle cx="747.2" cy="174.11" r="2.9" fill="#0079bb" fill-opacity="0.55"/>
<circle cx="747.2" cy="128.24" r="2.9" fill="#0079bb" fill-opacity="0.55"/>
<circle cx="747.2" cy="128.1" r="2.9" fill="#0079bb" fill-opacity="0.55"/>
<circle cx="747.2" cy="192.27" r="2.9" fill="#0079bb" fill-opacity="0.55"/>
<circle cx="747.2" cy="170.91" r="2.9" fill="#0079bb" fill-opacity="0.55"/>
<circle cx="747.2" cy="179.23" r="2.9" fill="#0079bb" fill-opacity="0.55"/>
<circle cx="747.2" cy="157.9" r="2.9" fill="#0079bb" fill-opacity="0.55"/>
<circle cx="747.2" cy="112.8" r="2.9" fill="#0079bb" fill-opacity="0.55"/>
<circle cx="747.2" cy="199.26" r="2.9" fill="#0079bb" fill-opacity="0.55"/>
<circle cx="747.2" cy="131.97" r="2.9" fill="#0079bb" fill-opacity="0.55"/>
<circle cx="747.2" cy="160.62" r="2.9" fill="#0079bb" fill-opacity="0.55"/>
<circle cx="747.2" cy="203.22" r="2.9" fill="#0079bb" fill-opacity="0.55"/>
<circle cx="747.2" cy="221.34" r="2.9" fill="#0079bb" fill-opacity="0.55"/>
<circle cx="747.2" cy="160.9" r="2.9" fill="#0079bb" fill-opacity="0.55"/>
<circle cx="747.2" cy="157.62" r="2.9" fill="#0079bb" fill-opacity="0.55"/>
<circle cx="747.2" cy="154.02" r="2.9" fill="#0079bb" fill-opacity="0.55"/>
<circle cx="747.2" cy="226.5" r="2.9" fill="#0079bb" fill-opacity="0.55"/>
<circle cx="747.2" cy="227.25" r="2.9" fill="#0079bb" fill-opacity="0.55"/>
<circle cx="747.2" cy="192.4" r="2.9" fill="#0079bb" fill-opacity="0.55"/>
<circle cx="747.2" cy="108.3" r="2.9" fill="#0079bb" fill-opacity="0.55"/>
<circle cx="747.2" cy="244.83" r="2.9" fill="#0079bb" fill-opacity="0.55"/>
<circle cx="747.2" cy="196.05" r="2.9" fill="#0079bb" fill-opacity="0.55"/>
<circle cx="747.2" cy="162.33" r="2.9" fill="#0079bb" fill-opacity="0.55"/>
<circle cx="747.2" cy="145.58" r="2.9" fill="#0079bb" fill-opacity="0.55"/>
<circle cx="747.2" cy="141.49" r="2.9" fill="#0079bb" fill-opacity="0.55"/>
<circle cx="747.2" cy="159.71" r="2.9" fill="#0079bb" fill-opacity="0.55"/>
<circle cx="747.2" cy="129.78" r="2.9" fill="#0079bb" fill-opacity="0.55"/>
<circle cx="747.2" cy="199.5" r="2.9" fill="#0079bb" fill-opacity="0.55"/>
<circle cx="747.2" cy="128.49" r="2.9" fill="#0079bb" fill-opacity="0.55"/>
<circle cx="747.2" cy="112.15" r="2.9" fill="#0079bb" fill-opacity="0.55"/>
<circle cx="747.2" cy="223.07" r="2.9" fill="#0079bb" fill-opacity="0.55"/>
<circle cx="747.2" cy="171.16" r="2.9" fill="#0079bb" fill-opacity="0.55"/>
<circle cx="747.2" cy="168.47" r="2.9" fill="#0079bb" fill-opacity="0.55"/>
<circle cx="747.2" cy="225.01" r="2.9" fill="#0079bb" fill-opacity="0.55"/>
<circle cx="747.2" cy="184.55" r="2.9" fill="#0079bb" fill-opacity="0.55"/>
<circle cx="747.2" cy="194.06" r="2.9" fill="#0079bb" fill-opacity="0.55"/>
<circle cx="747.2" cy="142.06" r="2.9" fill="#0079bb" fill-opacity="0.55"/>
<circle cx="747.2" cy="149.32" r="2.9" fill="#0079bb" fill-opacity="0.55"/>
<circle cx="747.2" cy="196.28" r="2.9" fill="#0079bb" fill-opacity="0.55"/>
<circle cx="747.2" cy="112.2" r="2.9" fill="#0079bb" fill-opacity="0.55"/>
<circle cx="747.2" cy="148.08" r="2.9" fill="#0079bb" fill-opacity="0.55"/>
<circle cx="747.2" cy="123.63" r="2.9" fill="#0079bb" fill-opacity="0.55"/>
<circle cx="747.2" cy="206.95" r="2.9" fill="#0079bb" fill-opacity="0.55"/>
<circle cx="747.2" cy="216.05" r="2.9" fill="#0079bb" fill-opacity="0.55"/>
<circle cx="747.2" cy="171.64" r="2.9" fill="#0079bb" fill-opacity="0.55"/>
<circle cx="747.2" cy="202.09" r="2.9" fill="#0079bb" fill-opacity="0.55"/>
<circle cx="747.2" cy="127.8" r="2.9" fill="#0079bb" fill-opacity="0.55"/>
<circle cx="747.2" cy="157.25" r="2.9" fill="#0079bb" fill-opacity="0.55"/>
<circle cx="747.2" cy="199.99" r="2.9" fill="#0079bb" fill-opacity="0.55"/>
<circle cx="747.2" cy="156.22" r="2.9" fill="#0079bb" fill-opacity="0.55"/>
<circle cx="747.2" cy="204.99" r="2.9" fill="#0079bb" fill-opacity="0.55"/>
<circle cx="747.2" cy="172.15" r="2.9" fill="#0079bb" fill-opacity="0.55"/>
<circle cx="747.2" cy="232.7" r="2.9" fill="#0079bb" fill-opacity="0.55"/>
<circle cx="747.2" cy="234.46" r="2.9" fill="#0079bb" fill-opacity="0.55"/>
<circle cx="747.2" cy="184" r="2.9" fill="#0079bb" fill-opacity="0.55"/>
<circle cx="747.2" cy="207.73" r="2.9" fill="#0079bb" fill-opacity="0.55"/>
<circle cx="747.2" cy="239.46" r="2.9" fill="#0079bb" fill-opacity="0.55"/>
<circle cx="747.2" cy="148.99" r="2.9" fill="#0079bb" fill-opacity="0.55"/>
<circle cx="747.2" cy="108.94" r="2.9" fill="#0079bb" fill-opacity="0.55"/>
<circle cx="747.2" cy="233.59" r="2.9" fill="#0079bb" fill-opacity="0.55"/>
<circle cx="747.2" cy="154.03" r="2.9" fill="#0079bb" fill-opacity="0.55"/>
<circle cx="747.2" cy="204.58" r="2.9" fill="#0079bb" fill-opacity="0.55"/>
<circle cx="747.2" cy="189.67" r="2.9" fill="#0079bb" fill-opacity="0.55"/>
<circle cx="747.2" cy="154.7" r="2.9" fill="#0079bb" fill-opacity="0.55"/>
<circle cx="747.2" cy="216.06" r="2.9" fill="#0079bb" fill-opacity="0.55"/>
<circle cx="747.2" cy="142.22" r="2.9" fill="#0079bb" fill-opacity="0.55"/>
<circle cx="747.2" cy="175.21" r="2.9" fill="#0079bb" fill-opacity="0.55"/>
<circle cx="747.2" cy="153.28" r="2.9" fill="#0079bb" fill-opacity="0.55"/>
<circle cx="747.2" cy="166.99" r="2.9" fill="#0079bb" fill-opacity="0.55"/>
<circle cx="747.2" cy="188.27" r="2.9" fill="#0079bb" fill-opacity="0.55"/>
<circle cx="747.2" cy="136.17" r="2.9" fill="#0079bb" fill-opacity="0.55"/>
<circle cx="747.2" cy="160.03" r="2.9" fill="#0079bb" fill-opacity="0.55"/>
<circle cx="747.2" cy="227.8" r="2.9" fill="#0079bb" fill-opacity="0.55"/>
<circle cx="747.2" cy="181.26" r="2.9" fill="#0079bb" fill-opacity="0.55"/>
<circle cx="747.2" cy="155.47" r="2.9" fill="#0079bb" fill-opacity="0.55"/>
<circle cx="747.2" cy="125.73" r="2.9" fill="#0079bb" fill-opacity="0.55"/>
<circle cx="747.2" cy="123.71" r="2.9" fill="#0079bb" fill-opacity="0.55"/>
<circle cx="747.2" cy="189.55" r="2.9" fill="#0079bb" fill-opacity="0.55"/>
<circle cx="747.2" cy="234.13" r="2.9" fill="#0079bb" fill-opacity="0.55"/>
<circle cx="747.2" cy="162.23" r="2.9" fill="#0079bb" fill-opacity="0.55"/>
<circle cx="747.2" cy="208.92" r="2.9" fill="#0079bb" fill-opacity="0.55"/>
<circle cx="747.2" cy="184.96" r="2.9" fill="#0079bb" fill-opacity="0.55"/>
<circle cx="747.2" cy="145.88" r="2.9" fill="#0079bb" fill-opacity="0.55"/>
<circle cx="747.2" cy="111.7" r="2.9" fill="#0079bb" fill-opacity="0.55"/>
<circle cx="747.2" cy="144.7" r="2.9" fill="#0079bb" fill-opacity="0.55"/>
<circle cx="747.2" cy="175.41" r="2.9" fill="#0079bb" fill-opacity="0.55"/>
<circle cx="747.2" cy="145.62" r="2.9" fill="#0079bb" fill-opacity="0.55"/>
<circle cx="747.2" cy="236.07" r="2.9" fill="#0079bb" fill-opacity="0.55"/>
<circle cx="747.2" cy="188.39" r="2.9" fill="#0079bb" fill-opacity="0.55"/>
<circle cx="747.2" cy="219.39" r="2.9" fill="#0079bb" fill-opacity="0.55"/>
<circle cx="747.2" cy="112.18" r="2.9" fill="#0079bb" fill-opacity="0.55"/>
<circle cx="747.2" cy="138.78" r="2.9" fill="#0079bb" fill-opacity="0.55"/>
<circle cx="747.2" cy="169.81" r="2.9" fill="#0079bb" fill-opacity="0.55"/>
<circle cx="747.2" cy="168.3" r="2.9" fill="#0079bb" fill-opacity="0.55"/>
<circle cx="747.2" cy="248.42" r="2.9" fill="#0079bb" fill-opacity="0.55"/>
<circle cx="747.2" cy="128.72" r="2.9" fill="#0079bb" fill-opacity="0.55"/>
<circle cx="747.2" cy="133.85" r="2.9" fill="#0079bb" fill-opacity="0.55"/>
<circle cx="747.2" cy="220.73" r="2.9" fill="#0079bb" fill-opacity="0.55"/>
<circle cx="747.2" cy="154.01" r="2.9" fill="#0079bb" fill-opacity="0.55"/>
<circle cx="747.2" cy="161.83" r="2.9" fill="#0079bb" fill-opacity="0.55"/>
<circle cx="747.2" cy="224.95" r="2.9" fill="#0079bb" fill-opacity="0.55"/>
<circle cx="747.2" cy="153.85" r="2.9" fill="#0079bb" fill-opacity="0.55"/>
<circle cx="747.2" cy="150.35" r="2.9" fill="#0079bb" fill-opacity="0.55"/>
<circle cx="747.2" cy="189" r="2.9" fill="#0079bb" fill-opacity="0.55"/>
<circle cx="747.2" cy="144.86" r="2.9" fill="#0079bb" fill-opacity="0.55"/>
<circle cx="747.2" cy="144.27" r="2.9" fill="#0079bb" fill-opacity="0.55"/>
<circle cx="747.2" cy="243.19" r="2.9" fill="#0079bb" fill-opacity="0.55"/>
<circle cx="747.2" cy="171.89" r="2.9" fill="#0079bb" fill-opacity="0.55"/>
<circle cx="747.2" cy="174.67" r="2.9" fill="#0079bb" fill-opacity="0.55"/>
<circle cx="747.2" cy="178.43" r="2.9" fill="#0079bb" fill-opacity="0.55"/>
<circle cx="747.2" cy="176.32" r="2.9" fill="#0079bb" fill-opacity="0.55"/>
<circle cx="747.2" cy="179.99" r="2.9" fill="#0079bb" fill-opacity="0.55"/>
<circle cx="747.2" cy="233.98" r="2.9" fill="#0079bb" fill-opacity="0.55"/>
<circle cx="747.2" cy="215.93" r="2.9" fill="#0079bb" fill-opacity="0.55"/>
<circle cx="747.2" cy="206" r="2.9" fill="#0079bb" fill-opacity="0.55"/>
<circle cx="747.2" cy="138.77" r="2.9" fill="#0079bb" fill-opacity="0.55"/>
<circle cx="747.2" cy="209.23" r="2.9" fill="#0079bb" fill-opacity="0.55"/>
<circle cx="747.2" cy="130.93" r="2.9" fill="#0079bb" fill-opacity="0.55"/>
<circle cx="747.2" cy="180.43" r="2.9" fill="#0079bb" fill-opacity="0.55"/>
<circle cx="747.2" cy="157.51" r="2.9" fill="#0079bb" fill-opacity="0.55"/>
<circle cx="747.2" cy="190.73" r="2.9" fill="#0079bb" fill-opacity="0.55"/>
<circle cx="747.2" cy="192.06" r="2.9" fill="#0079bb" fill-opacity="0.55"/>
<circle cx="747.2" cy="120.67" r="2.9" fill="#0079bb" fill-opacity="0.55"/>
<circle cx="747.2" cy="191.99" r="2.9" fill="#0079bb" fill-opacity="0.55"/>
<circle cx="747.2" cy="170.78" r="2.9" fill="#0079bb" fill-opacity="0.55"/>
<circle cx="747.2" cy="230.87" r="2.9" fill="#0079bb" fill-opacity="0.55"/>
<circle cx="747.2" cy="158.31" r="2.9" fill="#0079bb" fill-opacity="0.55"/>
<circle cx="747.2" cy="138.86" r="2.9" fill="#0079bb" fill-opacity="0.55"/>
<circle cx="747.2" cy="145.3" r="2.9" fill="#0079bb" fill-opacity="0.55"/>
<circle cx="747.2" cy="142.18" r="2.9" fill="#0079bb" fill-opacity="0.55"/>
<circle cx="747.2" cy="225.3" r="2.9" fill="#0079bb" fill-opacity="0.55"/>
<circle cx="747.2" cy="197.82" r="2.9" fill="#0079bb" fill-opacity="0.55"/>
<circle cx="747.2" cy="218.01" r="2.9" fill="#0079bb" fill-opacity="0.55"/>
<circle cx="747.2" cy="164.98" r="2.9" fill="#0079bb" fill-opacity="0.55"/>
<circle cx="747.2" cy="161.7" r="2.9" fill="#0079bb" fill-opacity="0.55"/>
<circle cx="747.2" cy="242.77" r="2.9" fill="#0079bb" fill-opacity="0.55"/>
<circle cx="747.2" cy="142.62" r="2.9" fill="#0079bb" fill-opacity="0.55"/>
<circle cx="747.2" cy="171.57" r="2.9" fill="#0079bb" fill-opacity="0.55"/>
<circle cx="747.2" cy="187.32" r="2.9" fill="#0079bb" fill-opacity="0.55"/>
<circle cx="747.2" cy="173.15" r="2.9" fill="#0079bb" fill-opacity="0.55"/>
<circle cx="747.2" cy="222.93" r="2.9" fill="#0079bb" fill-opacity="0.55"/>
<circle cx="747.2" cy="204.54" r="2.9" fill="#0079bb" fill-opacity="0.55"/>
<circle cx="747.2" cy="137.42" r="2.9" fill="#0079bb" fill-opacity="0.55"/>
<circle cx="747.2" cy="135.89" r="2.9" fill="#0079bb" fill-opacity="0.55"/>
<circle cx="747.2" cy="145.7" r="2.9" fill="#0079bb" fill-opacity="0.55"/>
<circle cx="747.2" cy="197" r="2.9" fill="#0079bb" fill-opacity="0.55"/>
<circle cx="747.2" cy="130.04" r="2.9" fill="#0079bb" fill-opacity="0.55"/>
<circle cx="747.2" cy="239.74" r="2.9" fill="#0079bb" fill-opacity="0.55"/>
<circle cx="747.2" cy="178.51" r="2.9" fill="#0079bb" fill-opacity="0.55"/>
<circle cx="747.2" cy="216.69" r="2.9" fill="#0079bb" fill-opacity="0.55"/>
<circle cx="747.2" cy="163.16" r="2.9" fill="#0079bb" fill-opacity="0.55"/>
<circle cx="747.2" cy="123.95" r="2.9" fill="#0079bb" fill-opacity="0.55"/>
<circle cx="747.2" cy="124.59" r="2.9" fill="#0079bb" fill-opacity="0.55"/>
<circle cx="747.2" cy="165.26" r="2.9" fill="#0079bb" fill-opacity="0.55"/>
<circle cx="747.2" cy="245.17" r="2.9" fill="#0079bb" fill-opacity="0.55"/>
<circle cx="747.2" cy="211.45" r="2.9" fill="#0079bb" fill-opacity="0.55"/>
<circle cx="747.2" cy="199.59" r="2.9" fill="#0079bb" fill-opacity="0.55"/>
<circle cx="747.2" cy="219.33" r="2.9" fill="#0079bb" fill-opacity="0.55"/>
<circle cx="747.2" cy="117.14" r="2.9" fill="#0079bb" fill-opacity="0.55"/>
<circle cx="747.2" cy="128.05" r="2.9" fill="#0079bb" fill-opacity="0.55"/>
<circle cx="747.2" cy="187.82" r="2.9" fill="#0079bb" fill-opacity="0.55"/>
<circle cx="747.2" cy="139.72" r="2.9" fill="#0079bb" fill-opacity="0.55"/>
<circle cx="747.2" cy="189.13" r="2.9" fill="#0079bb" fill-opacity="0.55"/>
<circle cx="747.2" cy="193.32" r="2.9" fill="#0079bb" fill-opacity="0.55"/>
<circle cx="747.2" cy="183.55" r="2.9" fill="#0079bb" fill-opacity="0.55"/>
<circle cx="747.2" cy="166.19" r="2.9" fill="#0079bb" fill-opacity="0.55"/>
<circle cx="747.2" cy="143.86" r="2.9" fill="#0079bb" fill-opacity="0.55"/>
<circle cx="747.2" cy="114.57" r="2.9" fill="#0079bb" fill-opacity="0.55"/>
<circle cx="747.2" cy="120.68" r="2.9" fill="#0079bb" fill-opacity="0.55"/>
<circle cx="747.2" cy="234.87" r="2.9" fill="#0079bb" fill-opacity="0.55"/>
<circle cx="747.2" cy="182.29" r="2.9" fill="#0079bb" fill-opacity="0.55"/>
<circle cx="747.2" cy="138.67" r="2.9" fill="#0079bb" fill-opacity="0.55"/>
<circle cx="747.2" cy="217.39" r="2.9" fill="#0079bb" fill-opacity="0.55"/>
<circle cx="747.2" cy="210.6" r="2.9" fill="#0079bb" fill-opacity="0.55"/>
<circle cx="747.2" cy="112.66" r="2.9" fill="#0079bb" fill-opacity="0.55"/>
<circle cx="747.2" cy="164.67" r="2.9" fill="#0079bb" fill-opacity="0.55"/>
<circle cx="747.2" cy="125.64" r="2.9" fill="#0079bb" fill-opacity="0.55"/>
<circle cx="747.2" cy="174.56" r="2.9" fill="#0079bb" fill-opacity="0.55"/>
<circle cx="747.2" cy="213.85" r="2.9" fill="#0079bb" fill-opacity="0.55"/>
<circle cx="747.2" cy="115.08" r="2.9" fill="#0079bb" fill-opacity="0.55"/>
<circle cx="747.2" cy="181.62" r="2.9" fill="#0079bb" fill-opacity="0.55"/>
<circle cx="747.2" cy="192.99" r="2.9" fill="#0079bb" fill-opacity="0.55"/>
<circle cx="747.2" cy="118.18" r="2.9" fill="#0079bb" fill-opacity="0.55"/>
<circle cx="747.2" cy="201.48" r="2.9" fill="#0079bb" fill-opacity="0.55"/>
<circle cx="747.2" cy="236.77" r="2.9" fill="#0079bb" fill-opacity="0.55"/>
<circle cx="747.2" cy="194.27" r="2.9" fill="#0079bb" fill-opacity="0.55"/>
<circle cx="747.2" cy="145.89" r="2.9" fill="#0079bb" fill-opacity="0.55"/>
<circle cx="747.2" cy="141.33" r="2.9" fill="#0079bb" fill-opacity="0.55"/>
<circle cx="747.2" cy="165.26" r="2.9" fill="#0079bb" fill-opacity="0.55"/>
<circle cx="747.2" cy="152.77" r="2.9" fill="#0079bb" fill-opacity="0.55"/>
<circle cx="747.2" cy="223.05" r="2.9" fill="#0079bb" fill-opacity="0.55"/>
<circle cx="747.2" cy="213.85" r="2.9" fill="#0079bb" fill-opacity="0.55"/>
<circle cx="747.2" cy="140.05" r="2.9" fill="#0079bb" fill-opacity="0.55"/>
<circle cx="747.2" cy="208.04" r="2.9" fill="#0079bb" fill-opacity="0.55"/>
<circle cx="747.2" cy="218.74" r="2.9" fill="#0079bb" fill-opacity="0.55"/>
<circle cx="747.2" cy="199.73" r="2.9" fill="#0079bb" fill-opacity="0.55"/>
<circle cx="747.2" cy="194.75" r="2.9" fill="#0079bb" fill-opacity="0.55"/>
<circle cx="747.2" cy="150.31" r="2.9" fill="#0079bb" fill-opacity="0.55"/>
<circle cx="747.2" cy="218.97" r="2.9" fill="#0079bb" fill-opacity="0.55"/>
<circle cx="747.2" cy="182.71" r="2.9" fill="#0079bb" fill-opacity="0.55"/>
<circle cx="747.2" cy="162.89" r="2.9" fill="#0079bb" fill-opacity="0.55"/>
<circle cx="747.2" cy="38.96" r="2.9" fill="#0079bb" fill-opacity="0.55"/>
<circle cx="747.2" cy="67" r="2.9" fill="#0079bb" fill-opacity="0.55"/>
<circle cx="747.2" cy="70.54" r="2.9" fill="#0079bb" fill-opacity="0.55"/>
<circle cx="747.2" cy="74.07" r="2.9" fill="#0079bb" fill-opacity="0.55"/>
<circle cx="747.2" cy="78.78" r="2.9" fill="#0079bb" fill-opacity="0.55"/>
<circle cx="747.2" cy="83.5" r="2.9" fill="#0079bb" fill-opacity="0.55"/>
<circle cx="747.2" cy="85.85" r="2.9" fill="#0079bb" fill-opacity="0.55"/>
<circle cx="747.2" cy="90.57" r="2.9" fill="#0079bb" fill-opacity="0.55"/>
<circle cx="747.2" cy="92.92" r="2.9" fill="#0079bb" fill-opacity="0.55"/>
<circle cx="747.2" cy="97.64" r="2.9" fill="#0079bb" fill-opacity="0.55"/>
<circle cx="747.2" cy="248.94" r="2.9" fill="#0079bb" fill-opacity="0.55"/>
<circle cx="893.2" cy="163.21" r="2.9" fill="#ff8000" fill-opacity="0.55"/>
<circle cx="893.2" cy="132.07" r="2.9" fill="#ff8000" fill-opacity="0.55"/>
<circle cx="893.2" cy="252.46" r="2.9" fill="#ff8000" fill-opacity="0.55"/>
<circle cx="893.2" cy="153.38" r="2.9" fill="#ff8000" fill-opacity="0.55"/>
<circle cx="893.2" cy="288.54" r="2.9" fill="#ff8000" fill-opacity="0.55"/>
<circle cx="893.2" cy="192.84" r="2.9" fill="#ff8000" fill-opacity="0.55"/>
<circle cx="893.2" cy="285.58" r="2.9" fill="#ff8000" fill-opacity="0.55"/>
<circle cx="893.2" cy="179.55" r="2.9" fill="#ff8000" fill-opacity="0.55"/>
<circle cx="893.2" cy="288.33" r="2.9" fill="#ff8000" fill-opacity="0.55"/>
<circle cx="893.2" cy="296.79" r="2.9" fill="#ff8000" fill-opacity="0.55"/>
<circle cx="893.2" cy="184.47" r="2.9" fill="#ff8000" fill-opacity="0.55"/>
<circle cx="893.2" cy="119.61" r="2.9" fill="#ff8000" fill-opacity="0.55"/>
<circle cx="893.2" cy="242.21" r="2.9" fill="#ff8000" fill-opacity="0.55"/>
<circle cx="893.2" cy="160.88" r="2.9" fill="#ff8000" fill-opacity="0.55"/>
<circle cx="893.2" cy="201.2" r="2.9" fill="#ff8000" fill-opacity="0.55"/>
<circle cx="893.2" cy="226.86" r="2.9" fill="#ff8000" fill-opacity="0.55"/>
<circle cx="893.2" cy="172.16" r="2.9" fill="#ff8000" fill-opacity="0.55"/>
<circle cx="893.2" cy="129.7" r="2.9" fill="#ff8000" fill-opacity="0.55"/>
<circle cx="893.2" cy="272.37" r="2.9" fill="#ff8000" fill-opacity="0.55"/>
<circle cx="893.2" cy="174.99" r="2.9" fill="#ff8000" fill-opacity="0.55"/>
<circle cx="893.2" cy="187.41" r="2.9" fill="#ff8000" fill-opacity="0.55"/>
<circle cx="893.2" cy="279" r="2.9" fill="#ff8000" fill-opacity="0.55"/>
<circle cx="893.2" cy="130.4" r="2.9" fill="#ff8000" fill-opacity="0.55"/>
<circle cx="893.2" cy="123.51" r="2.9" fill="#ff8000" fill-opacity="0.55"/>
<circle cx="893.2" cy="260.36" r="2.9" fill="#ff8000" fill-opacity="0.55"/>
<circle cx="893.2" cy="127.46" r="2.9" fill="#ff8000" fill-opacity="0.55"/>
<circle cx="893.2" cy="204.44" r="2.9" fill="#ff8000" fill-opacity="0.55"/>
<circle cx="893.2" cy="217.47" r="2.9" fill="#ff8000" fill-opacity="0.55"/>
<circle cx="893.2" cy="133.5" r="2.9" fill="#ff8000" fill-opacity="0.55"/>
<circle cx="893.2" cy="194.29" r="2.9" fill="#ff8000" fill-opacity="0.55"/>
<circle cx="893.2" cy="188.69" r="2.9" fill="#ff8000" fill-opacity="0.55"/>
<circle cx="893.2" cy="133.08" r="2.9" fill="#ff8000" fill-opacity="0.55"/>
<circle cx="893.2" cy="140.7" r="2.9" fill="#ff8000" fill-opacity="0.55"/>
<circle cx="893.2" cy="157.76" r="2.9" fill="#ff8000" fill-opacity="0.55"/>
<circle cx="893.2" cy="278.23" r="2.9" fill="#ff8000" fill-opacity="0.55"/>
<circle cx="893.2" cy="283.33" r="2.9" fill="#ff8000" fill-opacity="0.55"/>
<circle cx="893.2" cy="147.13" r="2.9" fill="#ff8000" fill-opacity="0.55"/>
<circle cx="893.2" cy="259.14" r="2.9" fill="#ff8000" fill-opacity="0.55"/>
<circle cx="893.2" cy="198.96" r="2.9" fill="#ff8000" fill-opacity="0.55"/>
<circle cx="893.2" cy="265.81" r="2.9" fill="#ff8000" fill-opacity="0.55"/>
<circle cx="893.2" cy="218.68" r="2.9" fill="#ff8000" fill-opacity="0.55"/>
<circle cx="893.2" cy="274" r="2.9" fill="#ff8000" fill-opacity="0.55"/>
<circle cx="893.2" cy="130.01" r="2.9" fill="#ff8000" fill-opacity="0.55"/>
<circle cx="893.2" cy="263.39" r="2.9" fill="#ff8000" fill-opacity="0.55"/>
<circle cx="893.2" cy="215.03" r="2.9" fill="#ff8000" fill-opacity="0.55"/>
<circle cx="893.2" cy="218.94" r="2.9" fill="#ff8000" fill-opacity="0.55"/>
<circle cx="893.2" cy="143.85" r="2.9" fill="#ff8000" fill-opacity="0.55"/>
<circle cx="893.2" cy="278.85" r="2.9" fill="#ff8000" fill-opacity="0.55"/>
<circle cx="893.2" cy="209.76" r="2.9" fill="#ff8000" fill-opacity="0.55"/>
<circle cx="893.2" cy="220.18" r="2.9" fill="#ff8000" fill-opacity="0.55"/>
<circle cx="893.2" cy="176.88" r="2.9" fill="#ff8000" fill-opacity="0.55"/>
<circle cx="893.2" cy="180.13" r="2.9" fill="#ff8000" fill-opacity="0.55"/>
<circle cx="893.2" cy="234.89" r="2.9" fill="#ff8000" fill-opacity="0.55"/>
<circle cx="893.2" cy="193.58" r="2.9" fill="#ff8000" fill-opacity="0.55"/>
<circle cx="893.2" cy="229.81" r="2.9" fill="#ff8000" fill-opacity="0.55"/>
<circle cx="893.2" cy="180.35" r="2.9" fill="#ff8000" fill-opacity="0.55"/>
<circle cx="893.2" cy="213.88" r="2.9" fill="#ff8000" fill-opacity="0.55"/>
<circle cx="893.2" cy="245.44" r="2.9" fill="#ff8000" fill-opacity="0.55"/>
<circle cx="893.2" cy="209.42" r="2.9" fill="#ff8000" fill-opacity="0.55"/>
<circle cx="893.2" cy="186.33" r="2.9" fill="#ff8000" fill-opacity="0.55"/>
<circle cx="893.2" cy="119.79" r="2.9" fill="#ff8000" fill-opacity="0.55"/>
<circle cx="893.2" cy="236.43" r="2.9" fill="#ff8000" fill-opacity="0.55"/>
<circle cx="893.2" cy="189.65" r="2.9" fill="#ff8000" fill-opacity="0.55"/>
<circle cx="893.2" cy="134.73" r="2.9" fill="#ff8000" fill-opacity="0.55"/>
<circle cx="893.2" cy="292.89" r="2.9" fill="#ff8000" fill-opacity="0.55"/>
<circle cx="893.2" cy="287.41" r="2.9" fill="#ff8000" fill-opacity="0.55"/>
<circle cx="893.2" cy="270.56" r="2.9" fill="#ff8000" fill-opacity="0.55"/>
<circle cx="893.2" cy="214.57" r="2.9" fill="#ff8000" fill-opacity="0.55"/>
<circle cx="893.2" cy="118.57" r="2.9" fill="#ff8000" fill-opacity="0.55"/>
<circle cx="893.2" cy="184.74" r="2.9" fill="#ff8000" fill-opacity="0.55"/>
<circle cx="893.2" cy="143.77" r="2.9" fill="#ff8000" fill-opacity="0.55"/>
<circle cx="893.2" cy="220.93" r="2.9" fill="#ff8000" fill-opacity="0.55"/>
<circle cx="893.2" cy="296.07" r="2.9" fill="#ff8000" fill-opacity="0.55"/>
<circle cx="893.2" cy="295.13" r="2.9" fill="#ff8000" fill-opacity="0.55"/>
<circle cx="893.2" cy="151.85" r="2.9" fill="#ff8000" fill-opacity="0.55"/>
<circle cx="893.2" cy="196.81" r="2.9" fill="#ff8000" fill-opacity="0.55"/>
<circle cx="893.2" cy="274.72" r="2.9" fill="#ff8000" fill-opacity="0.55"/>
<circle cx="893.2" cy="147.51" r="2.9" fill="#ff8000" fill-opacity="0.55"/>
<circle cx="893.2" cy="282.42" r="2.9" fill="#ff8000" fill-opacity="0.55"/>
<circle cx="893.2" cy="146.79" r="2.9" fill="#ff8000" fill-opacity="0.55"/>
<circle cx="893.2" cy="135.1" r="2.9" fill="#ff8000" fill-opacity="0.55"/>
<circle cx="893.2" cy="251.15" r="2.9" fill="#ff8000" fill-opacity="0.55"/>
<circle cx="893.2" cy="267.27" r="2.9" fill="#ff8000" fill-opacity="0.55"/>
<circle cx="893.2" cy="160.17" r="2.9" fill="#ff8000" fill-opacity="0.55"/>
<circle cx="893.2" cy="266.72" r="2.9" fill="#ff8000" fill-opacity="0.55"/>
<circle cx="893.2" cy="159.3" r="2.9" fill="#ff8000" fill-opacity="0.55"/>
<circle cx="893.2" cy="270.82" r="2.9" fill="#ff8000" fill-opacity="0.55"/>
<circle cx="893.2" cy="162.02" r="2.9" fill="#ff8000" fill-opacity="0.55"/>
<circle cx="893.2" cy="202.2" r="2.9" fill="#ff8000" fill-opacity="0.55"/>
<circle cx="893.2" cy="233.13" r="2.9" fill="#ff8000" fill-opacity="0.55"/>
<circle cx="893.2" cy="257.66" r="2.9" fill="#ff8000" fill-opacity="0.55"/>
<circle cx="893.2" cy="193.7" r="2.9" fill="#ff8000" fill-opacity="0.55"/>
<circle cx="893.2" cy="290.24" r="2.9" fill="#ff8000" fill-opacity="0.55"/>
<circle cx="893.2" cy="224.09" r="2.9" fill="#ff8000" fill-opacity="0.55"/>
<circle cx="893.2" cy="231.04" r="2.9" fill="#ff8000" fill-opacity="0.55"/>
<circle cx="893.2" cy="168.76" r="2.9" fill="#ff8000" fill-opacity="0.55"/>
<circle cx="893.2" cy="273.08" r="2.9" fill="#ff8000" fill-opacity="0.55"/>
<circle cx="893.2" cy="128" r="2.9" fill="#ff8000" fill-opacity="0.55"/>
<circle cx="893.2" cy="226.17" r="2.9" fill="#ff8000" fill-opacity="0.55"/>
<circle cx="893.2" cy="268.52" r="2.9" fill="#ff8000" fill-opacity="0.55"/>
<circle cx="893.2" cy="137.23" r="2.9" fill="#ff8000" fill-opacity="0.55"/>
<circle cx="893.2" cy="129.19" r="2.9" fill="#ff8000" fill-opacity="0.55"/>
<circle cx="893.2" cy="218.92" r="2.9" fill="#ff8000" fill-opacity="0.55"/>
<circle cx="893.2" cy="257.44" r="2.9" fill="#ff8000" fill-opacity="0.55"/>
<circle cx="893.2" cy="206.83" r="2.9" fill="#ff8000" fill-opacity="0.55"/>
<circle cx="893.2" cy="247.29" r="2.9" fill="#ff8000" fill-opacity="0.55"/>
<circle cx="893.2" cy="226.19" r="2.9" fill="#ff8000" fill-opacity="0.55"/>
<circle cx="893.2" cy="131.92" r="2.9" fill="#ff8000" fill-opacity="0.55"/>
<circle cx="893.2" cy="184.71" r="2.9" fill="#ff8000" fill-opacity="0.55"/>
<circle cx="893.2" cy="199.14" r="2.9" fill="#ff8000" fill-opacity="0.55"/>
<circle cx="893.2" cy="187.36" r="2.9" fill="#ff8000" fill-opacity="0.55"/>
<circle cx="893.2" cy="211.24" r="2.9" fill="#ff8000" fill-opacity="0.55"/>
<circle cx="893.2" cy="160.31" r="2.9" fill="#ff8000" fill-opacity="0.55"/>
<circle cx="893.2" cy="158.44" r="2.9" fill="#ff8000" fill-opacity="0.55"/>
<circle cx="893.2" cy="229.53" r="2.9" fill="#ff8000" fill-opacity="0.55"/>
<circle cx="893.2" cy="201.53" r="2.9" fill="#ff8000" fill-opacity="0.55"/>
<circle cx="893.2" cy="118.73" r="2.9" fill="#ff8000" fill-opacity="0.55"/>
<circle cx="893.2" cy="183" r="2.9" fill="#ff8000" fill-opacity="0.55"/>
<circle cx="893.2" cy="218.8" r="2.9" fill="#ff8000" fill-opacity="0.55"/>
<circle cx="893.2" cy="122.08" r="2.9" fill="#ff8000" fill-opacity="0.55"/>
<circle cx="893.2" cy="207.22" r="2.9" fill="#ff8000" fill-opacity="0.55"/>
<circle cx="893.2" cy="266.81" r="2.9" fill="#ff8000" fill-opacity="0.55"/>
<circle cx="893.2" cy="168.96" r="2.9" fill="#ff8000" fill-opacity="0.55"/>
<circle cx="893.2" cy="257.86" r="2.9" fill="#ff8000" fill-opacity="0.55"/>
<circle cx="893.2" cy="236.77" r="2.9" fill="#ff8000" fill-opacity="0.55"/>
<circle cx="893.2" cy="188.5" r="2.9" fill="#ff8000" fill-opacity="0.55"/>
<circle cx="893.2" cy="215.31" r="2.9" fill="#ff8000" fill-opacity="0.55"/>
<circle cx="893.2" cy="251.09" r="2.9" fill="#ff8000" fill-opacity="0.55"/>
<circle cx="893.2" cy="239.76" r="2.9" fill="#ff8000" fill-opacity="0.55"/>
<circle cx="893.2" cy="242.08" r="2.9" fill="#ff8000" fill-opacity="0.55"/>
<circle cx="893.2" cy="145.46" r="2.9" fill="#ff8000" fill-opacity="0.55"/>
<circle cx="893.2" cy="248.89" r="2.9" fill="#ff8000" fill-opacity="0.55"/>
<circle cx="893.2" cy="240.93" r="2.9" fill="#ff8000" fill-opacity="0.55"/>
<circle cx="893.2" cy="122.23" r="2.9" fill="#ff8000" fill-opacity="0.55"/>
<circle cx="893.2" cy="239.91" r="2.9" fill="#ff8000" fill-opacity="0.55"/>
<circle cx="893.2" cy="133.92" r="2.9" fill="#ff8000" fill-opacity="0.55"/>
<circle cx="893.2" cy="139.69" r="2.9" fill="#ff8000" fill-opacity="0.55"/>
<circle cx="893.2" cy="216.85" r="2.9" fill="#ff8000" fill-opacity="0.55"/>
<circle cx="893.2" cy="278.84" r="2.9" fill="#ff8000" fill-opacity="0.55"/>
<circle cx="893.2" cy="181.21" r="2.9" fill="#ff8000" fill-opacity="0.55"/>
<circle cx="893.2" cy="169.06" r="2.9" fill="#ff8000" fill-opacity="0.55"/>
<circle cx="893.2" cy="154.19" r="2.9" fill="#ff8000" fill-opacity="0.55"/>
<circle cx="893.2" cy="203.5" r="2.9" fill="#ff8000" fill-opacity="0.55"/>
<circle cx="893.2" cy="143.91" r="2.9" fill="#ff8000" fill-opacity="0.55"/>
<circle cx="893.2" cy="137.08" r="2.9" fill="#ff8000" fill-opacity="0.55"/>
<circle cx="893.2" cy="264.96" r="2.9" fill="#ff8000" fill-opacity="0.55"/>
<circle cx="893.2" cy="135.79" r="2.9" fill="#ff8000" fill-opacity="0.55"/>
<circle cx="893.2" cy="197.42" r="2.9" fill="#ff8000" fill-opacity="0.55"/>
<circle cx="893.2" cy="240.57" r="2.9" fill="#ff8000" fill-opacity="0.55"/>
<circle cx="893.2" cy="226.58" r="2.9" fill="#ff8000" fill-opacity="0.55"/>
<circle cx="893.2" cy="124.7" r="2.9" fill="#ff8000" fill-opacity="0.55"/>
<circle cx="893.2" cy="153.44" r="2.9" fill="#ff8000" fill-opacity="0.55"/>
<circle cx="893.2" cy="288.35" r="2.9" fill="#ff8000" fill-opacity="0.55"/>
<circle cx="893.2" cy="202.82" r="2.9" fill="#ff8000" fill-opacity="0.55"/>
<circle cx="893.2" cy="216.09" r="2.9" fill="#ff8000" fill-opacity="0.55"/>
<circle cx="893.2" cy="218.2" r="2.9" fill="#ff8000" fill-opacity="0.55"/>
<circle cx="893.2" cy="237.66" r="2.9" fill="#ff8000" fill-opacity="0.55"/>
<circle cx="893.2" cy="279.99" r="2.9" fill="#ff8000" fill-opacity="0.55"/>
<circle cx="893.2" cy="159.31" r="2.9" fill="#ff8000" fill-opacity="0.55"/>
<circle cx="893.2" cy="259.75" r="2.9" fill="#ff8000" fill-opacity="0.55"/>
<circle cx="893.2" cy="229.55" r="2.9" fill="#ff8000" fill-opacity="0.55"/>
<circle cx="893.2" cy="242.57" r="2.9" fill="#ff8000" fill-opacity="0.55"/>
<circle cx="893.2" cy="249.25" r="2.9" fill="#ff8000" fill-opacity="0.55"/>
<circle cx="893.2" cy="165.33" r="2.9" fill="#ff8000" fill-opacity="0.55"/>
<circle cx="893.2" cy="185.18" r="2.9" fill="#ff8000" fill-opacity="0.55"/>
<circle cx="893.2" cy="246.43" r="2.9" fill="#ff8000" fill-opacity="0.55"/>
<circle cx="893.2" cy="259.99" r="2.9" fill="#ff8000" fill-opacity="0.55"/>
<circle cx="893.2" cy="235.21" r="2.9" fill="#ff8000" fill-opacity="0.55"/>
<circle cx="893.2" cy="154.23" r="2.9" fill="#ff8000" fill-opacity="0.55"/>
<circle cx="893.2" cy="200.3" r="2.9" fill="#ff8000" fill-opacity="0.55"/>
<circle cx="893.2" cy="193.96" r="2.9" fill="#ff8000" fill-opacity="0.55"/>
<circle cx="893.2" cy="227.13" r="2.9" fill="#ff8000" fill-opacity="0.55"/>
<circle cx="893.2" cy="223.04" r="2.9" fill="#ff8000" fill-opacity="0.55"/>
<circle cx="893.2" cy="194.94" r="2.9" fill="#ff8000" fill-opacity="0.55"/>
<circle cx="893.2" cy="289.38" r="2.9" fill="#ff8000" fill-opacity="0.55"/>
<circle cx="893.2" cy="130.47" r="2.9" fill="#ff8000" fill-opacity="0.55"/>
<circle cx="893.2" cy="252.32" r="2.9" fill="#ff8000" fill-opacity="0.55"/>
<circle cx="893.2" cy="240.71" r="2.9" fill="#ff8000" fill-opacity="0.55"/>
<circle cx="893.2" cy="138.87" r="2.9" fill="#ff8000" fill-opacity="0.55"/>
<circle cx="893.2" cy="194.59" r="2.9" fill="#ff8000" fill-opacity="0.55"/>
<circle cx="893.2" cy="205.28" r="2.9" fill="#ff8000" fill-opacity="0.55"/>
<circle cx="893.2" cy="241.53" r="2.9" fill="#ff8000" fill-opacity="0.55"/>
<circle cx="893.2" cy="283.03" r="2.9" fill="#ff8000" fill-opacity="0.55"/>
<circle cx="893.2" cy="196.8" r="2.9" fill="#ff8000" fill-opacity="0.55"/>
<circle cx="893.2" cy="144.28" r="2.9" fill="#ff8000" fill-opacity="0.55"/>
<circle cx="893.2" cy="257.85" r="2.9" fill="#ff8000" fill-opacity="0.55"/>
<circle cx="893.2" cy="138.02" r="2.9" fill="#ff8000" fill-opacity="0.55"/>
<circle cx="893.2" cy="268.06" r="2.9" fill="#ff8000" fill-opacity="0.55"/>
<circle cx="893.2" cy="249.57" r="2.9" fill="#ff8000" fill-opacity="0.55"/>
<circle cx="893.2" cy="178.22" r="2.9" fill="#ff8000" fill-opacity="0.55"/>
<circle cx="893.2" cy="207.78" r="2.9" fill="#ff8000" fill-opacity="0.55"/>
<circle cx="893.2" cy="168.09" r="2.9" fill="#ff8000" fill-opacity="0.55"/>
<circle cx="893.2" cy="249.97" r="2.9" fill="#ff8000" fill-opacity="0.55"/>
<circle cx="893.2" cy="263.96" r="2.9" fill="#ff8000" fill-opacity="0.55"/>
<circle cx="893.2" cy="289.8" r="2.9" fill="#ff8000" fill-opacity="0.55"/>
<circle cx="893.2" cy="271.16" r="2.9" fill="#ff8000" fill-opacity="0.55"/>
<circle cx="893.2" cy="265.9" r="2.9" fill="#ff8000" fill-opacity="0.55"/>
<circle cx="893.2" cy="279.08" r="2.9" fill="#ff8000" fill-opacity="0.55"/>
<circle cx="893.2" cy="189.54" r="2.9" fill="#ff8000" fill-opacity="0.55"/>
<circle cx="893.2" cy="245.88" r="2.9" fill="#ff8000" fill-opacity="0.55"/>
<circle cx="893.2" cy="291.72" r="2.9" fill="#ff8000" fill-opacity="0.55"/>
<circle cx="893.2" cy="118.34" r="2.9" fill="#ff8000" fill-opacity="0.55"/>
<circle cx="893.2" cy="254.69" r="2.9" fill="#ff8000" fill-opacity="0.55"/>
<circle cx="893.2" cy="273.14" r="2.9" fill="#ff8000" fill-opacity="0.55"/>
<circle cx="893.2" cy="142.53" r="2.9" fill="#ff8000" fill-opacity="0.55"/>
<circle cx="893.2" cy="145.49" r="2.9" fill="#ff8000" fill-opacity="0.55"/>
<circle cx="893.2" cy="269.06" r="2.9" fill="#ff8000" fill-opacity="0.55"/>
<circle cx="893.2" cy="280.53" r="2.9" fill="#ff8000" fill-opacity="0.55"/>
<circle cx="893.2" cy="262.54" r="2.9" fill="#ff8000" fill-opacity="0.55"/>
<circle cx="893.2" cy="146.99" r="2.9" fill="#ff8000" fill-opacity="0.55"/>
<circle cx="893.2" cy="226.15" r="2.9" fill="#ff8000" fill-opacity="0.55"/>
<circle cx="893.2" cy="253.38" r="2.9" fill="#ff8000" fill-opacity="0.55"/>
<circle cx="893.2" cy="209.47" r="2.9" fill="#ff8000" fill-opacity="0.55"/>
<circle cx="893.2" cy="143.93" r="2.9" fill="#ff8000" fill-opacity="0.55"/>
<circle cx="893.2" cy="277.87" r="2.9" fill="#ff8000" fill-opacity="0.55"/>
<circle cx="893.2" cy="230.34" r="2.9" fill="#ff8000" fill-opacity="0.55"/>
<circle cx="893.2" cy="277.67" r="2.9" fill="#ff8000" fill-opacity="0.55"/>
<circle cx="893.2" cy="120.66" r="2.9" fill="#ff8000" fill-opacity="0.55"/>
<circle cx="893.2" cy="125.8" r="2.9" fill="#ff8000" fill-opacity="0.55"/>
<circle cx="893.2" cy="154.98" r="2.9" fill="#ff8000" fill-opacity="0.55"/>
<circle cx="893.2" cy="215.7" r="2.9" fill="#ff8000" fill-opacity="0.55"/>
<circle cx="893.2" cy="169.79" r="2.9" fill="#ff8000" fill-opacity="0.55"/>
<circle cx="893.2" cy="293.17" r="2.9" fill="#ff8000" fill-opacity="0.55"/>
<circle cx="893.2" cy="191.42" r="2.9" fill="#ff8000" fill-opacity="0.55"/>
<circle cx="893.2" cy="276.06" r="2.9" fill="#ff8000" fill-opacity="0.55"/>
<circle cx="893.2" cy="275.66" r="2.9" fill="#ff8000" fill-opacity="0.55"/>
<circle cx="893.2" cy="248.04" r="2.9" fill="#ff8000" fill-opacity="0.55"/>
<circle cx="893.2" cy="228.4" r="2.9" fill="#ff8000" fill-opacity="0.55"/>
<circle cx="893.2" cy="174.42" r="2.9" fill="#ff8000" fill-opacity="0.55"/>
<circle cx="893.2" cy="167.57" r="2.9" fill="#ff8000" fill-opacity="0.55"/>
<circle cx="893.2" cy="192.22" r="2.9" fill="#ff8000" fill-opacity="0.55"/>
<circle cx="893.2" cy="259.97" r="2.9" fill="#ff8000" fill-opacity="0.55"/>
<circle cx="893.2" cy="168.88" r="2.9" fill="#ff8000" fill-opacity="0.55"/>
<circle cx="893.2" cy="214.97" r="2.9" fill="#ff8000" fill-opacity="0.55"/>
<circle cx="893.2" cy="144.89" r="2.9" fill="#ff8000" fill-opacity="0.55"/>
<circle cx="893.2" cy="258.68" r="2.9" fill="#ff8000" fill-opacity="0.55"/>
<circle cx="893.2" cy="297.16" r="2.9" fill="#ff8000" fill-opacity="0.55"/>
<circle cx="893.2" cy="235.62" r="2.9" fill="#ff8000" fill-opacity="0.55"/>
<circle cx="893.2" cy="120.88" r="2.9" fill="#ff8000" fill-opacity="0.55"/>
<circle cx="893.2" cy="180.31" r="2.9" fill="#ff8000" fill-opacity="0.55"/>
<circle cx="893.2" cy="219.3" r="2.9" fill="#ff8000" fill-opacity="0.55"/>
<circle cx="893.2" cy="158.23" r="2.9" fill="#ff8000" fill-opacity="0.55"/>
<circle cx="893.2" cy="178.37" r="2.9" fill="#ff8000" fill-opacity="0.55"/>
<circle cx="893.2" cy="180.74" r="2.9" fill="#ff8000" fill-opacity="0.55"/>
<circle cx="893.2" cy="237.68" r="2.9" fill="#ff8000" fill-opacity="0.55"/>
<circle cx="893.2" cy="203.25" r="2.9" fill="#ff8000" fill-opacity="0.55"/>
<circle cx="893.2" cy="195.84" r="2.9" fill="#ff8000" fill-opacity="0.55"/>
<circle cx="893.2" cy="244.75" r="2.9" fill="#ff8000" fill-opacity="0.55"/>
<circle cx="893.2" cy="267.71" r="2.9" fill="#ff8000" fill-opacity="0.55"/>
<circle cx="893.2" cy="199.52" r="2.9" fill="#ff8000" fill-opacity="0.55"/>
<circle cx="893.2" cy="154.16" r="2.9" fill="#ff8000" fill-opacity="0.55"/>
<circle cx="893.2" cy="170.43" r="2.9" fill="#ff8000" fill-opacity="0.55"/>
<circle cx="893.2" cy="178.89" r="2.9" fill="#ff8000" fill-opacity="0.55"/>
<circle cx="893.2" cy="178.31" r="2.9" fill="#ff8000" fill-opacity="0.55"/>
<circle cx="893.2" cy="117.88" r="2.9" fill="#ff8000" fill-opacity="0.55"/>
<circle cx="893.2" cy="192.39" r="2.9" fill="#ff8000" fill-opacity="0.55"/>
<circle cx="893.2" cy="150.79" r="2.9" fill="#ff8000" fill-opacity="0.55"/>
<circle cx="893.2" cy="123.39" r="2.9" fill="#ff8000" fill-opacity="0.55"/>
<circle cx="893.2" cy="204.62" r="2.9" fill="#ff8000" fill-opacity="0.55"/>
<circle cx="893.2" cy="192.11" r="2.9" fill="#ff8000" fill-opacity="0.55"/>
<circle cx="893.2" cy="150.7" r="2.9" fill="#ff8000" fill-opacity="0.55"/>
<circle cx="893.2" cy="128.6" r="2.9" fill="#ff8000" fill-opacity="0.55"/>
<circle cx="893.2" cy="189.27" r="2.9" fill="#ff8000" fill-opacity="0.55"/>
<circle cx="893.2" cy="186.38" r="2.9" fill="#ff8000" fill-opacity="0.55"/>
<circle cx="893.2" cy="202.38" r="2.9" fill="#ff8000" fill-opacity="0.55"/>
<circle cx="893.2" cy="271.23" r="2.9" fill="#ff8000" fill-opacity="0.55"/>
<circle cx="893.2" cy="147.49" r="2.9" fill="#ff8000" fill-opacity="0.55"/>
<circle cx="893.2" cy="222.72" r="2.9" fill="#ff8000" fill-opacity="0.55"/>
<circle cx="893.2" cy="286.89" r="2.9" fill="#ff8000" fill-opacity="0.55"/>
<circle cx="893.2" cy="216.34" r="2.9" fill="#ff8000" fill-opacity="0.55"/>
<circle cx="893.2" cy="287.07" r="2.9" fill="#ff8000" fill-opacity="0.55"/>
<circle cx="893.2" cy="262.75" r="2.9" fill="#ff8000" fill-opacity="0.55"/>
<circle cx="893.2" cy="206.53" r="2.9" fill="#ff8000" fill-opacity="0.55"/>
<circle cx="893.2" cy="258.67" r="2.9" fill="#ff8000" fill-opacity="0.55"/>
<circle cx="893.2" cy="149.32" r="2.9" fill="#ff8000" fill-opacity="0.55"/>
<circle cx="893.2" cy="108.48" r="2.9" fill="#ff8000" fill-opacity="0.55"/>
<circle cx="893.2" cy="305.03" r="2.9" fill="#ff8000" fill-opacity="0.55"/>
<circle cx="893.2" cy="309.74" r="2.9" fill="#ff8000" fill-opacity="0.55"/>
<circle cx="893.2" cy="315.63" r="2.9" fill="#ff8000" fill-opacity="0.55"/>
<circle cx="893.2" cy="321.52" r="2.9" fill="#ff8000" fill-opacity="0.55"/>
<circle cx="893.2" cy="335.66" r="2.9" fill="#ff8000" fill-opacity="0.55"/>
<circle cx="893.2" cy="338.02" r="2.9" fill="#ff8000" fill-opacity="0.55"/>
<circle cx="893.2" cy="340.38" r="2.9" fill="#ff8000" fill-opacity="0.55"/>
<circle cx="893.2" cy="354.52" r="2.9" fill="#ff8000" fill-opacity="0.55"/>
<circle cx="893.2" cy="356.87" r="2.9" fill="#ff8000" fill-opacity="0.55"/>
<circle cx="893.2" cy="359.23" r="2.9" fill="#ff8000" fill-opacity="0.55"/>
<circle cx="893.2" cy="375.02" r="2.9" fill="#ff8000" fill-opacity="0.55"/>
<circle cx="893.2" cy="117.59" r="2.9" fill="#ff8000" fill-opacity="0.55"/>
<circle cx="893.2" cy="175.03" r="2.9" fill="#ff8000" fill-opacity="0.55"/>
<circle cx="893.2" cy="148.77" r="2.9" fill="#ff8000" fill-opacity="0.55"/>
<circle cx="893.2" cy="123.91" r="2.9" fill="#ff8000" fill-opacity="0.55"/>
<circle cx="893.2" cy="170.54" r="2.9" fill="#ff8000" fill-opacity="0.55"/>
<circle cx="893.2" cy="157.97" r="2.9" fill="#ff8000" fill-opacity="0.55"/>
<circle cx="893.2" cy="278.69" r="2.9" fill="#ff8000" fill-opacity="0.55"/>
<circle cx="893.2" cy="288.46" r="2.9" fill="#ff8000" fill-opacity="0.55"/>
<circle cx="893.2" cy="135.83" r="2.9" fill="#ff8000" fill-opacity="0.55"/>
<circle cx="893.2" cy="248.51" r="2.9" fill="#ff8000" fill-opacity="0.55"/>
<circle cx="893.2" cy="237.43" r="2.9" fill="#ff8000" fill-opacity="0.55"/>
<circle cx="893.2" cy="267.01" r="2.9" fill="#ff8000" fill-opacity="0.55"/>
<circle cx="893.2" cy="187.48" r="2.9" fill="#ff8000" fill-opacity="0.55"/>
<circle cx="1039.2" cy="280" r="2.9" fill="#ff8000" fill-opacity="0.55"/>
<circle cx="1039.2" cy="186.14" r="2.9" fill="#ff8000" fill-opacity="0.55"/>
<circle cx="1039.2" cy="182.81" r="2.9" fill="#ff8000" fill-opacity="0.55"/>
<circle cx="1039.2" cy="136.09" r="2.9" fill="#ff8000" fill-opacity="0.55"/>
<circle cx="1039.2" cy="168.68" r="2.9" fill="#ff8000" fill-opacity="0.55"/>
<circle cx="1039.2" cy="195.2" r="2.9" fill="#ff8000" fill-opacity="0.55"/>
<circle cx="1039.2" cy="215.35" r="2.9" fill="#ff8000" fill-opacity="0.55"/>
<circle cx="1039.2" cy="210.85" r="2.9" fill="#ff8000" fill-opacity="0.55"/>
<circle cx="1039.2" cy="158.07" r="2.9" fill="#ff8000" fill-opacity="0.55"/>
<circle cx="1039.2" cy="260.87" r="2.9" fill="#ff8000" fill-opacity="0.55"/>
<circle cx="1039.2" cy="178.13" r="2.9" fill="#ff8000" fill-opacity="0.55"/>
<circle cx="1039.2" cy="202.21" r="2.9" fill="#ff8000" fill-opacity="0.55"/>
<circle cx="1039.2" cy="199.61" r="2.9" fill="#ff8000" fill-opacity="0.55"/>
<circle cx="1039.2" cy="220.65" r="2.9" fill="#ff8000" fill-opacity="0.55"/>
<circle cx="1039.2" cy="125.48" r="2.9" fill="#ff8000" fill-opacity="0.55"/>
<circle cx="1039.2" cy="249.22" r="2.9" fill="#ff8000" fill-opacity="0.55"/>
<circle cx="1039.2" cy="191.8" r="2.9" fill="#ff8000" fill-opacity="0.55"/>
<circle cx="1039.2" cy="184.64" r="2.9" fill="#ff8000" fill-opacity="0.55"/>
<circle cx="1039.2" cy="182.24" r="2.9" fill="#ff8000" fill-opacity="0.55"/>
<circle cx="1039.2" cy="180.95" r="2.9" fill="#ff8000" fill-opacity="0.55"/>
<circle cx="1039.2" cy="183.59" r="2.9" fill="#ff8000" fill-opacity="0.55"/>
<circle cx="1039.2" cy="163.63" r="2.9" fill="#ff8000" fill-opacity="0.55"/>
<circle cx="1039.2" cy="278.16" r="2.9" fill="#ff8000" fill-opacity="0.55"/>
<circle cx="1039.2" cy="198.03" r="2.9" fill="#ff8000" fill-opacity="0.55"/>
<circle cx="1039.2" cy="277.69" r="2.9" fill="#ff8000" fill-opacity="0.55"/>
<circle cx="1039.2" cy="186.48" r="2.9" fill="#ff8000" fill-opacity="0.55"/>
<circle cx="1039.2" cy="271.94" r="2.9" fill="#ff8000" fill-opacity="0.55"/>
<circle cx="1039.2" cy="263.29" r="2.9" fill="#ff8000" fill-opacity="0.55"/>
<circle cx="1039.2" cy="204.73" r="2.9" fill="#ff8000" fill-opacity="0.55"/>
<circle cx="1039.2" cy="140.02" r="2.9" fill="#ff8000" fill-opacity="0.55"/>
<circle cx="1039.2" cy="175.3" r="2.9" fill="#ff8000" fill-opacity="0.55"/>
<circle cx="1039.2" cy="184.09" r="2.9" fill="#ff8000" fill-opacity="0.55"/>
<circle cx="1039.2" cy="136.66" r="2.9" fill="#ff8000" fill-opacity="0.55"/>
<circle cx="1039.2" cy="257.51" r="2.9" fill="#ff8000" fill-opacity="0.55"/>
<circle cx="1039.2" cy="296.65" r="2.9" fill="#ff8000" fill-opacity="0.55"/>
<circle cx="1039.2" cy="243.32" r="2.9" fill="#ff8000" fill-opacity="0.55"/>
<circle cx="1039.2" cy="219.65" r="2.9" fill="#ff8000" fill-opacity="0.55"/>
<circle cx="1039.2" cy="149.98" r="2.9" fill="#ff8000" fill-opacity="0.55"/>
<circle cx="1039.2" cy="125.37" r="2.9" fill="#ff8000" fill-opacity="0.55"/>
<circle cx="1039.2" cy="281.26" r="2.9" fill="#ff8000" fill-opacity="0.55"/>
<circle cx="1039.2" cy="123.1" r="2.9" fill="#ff8000" fill-opacity="0.55"/>
<circle cx="1039.2" cy="139.46" r="2.9" fill="#ff8000" fill-opacity="0.55"/>
<circle cx="1039.2" cy="155.88" r="2.9" fill="#ff8000" fill-opacity="0.55"/>
<circle cx="1039.2" cy="194.45" r="2.9" fill="#ff8000" fill-opacity="0.55"/>
<circle cx="1039.2" cy="123.34" r="2.9" fill="#ff8000" fill-opacity="0.55"/>
<circle cx="1039.2" cy="206.33" r="2.9" fill="#ff8000" fill-opacity="0.55"/>
<circle cx="1039.2" cy="230.46" r="2.9" fill="#ff8000" fill-opacity="0.55"/>
<circle cx="1039.2" cy="210.16" r="2.9" fill="#ff8000" fill-opacity="0.55"/>
<circle cx="1039.2" cy="279.11" r="2.9" fill="#ff8000" fill-opacity="0.55"/>
<circle cx="1039.2" cy="183.91" r="2.9" fill="#ff8000" fill-opacity="0.55"/>
<circle cx="1039.2" cy="213.26" r="2.9" fill="#ff8000" fill-opacity="0.55"/>
<circle cx="1039.2" cy="188.01" r="2.9" fill="#ff8000" fill-opacity="0.55"/>
<circle cx="1039.2" cy="191.68" r="2.9" fill="#ff8000" fill-opacity="0.55"/>
<circle cx="1039.2" cy="265.84" r="2.9" fill="#ff8000" fill-opacity="0.55"/>
<circle cx="1039.2" cy="144.71" r="2.9" fill="#ff8000" fill-opacity="0.55"/>
<circle cx="1039.2" cy="262.8" r="2.9" fill="#ff8000" fill-opacity="0.55"/>
<circle cx="1039.2" cy="161.61" r="2.9" fill="#ff8000" fill-opacity="0.55"/>
<circle cx="1039.2" cy="287.44" r="2.9" fill="#ff8000" fill-opacity="0.55"/>
<circle cx="1039.2" cy="188.52" r="2.9" fill="#ff8000" fill-opacity="0.55"/>
<circle cx="1039.2" cy="253.85" r="2.9" fill="#ff8000" fill-opacity="0.55"/>
<circle cx="1039.2" cy="194.13" r="2.9" fill="#ff8000" fill-opacity="0.55"/>
<circle cx="1039.2" cy="249.58" r="2.9" fill="#ff8000" fill-opacity="0.55"/>
<circle cx="1039.2" cy="295.84" r="2.9" fill="#ff8000" fill-opacity="0.55"/>
<circle cx="1039.2" cy="262.76" r="2.9" fill="#ff8000" fill-opacity="0.55"/>
<circle cx="1039.2" cy="218.1" r="2.9" fill="#ff8000" fill-opacity="0.55"/>
<circle cx="1039.2" cy="183.97" r="2.9" fill="#ff8000" fill-opacity="0.55"/>
<circle cx="1039.2" cy="285.61" r="2.9" fill="#ff8000" fill-opacity="0.55"/>
<circle cx="1039.2" cy="295.66" r="2.9" fill="#ff8000" fill-opacity="0.55"/>
<circle cx="1039.2" cy="245.63" r="2.9" fill="#ff8000" fill-opacity="0.55"/>
<circle cx="1039.2" cy="219.94" r="2.9" fill="#ff8000" fill-opacity="0.55"/>
<circle cx="1039.2" cy="239.35" r="2.9" fill="#ff8000" fill-opacity="0.55"/>
<circle cx="1039.2" cy="256.23" r="2.9" fill="#ff8000" fill-opacity="0.55"/>
<circle cx="1039.2" cy="175.52" r="2.9" fill="#ff8000" fill-opacity="0.55"/>
<circle cx="1039.2" cy="168.7" r="2.9" fill="#ff8000" fill-opacity="0.55"/>
<circle cx="1039.2" cy="163.18" r="2.9" fill="#ff8000" fill-opacity="0.55"/>
<circle cx="1039.2" cy="260.47" r="2.9" fill="#ff8000" fill-opacity="0.55"/>
<circle cx="1039.2" cy="213.04" r="2.9" fill="#ff8000" fill-opacity="0.55"/>
<circle cx="1039.2" cy="214.63" r="2.9" fill="#ff8000" fill-opacity="0.55"/>
<circle cx="1039.2" cy="285.43" r="2.9" fill="#ff8000" fill-opacity="0.55"/>
<circle cx="1039.2" cy="156.07" r="2.9" fill="#ff8000" fill-opacity="0.55"/>
<circle cx="1039.2" cy="196.2" r="2.9" fill="#ff8000" fill-opacity="0.55"/>
<circle cx="1039.2" cy="242.1" r="2.9" fill="#ff8000" fill-opacity="0.55"/>
<circle cx="1039.2" cy="143.68" r="2.9" fill="#ff8000" fill-opacity="0.55"/>
<circle cx="1039.2" cy="162.96" r="2.9" fill="#ff8000" fill-opacity="0.55"/>
<circle cx="1039.2" cy="168.06" r="2.9" fill="#ff8000" fill-opacity="0.55"/>
<circle cx="1039.2" cy="144.38" r="2.9" fill="#ff8000" fill-opacity="0.55"/>
<circle cx="1039.2" cy="175.81" r="2.9" fill="#ff8000" fill-opacity="0.55"/>
<circle cx="1039.2" cy="272.1" r="2.9" fill="#ff8000" fill-opacity="0.55"/>
<circle cx="1039.2" cy="231.92" r="2.9" fill="#ff8000" fill-opacity="0.55"/>
<circle cx="1039.2" cy="157.75" r="2.9" fill="#ff8000" fill-opacity="0.55"/>
<circle cx="1039.2" cy="257.58" r="2.9" fill="#ff8000" fill-opacity="0.55"/>
<circle cx="1039.2" cy="206.31" r="2.9" fill="#ff8000" fill-opacity="0.55"/>
<circle cx="1039.2" cy="197.76" r="2.9" fill="#ff8000" fill-opacity="0.55"/>
<circle cx="1039.2" cy="140.12" r="2.9" fill="#ff8000" fill-opacity="0.55"/>
<circle cx="1039.2" cy="145.41" r="2.9" fill="#ff8000" fill-opacity="0.55"/>
<circle cx="1039.2" cy="157.46" r="2.9" fill="#ff8000" fill-opacity="0.55"/>
<circle cx="1039.2" cy="228.14" r="2.9" fill="#ff8000" fill-opacity="0.55"/>
<circle cx="1039.2" cy="152.2" r="2.9" fill="#ff8000" fill-opacity="0.55"/>
<circle cx="1039.2" cy="181.37" r="2.9" fill="#ff8000" fill-opacity="0.55"/>
<circle cx="1039.2" cy="226.08" r="2.9" fill="#ff8000" fill-opacity="0.55"/>
<circle cx="1039.2" cy="137.64" r="2.9" fill="#ff8000" fill-opacity="0.55"/>
<circle cx="1039.2" cy="172.51" r="2.9" fill="#ff8000" fill-opacity="0.55"/>
<circle cx="1039.2" cy="253.47" r="2.9" fill="#ff8000" fill-opacity="0.55"/>
<circle cx="1039.2" cy="148.59" r="2.9" fill="#ff8000" fill-opacity="0.55"/>
<circle cx="1039.2" cy="224.82" r="2.9" fill="#ff8000" fill-opacity="0.55"/>
<circle cx="1039.2" cy="179.93" r="2.9" fill="#ff8000" fill-opacity="0.55"/>
<circle cx="1039.2" cy="284.79" r="2.9" fill="#ff8000" fill-opacity="0.55"/>
<circle cx="1039.2" cy="202" r="2.9" fill="#ff8000" fill-opacity="0.55"/>
<circle cx="1039.2" cy="260.04" r="2.9" fill="#ff8000" fill-opacity="0.55"/>
<circle cx="1039.2" cy="262.46" r="2.9" fill="#ff8000" fill-opacity="0.55"/>
<circle cx="1039.2" cy="292.02" r="2.9" fill="#ff8000" fill-opacity="0.55"/>
<circle cx="1039.2" cy="125.56" r="2.9" fill="#ff8000" fill-opacity="0.55"/>
<circle cx="1039.2" cy="213.96" r="2.9" fill="#ff8000" fill-opacity="0.55"/>
<circle cx="1039.2" cy="191.13" r="2.9" fill="#ff8000" fill-opacity="0.55"/>
<circle cx="1039.2" cy="153.04" r="2.9" fill="#ff8000" fill-opacity="0.55"/>
<circle cx="1039.2" cy="216.68" r="2.9" fill="#ff8000" fill-opacity="0.55"/>
<circle cx="1039.2" cy="167.81" r="2.9" fill="#ff8000" fill-opacity="0.55"/>
<circle cx="1039.2" cy="277.31" r="2.9" fill="#ff8000" fill-opacity="0.55"/>
<circle cx="1039.2" cy="199.78" r="2.9" fill="#ff8000" fill-opacity="0.55"/>
<circle cx="1039.2" cy="222.36" r="2.9" fill="#ff8000" fill-opacity="0.55"/>
<circle cx="1039.2" cy="181.36" r="2.9" fill="#ff8000" fill-opacity="0.55"/>
<circle cx="1039.2" cy="206.06" r="2.9" fill="#ff8000" fill-opacity="0.55"/>
<circle cx="1039.2" cy="277.38" r="2.9" fill="#ff8000" fill-opacity="0.55"/>
<circle cx="1039.2" cy="293.16" r="2.9" fill="#ff8000" fill-opacity="0.55"/>
<circle cx="1039.2" cy="267.39" r="2.9" fill="#ff8000" fill-opacity="0.55"/>
<circle cx="1039.2" cy="167.18" r="2.9" fill="#ff8000" fill-opacity="0.55"/>
<circle cx="1039.2" cy="186.38" r="2.9" fill="#ff8000" fill-opacity="0.55"/>
<circle cx="1039.2" cy="191.27" r="2.9" fill="#ff8000" fill-opacity="0.55"/>
<circle cx="1039.2" cy="295.02" r="2.9" fill="#ff8000" fill-opacity="0.55"/>
<circle cx="1039.2" cy="299.44" r="2.9" fill="#ff8000" fill-opacity="0.55"/>
<circle cx="1039.2" cy="239.5" r="2.9" fill="#ff8000" fill-opacity="0.55"/>
<circle cx="1039.2" cy="233.84" r="2.9" fill="#ff8000" fill-opacity="0.55"/>
<circle cx="1039.2" cy="247.9" r="2.9" fill="#ff8000" fill-opacity="0.55"/>
<circle cx="1039.2" cy="178.35" r="2.9" fill="#ff8000" fill-opacity="0.55"/>
<circle cx="1039.2" cy="223.67" r="2.9" fill="#ff8000" fill-opacity="0.55"/>
<circle cx="1039.2" cy="266.27" r="2.9" fill="#ff8000" fill-opacity="0.55"/>
<circle cx="1039.2" cy="252.49" r="2.9" fill="#ff8000" fill-opacity="0.55"/>
<circle cx="1039.2" cy="202.98" r="2.9" fill="#ff8000" fill-opacity="0.55"/>
<circle cx="1039.2" cy="214.59" r="2.9" fill="#ff8000" fill-opacity="0.55"/>
<circle cx="1039.2" cy="212.18" r="2.9" fill="#ff8000" fill-opacity="0.55"/>
<circle cx="1039.2" cy="123.91" r="2.9" fill="#ff8000" fill-opacity="0.55"/>
<circle cx="1039.2" cy="220.22" r="2.9" fill="#ff8000" fill-opacity="0.55"/>
<circle cx="1039.2" cy="203.08" r="2.9" fill="#ff8000" fill-opacity="0.55"/>
<circle cx="1039.2" cy="258.92" r="2.9" fill="#ff8000" fill-opacity="0.55"/>
<circle cx="1039.2" cy="223.41" r="2.9" fill="#ff8000" fill-opacity="0.55"/>
<circle cx="1039.2" cy="186.38" r="2.9" fill="#ff8000" fill-opacity="0.55"/>
<circle cx="1039.2" cy="170.53" r="2.9" fill="#ff8000" fill-opacity="0.55"/>
<circle cx="1039.2" cy="218.84" r="2.9" fill="#ff8000" fill-opacity="0.55"/>
<circle cx="1039.2" cy="190.98" r="2.9" fill="#ff8000" fill-opacity="0.55"/>
<circle cx="1039.2" cy="209.32" r="2.9" fill="#ff8000" fill-opacity="0.55"/>
<circle cx="1039.2" cy="288.53" r="2.9" fill="#ff8000" fill-opacity="0.55"/>
<circle cx="1039.2" cy="300.1" r="2.9" fill="#ff8000" fill-opacity="0.55"/>
<circle cx="1039.2" cy="125.75" r="2.9" fill="#ff8000" fill-opacity="0.55"/>
<circle cx="1039.2" cy="164.17" r="2.9" fill="#ff8000" fill-opacity="0.55"/>
<circle cx="1039.2" cy="214.91" r="2.9" fill="#ff8000" fill-opacity="0.55"/>
<circle cx="1039.2" cy="289.93" r="2.9" fill="#ff8000" fill-opacity="0.55"/>
<circle cx="1039.2" cy="278.03" r="2.9" fill="#ff8000" fill-opacity="0.55"/>
<circle cx="1039.2" cy="147.82" r="2.9" fill="#ff8000" fill-opacity="0.55"/>
<circle cx="1039.2" cy="299.33" r="2.9" fill="#ff8000" fill-opacity="0.55"/>
<circle cx="1039.2" cy="235.01" r="2.9" fill="#ff8000" fill-opacity="0.55"/>
<circle cx="1039.2" cy="164.56" r="2.9" fill="#ff8000" fill-opacity="0.55"/>
<circle cx="1039.2" cy="205.91" r="2.9" fill="#ff8000" fill-opacity="0.55"/>
<circle cx="1039.2" cy="172.17" r="2.9" fill="#ff8000" fill-opacity="0.55"/>
<circle cx="1039.2" cy="214.08" r="2.9" fill="#ff8000" fill-opacity="0.55"/>
<circle cx="1039.2" cy="123.32" r="2.9" fill="#ff8000" fill-opacity="0.55"/>
<circle cx="1039.2" cy="269.09" r="2.9" fill="#ff8000" fill-opacity="0.55"/>
<circle cx="1039.2" cy="282.29" r="2.9" fill="#ff8000" fill-opacity="0.55"/>
<circle cx="1039.2" cy="197.47" r="2.9" fill="#ff8000" fill-opacity="0.55"/>
<circle cx="1039.2" cy="137.18" r="2.9" fill="#ff8000" fill-opacity="0.55"/>
<circle cx="1039.2" cy="213.3" r="2.9" fill="#ff8000" fill-opacity="0.55"/>
<circle cx="1039.2" cy="153.42" r="2.9" fill="#ff8000" fill-opacity="0.55"/>
<circle cx="1039.2" cy="243.05" r="2.9" fill="#ff8000" fill-opacity="0.55"/>
<circle cx="1039.2" cy="273.76" r="2.9" fill="#ff8000" fill-opacity="0.55"/>
<circle cx="1039.2" cy="140.34" r="2.9" fill="#ff8000" fill-opacity="0.55"/>
<circle cx="1039.2" cy="141.57" r="2.9" fill="#ff8000" fill-opacity="0.55"/>
<circle cx="1039.2" cy="132.9" r="2.9" fill="#ff8000" fill-opacity="0.55"/>
<circle cx="1039.2" cy="240.51" r="2.9" fill="#ff8000" fill-opacity="0.55"/>
<circle cx="1039.2" cy="273.81" r="2.9" fill="#ff8000" fill-opacity="0.55"/>
<circle cx="1039.2" cy="266.46" r="2.9" fill="#ff8000" fill-opacity="0.55"/>
<circle cx="1039.2" cy="222.6" r="2.9" fill="#ff8000" fill-opacity="0.55"/>
<circle cx="1039.2" cy="177.23" r="2.9" fill="#ff8000" fill-opacity="0.55"/>
<circle cx="1039.2" cy="184.72" r="2.9" fill="#ff8000" fill-opacity="0.55"/>
<circle cx="1039.2" cy="286.09" r="2.9" fill="#ff8000" fill-opacity="0.55"/>
<circle cx="1039.2" cy="198.25" r="2.9" fill="#ff8000" fill-opacity="0.55"/>
<circle cx="1039.2" cy="202.68" r="2.9" fill="#ff8000" fill-opacity="0.55"/>
<circle cx="1039.2" cy="210.78" r="2.9" fill="#ff8000" fill-opacity="0.55"/>
<circle cx="1039.2" cy="204.12" r="2.9" fill="#ff8000" fill-opacity="0.55"/>
<circle cx="1039.2" cy="229.12" r="2.9" fill="#ff8000" fill-opacity="0.55"/>
<circle cx="1039.2" cy="180.89" r="2.9" fill="#ff8000" fill-opacity="0.55"/>
<circle cx="1039.2" cy="200.35" r="2.9" fill="#ff8000" fill-opacity="0.55"/>
<circle cx="1039.2" cy="197.58" r="2.9" fill="#ff8000" fill-opacity="0.55"/>
<circle cx="1039.2" cy="246.15" r="2.9" fill="#ff8000" fill-opacity="0.55"/>
<circle cx="1039.2" cy="192.05" r="2.9" fill="#ff8000" fill-opacity="0.55"/>
<circle cx="1039.2" cy="223.91" r="2.9" fill="#ff8000" fill-opacity="0.55"/>
<circle cx="1039.2" cy="297.34" r="2.9" fill="#ff8000" fill-opacity="0.55"/>
<circle cx="1039.2" cy="189.68" r="2.9" fill="#ff8000" fill-opacity="0.55"/>
<circle cx="1039.2" cy="232.39" r="2.9" fill="#ff8000" fill-opacity="0.55"/>
<circle cx="1039.2" cy="166.97" r="2.9" fill="#ff8000" fill-opacity="0.55"/>
<circle cx="1039.2" cy="218.44" r="2.9" fill="#ff8000" fill-opacity="0.55"/>
<circle cx="1039.2" cy="220.28" r="2.9" fill="#ff8000" fill-opacity="0.55"/>
<circle cx="1039.2" cy="210.06" r="2.9" fill="#ff8000" fill-opacity="0.55"/>
<circle cx="1039.2" cy="196.86" r="2.9" fill="#ff8000" fill-opacity="0.55"/>
<circle cx="1039.2" cy="241.25" r="2.9" fill="#ff8000" fill-opacity="0.55"/>
<circle cx="1039.2" cy="292.94" r="2.9" fill="#ff8000" fill-opacity="0.55"/>
<circle cx="1039.2" cy="127.84" r="2.9" fill="#ff8000" fill-opacity="0.55"/>
<circle cx="1039.2" cy="282.42" r="2.9" fill="#ff8000" fill-opacity="0.55"/>
<circle cx="1039.2" cy="237.17" r="2.9" fill="#ff8000" fill-opacity="0.55"/>
<circle cx="1039.2" cy="181.69" r="2.9" fill="#ff8000" fill-opacity="0.55"/>
<circle cx="1039.2" cy="194.45" r="2.9" fill="#ff8000" fill-opacity="0.55"/>
<circle cx="1039.2" cy="172.22" r="2.9" fill="#ff8000" fill-opacity="0.55"/>
<circle cx="1039.2" cy="169.26" r="2.9" fill="#ff8000" fill-opacity="0.55"/>
<circle cx="1039.2" cy="148.89" r="2.9" fill="#ff8000" fill-opacity="0.55"/>
<circle cx="1039.2" cy="193.59" r="2.9" fill="#ff8000" fill-opacity="0.55"/>
<circle cx="1039.2" cy="121.56" r="2.9" fill="#ff8000" fill-opacity="0.55"/>
<circle cx="1039.2" cy="271.46" r="2.9" fill="#ff8000" fill-opacity="0.55"/>
<circle cx="1039.2" cy="199.71" r="2.9" fill="#ff8000" fill-opacity="0.55"/>
<circle cx="1039.2" cy="239.54" r="2.9" fill="#ff8000" fill-opacity="0.55"/>
<circle cx="1039.2" cy="229.79" r="2.9" fill="#ff8000" fill-opacity="0.55"/>
<circle cx="1039.2" cy="183.63" r="2.9" fill="#ff8000" fill-opacity="0.55"/>
<circle cx="1039.2" cy="136.43" r="2.9" fill="#ff8000" fill-opacity="0.55"/>
<circle cx="1039.2" cy="251.53" r="2.9" fill="#ff8000" fill-opacity="0.55"/>
<circle cx="1039.2" cy="247.4" r="2.9" fill="#ff8000" fill-opacity="0.55"/>
<circle cx="1039.2" cy="181.24" r="2.9" fill="#ff8000" fill-opacity="0.55"/>
<circle cx="1039.2" cy="178.03" r="2.9" fill="#ff8000" fill-opacity="0.55"/>
<circle cx="1039.2" cy="130.24" r="2.9" fill="#ff8000" fill-opacity="0.55"/>
<circle cx="1039.2" cy="161.49" r="2.9" fill="#ff8000" fill-opacity="0.55"/>
<circle cx="1039.2" cy="201.46" r="2.9" fill="#ff8000" fill-opacity="0.55"/>
<circle cx="1039.2" cy="231.94" r="2.9" fill="#ff8000" fill-opacity="0.55"/>
<circle cx="1039.2" cy="194.83" r="2.9" fill="#ff8000" fill-opacity="0.55"/>
<circle cx="1039.2" cy="216.91" r="2.9" fill="#ff8000" fill-opacity="0.55"/>
<circle cx="1039.2" cy="278.43" r="2.9" fill="#ff8000" fill-opacity="0.55"/>
<circle cx="1039.2" cy="215.84" r="2.9" fill="#ff8000" fill-opacity="0.55"/>
<circle cx="1039.2" cy="217.04" r="2.9" fill="#ff8000" fill-opacity="0.55"/>
<circle cx="1039.2" cy="225.06" r="2.9" fill="#ff8000" fill-opacity="0.55"/>
<circle cx="1039.2" cy="228.86" r="2.9" fill="#ff8000" fill-opacity="0.55"/>
<circle cx="1039.2" cy="135.26" r="2.9" fill="#ff8000" fill-opacity="0.55"/>
<circle cx="1039.2" cy="186.52" r="2.9" fill="#ff8000" fill-opacity="0.55"/>
<circle cx="1039.2" cy="161.76" r="2.9" fill="#ff8000" fill-opacity="0.55"/>
<circle cx="1039.2" cy="233.47" r="2.9" fill="#ff8000" fill-opacity="0.55"/>
<circle cx="1039.2" cy="263.8" r="2.9" fill="#ff8000" fill-opacity="0.55"/>
<circle cx="1039.2" cy="228.39" r="2.9" fill="#ff8000" fill-opacity="0.55"/>
<circle cx="1039.2" cy="191.38" r="2.9" fill="#ff8000" fill-opacity="0.55"/>
<circle cx="1039.2" cy="227.95" r="2.9" fill="#ff8000" fill-opacity="0.55"/>
<circle cx="1039.2" cy="219.07" r="2.9" fill="#ff8000" fill-opacity="0.55"/>
<circle cx="1039.2" cy="160.77" r="2.9" fill="#ff8000" fill-opacity="0.55"/>
<circle cx="1039.2" cy="192.87" r="2.9" fill="#ff8000" fill-opacity="0.55"/>
<circle cx="1039.2" cy="263.27" r="2.9" fill="#ff8000" fill-opacity="0.55"/>
<circle cx="1039.2" cy="239.14" r="2.9" fill="#ff8000" fill-opacity="0.55"/>
<circle cx="1039.2" cy="253.9" r="2.9" fill="#ff8000" fill-opacity="0.55"/>
<circle cx="1039.2" cy="199.35" r="2.9" fill="#ff8000" fill-opacity="0.55"/>
<circle cx="1039.2" cy="267.99" r="2.9" fill="#ff8000" fill-opacity="0.55"/>
<circle cx="1039.2" cy="217.43" r="2.9" fill="#ff8000" fill-opacity="0.55"/>
<circle cx="1039.2" cy="169.03" r="2.9" fill="#ff8000" fill-opacity="0.55"/>
<circle cx="1039.2" cy="206.1" r="2.9" fill="#ff8000" fill-opacity="0.55"/>
<circle cx="1039.2" cy="247.9" r="2.9" fill="#ff8000" fill-opacity="0.55"/>
<circle cx="1039.2" cy="244.49" r="2.9" fill="#ff8000" fill-opacity="0.55"/>
<circle cx="1039.2" cy="197.36" r="2.9" fill="#ff8000" fill-opacity="0.55"/>
<circle cx="1039.2" cy="172.27" r="2.9" fill="#ff8000" fill-opacity="0.55"/>
<circle cx="1039.2" cy="164.02" r="2.9" fill="#ff8000" fill-opacity="0.55"/>
<circle cx="1039.2" cy="217.71" r="2.9" fill="#ff8000" fill-opacity="0.55"/>
<circle cx="1039.2" cy="273.8" r="2.9" fill="#ff8000" fill-opacity="0.55"/>
<circle cx="1039.2" cy="135.35" r="2.9" fill="#ff8000" fill-opacity="0.55"/>
<circle cx="1039.2" cy="191.58" r="2.9" fill="#ff8000" fill-opacity="0.55"/>
<circle cx="1039.2" cy="185.17" r="2.9" fill="#ff8000" fill-opacity="0.55"/>
<circle cx="1039.2" cy="192.43" r="2.9" fill="#ff8000" fill-opacity="0.55"/>
<circle cx="1039.2" cy="271.69" r="2.9" fill="#ff8000" fill-opacity="0.55"/>
<circle cx="1039.2" cy="222.87" r="2.9" fill="#ff8000" fill-opacity="0.55"/>
<circle cx="1039.2" cy="197.2" r="2.9" fill="#ff8000" fill-opacity="0.55"/>
<circle cx="1039.2" cy="163.16" r="2.9" fill="#ff8000" fill-opacity="0.55"/>
<circle cx="1039.2" cy="208.08" r="2.9" fill="#ff8000" fill-opacity="0.55"/>
<circle cx="1039.2" cy="300.17" r="2.9" fill="#ff8000" fill-opacity="0.55"/>
<circle cx="1039.2" cy="230.67" r="2.9" fill="#ff8000" fill-opacity="0.55"/>
<circle cx="1039.2" cy="190.13" r="2.9" fill="#ff8000" fill-opacity="0.55"/>
<circle cx="1039.2" cy="148.12" r="2.9" fill="#ff8000" fill-opacity="0.55"/>
<circle cx="1039.2" cy="165.15" r="2.9" fill="#ff8000" fill-opacity="0.55"/>
<circle cx="1039.2" cy="292.54" r="2.9" fill="#ff8000" fill-opacity="0.55"/>
<circle cx="1039.2" cy="164.01" r="2.9" fill="#ff8000" fill-opacity="0.55"/>
<circle cx="1039.2" cy="241.3" r="2.9" fill="#ff8000" fill-opacity="0.55"/>
<circle cx="1039.2" cy="173.38" r="2.9" fill="#ff8000" fill-opacity="0.55"/>
<circle cx="1039.2" cy="142.63" r="2.9" fill="#ff8000" fill-opacity="0.55"/>
<circle cx="1039.2" cy="182.01" r="2.9" fill="#ff8000" fill-opacity="0.55"/>
<circle cx="1039.2" cy="221.95" r="2.9" fill="#ff8000" fill-opacity="0.55"/>
<circle cx="1039.2" cy="192.12" r="2.9" fill="#ff8000" fill-opacity="0.55"/>
<circle cx="1039.2" cy="153.75" r="2.9" fill="#ff8000" fill-opacity="0.55"/>
<circle cx="1039.2" cy="178.68" r="2.9" fill="#ff8000" fill-opacity="0.55"/>
<circle cx="1039.2" cy="248.78" r="2.9" fill="#ff8000" fill-opacity="0.55"/>
<circle cx="1039.2" cy="298.24" r="2.9" fill="#ff8000" fill-opacity="0.55"/>
<circle cx="1039.2" cy="67" r="2.9" fill="#ff8000" fill-opacity="0.55"/>
<circle cx="1039.2" cy="82.32" r="2.9" fill="#ff8000" fill-opacity="0.55"/>
<circle cx="1039.2" cy="102.35" r="2.9" fill="#ff8000" fill-opacity="0.55"/>
<circle cx="1039.2" cy="107.06" r="2.9" fill="#ff8000" fill-opacity="0.55"/>
<circle cx="1039.2" cy="111.78" r="2.9" fill="#ff8000" fill-opacity="0.55"/>
<circle cx="1039.2" cy="115.31" r="2.9" fill="#ff8000" fill-opacity="0.55"/>
<circle cx="1039.2" cy="305.03" r="2.9" fill="#ff8000" fill-opacity="0.55"/>
<circle cx="1039.2" cy="314.45" r="2.9" fill="#ff8000" fill-opacity="0.55"/>
<circle cx="1039.2" cy="316.81" r="2.9" fill="#ff8000" fill-opacity="0.55"/>
<circle cx="1039.2" cy="326.24" r="2.9" fill="#ff8000" fill-opacity="0.55"/>
<circle cx="1039.2" cy="328.59" r="2.9" fill="#ff8000" fill-opacity="0.55"/>
<circle cx="1039.2" cy="335.66" r="2.9" fill="#ff8000" fill-opacity="0.55"/>
<circle cx="1039.2" cy="341.56" r="2.9" fill="#ff8000" fill-opacity="0.55"/>
</g>
<line x1="579.4" y1="21.81" x2="579.4" y2="392.69" stroke="#000" stroke-width="0.85"/>
<line x1="1061.1" y1="21.81" x2="1061.1" y2="392.69" stroke="#000" stroke-width="0.9"/>
<line x1="578.98" y1="22.2" x2="1061.55" y2="22.2" stroke="#000" stroke-width="0.77"/>
<line x1="578.98" y1="392.3" x2="1061.55" y2="392.3" stroke="#000" stroke-width="0.77"/>
<line x1="575.9" y1="349.8" x2="579.4" y2="349.8" stroke="#000" stroke-width="0.8"/>
<text x="572.6" y="354.7" font-size="12.4" font-weight="bold" text-anchor="end" textLength="8.18" lengthAdjust="spacingAndGlyphs" fill="#000" stroke="#000" stroke-width="0.3">8</text>
<line x1="575.9" y1="302.67" x2="579.4" y2="302.67" stroke="#000" stroke-width="0.8"/>
<text x="572.6" y="307.57" font-size="12.4" font-weight="bold" text-anchor="end" textLength="16.35" lengthAdjust="spacingAndGlyphs" fill="#000" stroke="#000" stroke-width="0.3">10</text>
<line x1="575.9" y1="255.54" x2="579.4" y2="255.54" stroke="#000" stroke-width="0.8"/>
<text x="572.6" y="260.44" font-size="12.4" font-weight="bold" text-anchor="end" textLength="16.35" lengthAdjust="spacingAndGlyphs" fill="#000" stroke="#000" stroke-width="0.3">12</text>
<line x1="575.9" y1="208.4" x2="579.4" y2="208.4" stroke="#000" stroke-width="0.8"/>
<text x="572.6" y="213.3" font-size="12.4" font-weight="bold" text-anchor="end" textLength="16.35" lengthAdjust="spacingAndGlyphs" fill="#000" stroke="#000" stroke-width="0.3">14</text>
<line x1="575.9" y1="161.27" x2="579.4" y2="161.27" stroke="#000" stroke-width="0.8"/>
<text x="572.6" y="166.17" font-size="12.4" font-weight="bold" text-anchor="end" textLength="16.35" lengthAdjust="spacingAndGlyphs" fill="#000" stroke="#000" stroke-width="0.3">16</text>
<line x1="575.9" y1="114.13" x2="579.4" y2="114.13" stroke="#000" stroke-width="0.8"/>
<text x="572.6" y="119.03" font-size="12.4" font-weight="bold" text-anchor="end" textLength="16.35" lengthAdjust="spacingAndGlyphs" fill="#000" stroke="#000" stroke-width="0.3">18</text>
<line x1="575.9" y1="67" x2="579.4" y2="67" stroke="#000" stroke-width="0.8"/>
<text x="572.6" y="71.9" font-size="12.4" font-weight="bold" text-anchor="end" textLength="16.35" lengthAdjust="spacingAndGlyphs" fill="#000" stroke="#000" stroke-width="0.3">20</text>
<line x1="601.2" y1="392.3" x2="601.2" y2="395.8" stroke="#000" stroke-width="0.8"/>
<text x="601.2" y="408.4" font-size="12.4" font-weight="bold" text-anchor="middle" textLength="34.15" lengthAdjust="spacingAndGlyphs" fill="#000" stroke="#000" stroke-width="0.3">R Pre</text>
<line x1="747.2" y1="392.3" x2="747.2" y2="395.8" stroke="#000" stroke-width="0.8"/>
<text x="747.2" y="408.4" font-size="12.4" font-weight="bold" text-anchor="middle" textLength="40.81" lengthAdjust="spacingAndGlyphs" fill="#000" stroke="#000" stroke-width="0.3">R Post</text>
<line x1="893.2" y1="392.3" x2="893.2" y2="395.8" stroke="#000" stroke-width="0.8"/>
<text x="893.2" y="408.4" font-size="12.4" font-weight="bold" text-anchor="middle" textLength="33.73" lengthAdjust="spacingAndGlyphs" fill="#000" stroke="#000" stroke-width="0.3">P Pre</text>
<line x1="1039.2" y1="392.3" x2="1039.2" y2="395.8" stroke="#000" stroke-width="0.8"/>
<text x="1039.2" y="408.4" font-size="12.4" font-weight="bold" text-anchor="middle" textLength="40.39" lengthAdjust="spacingAndGlyphs" fill="#000" stroke="#000" stroke-width="0.3">P Post</text>
<text x="820.25" y="16.7" font-size="15.8" font-weight="bold" text-anchor="middle" textLength="342.65" lengthAdjust="spacingAndGlyphs" fill="#000" stroke="#000" stroke-width="0.3">B) Within-Group Pre-Post Changes (TQR)</text>
<text x="551.6" y="207.25" font-size="15.4" font-weight="bold" text-anchor="middle" textLength="84.42" lengthAdjust="spacingAndGlyphs" fill="#000" stroke="#000" stroke-width="0.3" transform="rotate(-90 551.6 207.25)">TQR Score</text>
<line x1="170" y1="499.4" x2="170" y2="605.6" stroke="#7a7a7a" stroke-width="1.6"/>
<line x1="170" y1="676.1" x2="170" y2="759.2" stroke="#7a7a7a" stroke-width="1.6"/>
<line x1="133.9" y1="499.4" x2="206.1" y2="499.4" stroke="#000" stroke-width="1.15"/>
<line x1="133.9" y1="759.2" x2="206.1" y2="759.2" stroke="#000" stroke-width="1.15"/>
<polygon points="97.75,676.1 242.25,676.1 242.25,648.3 206.1,641.9 242.25,635.4 242.25,605.6 97.75,605.6 97.75,635.4 133.9,641.9 97.75,648.3" fill="#0079bb" stroke="#111" stroke-width="1.1" stroke-linejoin="miter"/>
<line x1="133.9" y1="641.9" x2="206.1" y2="641.9" stroke="#8a9498" stroke-width="1.3"/>
<circle cx="170" cy="790.6" r="2.7" fill="none" stroke="#222" stroke-width="0.9"/>
<circle cx="170" cy="792.8" r="2.7" fill="none" stroke="#222" stroke-width="0.9"/>
<line x1="410.6" y1="456.1" x2="410.6" y2="560.4" stroke="#7a7a7a" stroke-width="1.6"/>
<line x1="410.6" y1="641.5" x2="410.6" y2="761.6" stroke="#7a7a7a" stroke-width="1.6"/>
<line x1="374.5" y1="456.1" x2="446.7" y2="456.1" stroke="#000" stroke-width="1.15"/>
<line x1="374.5" y1="761.6" x2="446.7" y2="761.6" stroke="#000" stroke-width="1.15"/>
<polygon points="338.35,641.5 482.85,641.5 482.85,603.7 446.7,596.7 482.85,589.7 482.85,560.4 338.35,560.4 338.35,589.7 374.5,596.7 338.35,603.7" fill="#ff8000" stroke="#111" stroke-width="1.1" stroke-linejoin="miter"/>
<line x1="374.5" y1="596.7" x2="446.7" y2="596.7" stroke="#ff8000" stroke-width="1.3"/>
<circle cx="410.6" cy="784" r="2.7" fill="none" stroke="#222" stroke-width="0.9"/>
<circle cx="410.6" cy="786.2" r="2.7" fill="none" stroke="#222" stroke-width="0.9"/>
<line x1="49.8" y1="439.31" x2="49.8" y2="810.38" stroke="#000" stroke-width="1.25"/>
<line x1="531.3" y1="439.31" x2="531.3" y2="810.38" stroke="#000" stroke-width="1.5"/>
<line x1="49.17" y1="439.7" x2="532.05" y2="439.7" stroke="#000" stroke-width="0.77"/>
<line x1="49.17" y1="810" x2="532.05" y2="810" stroke="#000" stroke-width="0.77"/>
<line x1="46.3" y1="790.8" x2="49.8" y2="790.8" stroke="#000" stroke-width="0.8"/>
<text x="43" y="795.7" font-size="12.4" font-weight="bold" text-anchor="end" textLength="8.18" lengthAdjust="spacingAndGlyphs" fill="#000" stroke="#000" stroke-width="0.3">0</text>
<line x1="46.3" y1="714.42" x2="49.8" y2="714.42" stroke="#000" stroke-width="0.8"/>
<text x="43" y="719.32" font-size="12.4" font-weight="bold" text-anchor="end" textLength="8.18" lengthAdjust="spacingAndGlyphs" fill="#000" stroke="#000" stroke-width="0.3">1</text>
<line x1="46.3" y1="638.05" x2="49.8" y2="638.05" stroke="#000" stroke-width="0.8"/>
<text x="43" y="642.95" font-size="12.4" font-weight="bold" text-anchor="end" textLength="8.18" lengthAdjust="spacingAndGlyphs" fill="#000" stroke="#000" stroke-width="0.3">2</text>
<line x1="46.3" y1="561.67" x2="49.8" y2="561.67" stroke="#000" stroke-width="0.8"/>
<text x="43" y="566.57" font-size="12.4" font-weight="bold" text-anchor="end" textLength="8.18" lengthAdjust="spacingAndGlyphs" fill="#000" stroke="#000" stroke-width="0.3">3</text>
<line x1="46.3" y1="485.3" x2="49.8" y2="485.3" stroke="#000" stroke-width="0.8"/>
<text x="43" y="490.2" font-size="12.4" font-weight="bold" text-anchor="end" textLength="8.18" lengthAdjust="spacingAndGlyphs" fill="#000" stroke="#000" stroke-width="0.3">4</text>
<line x1="169.7" y1="810" x2="169.7" y2="813.5" stroke="#000" stroke-width="0.8"/>
<text x="169.7" y="825.9" font-size="12.4" font-weight="bold" text-anchor="middle" textLength="67.86" lengthAdjust="spacingAndGlyphs" fill="#000" stroke="#000" stroke-width="0.3">Relaxation</text>
<line x1="410.5" y1="810" x2="410.5" y2="813.5" stroke="#000" stroke-width="0.8"/>
<text x="410.5" y="825.9" font-size="12.4" font-weight="bold" text-anchor="middle" textLength="47.96" lengthAdjust="spacingAndGlyphs" fill="#000" stroke="#000" stroke-width="0.3">Passive</text>
<text x="290.55" y="434.1" font-size="15.8" font-weight="bold" text-anchor="middle" textLength="387.82" lengthAdjust="spacingAndGlyphs" fill="#000" stroke="#000" stroke-width="0.3">C) Between-Group Comparison at T3 (Lactate)</text>
<text x="28.9" y="624.85" font-size="15.4" font-weight="bold" text-anchor="middle" textLength="235.04" lengthAdjust="spacingAndGlyphs" fill="#000" stroke="#000" stroke-width="0.3" transform="rotate(-90 28.9 624.85)">Blood Lactate @ T3 (mmol/L)</text>
<path d="M601.64 699.5h1.53v93.3h-1.53zM603.09 699.5h1.53v83.03h-1.53zM604.55 699.5h1.53v76.5h-1.53zM606.01 699.5h1.53v56.19h-1.53zM607.47 699.5h1.53v52.04h-1.53zM608.93 699.5h1.53v46.99h-1.53zM610.39 699.5h1.53v44.99h-1.53zM611.84 699.5h1.53v43.75h-1.53zM613.3 699.5h1.53v41.78h-1.53zM614.76 699.5h1.53v40.06h-1.53zM616.22 699.5h1.53v38.31h-1.53zM617.68 699.5h1.53v35.18h-1.53zM619.14 699.5h1.53v31.78h-1.53zM620.59 699.5h1.53v28.95h-1.53zM622.05 699.5h1.53v26.21h-1.53zM623.51 699.5h1.53v24.55h-1.53zM624.97 699.5h1.53v23.22h-1.53zM626.43 699.5h1.53v22.89h-1.53zM627.89 699.5h1.53v21.69h-1.53zM629.34 699.5h1.53v21.36h-1.53zM630.8 699.5h1.53v18.97h-1.53zM632.26 699.5h1.53v18.01h-1.53zM633.72 699.5h1.53v17.14h-1.53zM635.18 699.5h1.53v16.28h-1.53zM636.64 699.5h1.53v16.06h-1.53zM638.09 699.5h1.53v15.86h-1.53zM639.55 699.5h1.53v15.79h-1.53zM641.01 699.5h1.53v15.68h-1.53zM642.47 699.5h1.53v15.33h-1.53zM643.93 699.5h1.53v14.95h-1.53zM645.39 699.5h1.53v13.98h-1.53zM646.84 699.5h1.53v12.2h-1.53zM648.3 699.5h1.53v10.78h-1.53zM649.76 699.5h1.53v9.3h-1.53zM651.22 699.5h1.53v7.92h-1.53zM652.68 699.5h1.53v6.45h-1.53zM654.14 699.5h1.53v4.69h-1.53zM655.59 699.5h1.53v3.85h-1.53zM657.05 699.5h1.53v3.63h-1.53zM658.51 699.5h1.53v1.95h-1.53zM659.97 699.5h1.53v1.43h-1.53zM661.43 699.34h1.53v0.16h-1.53zM662.89 699.1h1.53v0.4h-1.53zM664.34 698.35h1.53v1.15h-1.53zM665.8 697.84h1.53v1.66h-1.53zM667.26 697.07h1.53v2.43h-1.53zM668.72 695.83h1.53v3.67h-1.53zM670.18 695.4h1.53v4.1h-1.53zM671.64 693.45h1.53v6.05h-1.53zM673.09 692.96h1.53v6.54h-1.53zM674.55 692.75h1.53v6.75h-1.53zM676.01 692.02h1.53v7.48h-1.53zM677.47 691.66h1.53v7.84h-1.53zM678.93 691.64h1.53v7.86h-1.53zM680.38 690.04h1.53v9.46h-1.53zM681.84 689.38h1.53v10.12h-1.53zM683.3 689.17h1.53v10.33h-1.53zM684.76 688.08h1.53v11.42h-1.53zM686.22 688.01h1.53v11.49h-1.53zM687.68 686.86h1.53v12.64h-1.53zM689.13 686.12h1.53v13.38h-1.53zM690.59 685.5h1.53v14h-1.53zM692.05 684.97h1.53v14.53h-1.53zM693.51 684.93h1.53v14.57h-1.53zM694.97 683.7h1.53v15.8h-1.53zM696.43 683.65h1.53v15.85h-1.53zM697.88 682.78h1.53v16.72h-1.53zM699.34 682.38h1.53v17.12h-1.53zM700.8 682.23h1.53v17.27h-1.53zM702.26 682.07h1.53v17.43h-1.53zM703.72 681.71h1.53v17.79h-1.53zM705.18 681.31h1.53v18.19h-1.53zM706.63 681.22h1.53v18.28h-1.53zM708.09 681.11h1.53v18.39h-1.53zM709.55 679.93h1.53v19.57h-1.53zM711.01 679.91h1.53v19.59h-1.53zM712.47 679.9h1.53v19.6h-1.53zM713.93 677.61h1.53v21.89h-1.53zM715.38 676.06h1.53v23.44h-1.53zM716.84 675.47h1.53v24.03h-1.53zM718.3 675.25h1.53v24.25h-1.53zM719.76 674.65h1.53v24.85h-1.53zM721.22 673.92h1.53v25.58h-1.53zM722.68 673.22h1.53v26.28h-1.53zM724.13 673.09h1.53v26.41h-1.53zM725.59 673.08h1.53v26.42h-1.53zM727.05 671.71h1.53v27.79h-1.53zM728.51 671.55h1.53v27.95h-1.53zM729.97 671.24h1.53v28.26h-1.53zM731.43 670.46h1.53v29.04h-1.53zM732.88 669.52h1.53v29.98h-1.53zM734.34 668.99h1.53v30.51h-1.53zM735.8 668.1h1.53v31.4h-1.53zM737.26 667.32h1.53v32.18h-1.53zM738.72 666.79h1.53v32.71h-1.53zM740.18 666.45h1.53v33.05h-1.53zM741.63 666.44h1.53v33.06h-1.53zM743.09 665.05h1.53v34.45h-1.53zM744.55 664.19h1.53v35.31h-1.53zM746.01 663.84h1.53v35.66h-1.53zM747.47 663.42h1.53v36.08h-1.53zM748.92 663.33h1.53v36.17h-1.53zM750.38 662.15h1.53v37.35h-1.53zM751.84 661.65h1.53v37.85h-1.53zM753.3 661.6h1.53v37.9h-1.53zM754.76 660.99h1.53v38.51h-1.53zM756.22 660.87h1.53v38.63h-1.53zM757.67 659.91h1.53v39.59h-1.53zM759.13 659.82h1.53v39.68h-1.53zM760.59 659.04h1.53v40.46h-1.53zM762.05 658.47h1.53v41.03h-1.53zM763.51 658.44h1.53v41.06h-1.53zM764.97 658.1h1.53v41.4h-1.53zM766.42 657.44h1.53v42.06h-1.53zM767.88 656.49h1.53v43.01h-1.53zM769.34 656.26h1.53v43.24h-1.53zM770.8 656h1.53v43.5h-1.53zM772.26 655.21h1.53v44.29h-1.53zM773.72 654.67h1.53v44.83h-1.53zM775.17 654.61h1.53v44.89h-1.53zM776.63 654.21h1.53v45.29h-1.53zM778.09 653.88h1.53v45.62h-1.53zM779.55 653.69h1.53v45.81h-1.53zM781.01 653.58h1.53v45.92h-1.53zM782.47 653.51h1.53v45.99h-1.53zM783.92 652.51h1.53v46.99h-1.53zM785.38 652.51h1.53v46.99h-1.53zM786.84 651.29h1.53v48.21h-1.53zM788.3 650.9h1.53v48.6h-1.53zM789.76 650.7h1.53v48.8h-1.53zM791.22 650.53h1.53v48.97h-1.53zM792.67 649.89h1.53v49.61h-1.53zM794.13 649.09h1.53v50.41h-1.53zM795.59 649.05h1.53v50.45h-1.53zM797.05 648.93h1.53v50.57h-1.53zM798.51 648.23h1.53v51.27h-1.53zM799.97 647.78h1.53v51.72h-1.53zM801.42 647.59h1.53v51.91h-1.53zM802.88 646.85h1.53v52.65h-1.53zM804.34 646.54h1.53v52.96h-1.53zM805.8 645.94h1.53v53.56h-1.53zM807.26 645.38h1.53v54.12h-1.53zM808.72 644.93h1.53v54.57h-1.53zM810.17 643.34h1.53v56.16h-1.53zM811.63 642.21h1.53v57.29h-1.53zM813.09 640.47h1.53v59.03h-1.53zM814.55 640.47h1.53v59.03h-1.53zM816.01 640.11h1.53v59.39h-1.53zM817.47 639.62h1.53v59.88h-1.53zM818.92 639.25h1.53v60.25h-1.53zM820.38 638.28h1.53v61.22h-1.53zM821.84 636.28h1.53v63.22h-1.53zM823.3 634.74h1.53v64.76h-1.53zM824.76 634.74h1.53v64.76h-1.53zM826.21 634.37h1.53v65.13h-1.53zM827.67 633.9h1.53v65.6h-1.53zM829.13 632.5h1.53v67h-1.53zM830.59 632.39h1.53v67.11h-1.53zM832.05 631.57h1.53v67.93h-1.53zM833.51 631.41h1.53v68.09h-1.53zM834.96 631.19h1.53v68.31h-1.53zM836.42 631.05h1.53v68.45h-1.53zM837.88 630.96h1.53v68.54h-1.53zM839.34 630.89h1.53v68.61h-1.53zM840.8 629.79h1.53v69.71h-1.53zM842.26 629.52h1.53v69.98h-1.53zM843.71 629.31h1.53v70.19h-1.53zM845.17 628.35h1.53v71.15h-1.53zM846.63 628.28h1.53v71.22h-1.53zM848.09 628.08h1.53v71.42h-1.53zM849.55 627.98h1.53v71.52h-1.53zM851.01 627.77h1.53v71.73h-1.53zM852.46 626.57h1.53v72.93h-1.53zM853.92 626.25h1.53v73.25h-1.53zM855.38 626.12h1.53v73.38h-1.53zM856.84 625.46h1.53v74.04h-1.53zM858.3 624.54h1.53v74.96h-1.53zM859.76 623.63h1.53v75.87h-1.53zM861.21 622.95h1.53v76.55h-1.53zM862.67 622.79h1.53v76.71h-1.53zM864.13 620.86h1.53v78.64h-1.53zM865.59 620.66h1.53v78.84h-1.53zM867.05 619.51h1.53v79.99h-1.53zM868.51 619h1.53v80.5h-1.53zM869.96 618.58h1.53v80.92h-1.53zM871.42 618.23h1.53v81.27h-1.53zM872.88 616.79h1.53v82.71h-1.53zM874.34 616.54h1.53v82.96h-1.53zM875.8 616.3h1.53v83.2h-1.53zM877.26 615.98h1.53v83.52h-1.53zM878.71 615.7h1.53v83.8h-1.53zM880.17 615.25h1.53v84.25h-1.53zM881.63 614.24h1.53v85.26h-1.53zM883.09 613.32h1.53v86.18h-1.53zM884.55 613.21h1.53v86.29h-1.53zM886.01 612.91h1.53v86.59h-1.53zM887.46 612.53h1.53v86.97h-1.53zM888.92 612.11h1.53v87.39h-1.53zM890.38 611.89h1.53v87.61h-1.53zM891.84 610.74h1.53v88.76h-1.53zM893.3 609.87h1.53v89.63h-1.53zM894.75 608.18h1.53v91.32h-1.53zM896.21 608.01h1.53v91.49h-1.53zM897.67 606.32h1.53v93.18h-1.53zM899.13 606.18h1.53v93.32h-1.53zM900.59 606.11h1.53v93.39h-1.53zM902.05 605.02h1.53v94.48h-1.53zM903.5 603.94h1.53v95.56h-1.53zM904.96 603.92h1.53v95.58h-1.53zM906.42 603.76h1.53v95.74h-1.53zM907.88 603.72h1.53v95.78h-1.53zM909.34 603.09h1.53v96.41h-1.53zM910.8 602.34h1.53v97.16h-1.53zM912.25 602.32h1.53v97.18h-1.53zM913.71 602.2h1.53v97.3h-1.53zM915.17 601.4h1.53v98.1h-1.53zM916.63 600.35h1.53v99.15h-1.53zM918.09 599h1.53v100.5h-1.53zM919.55 598.84h1.53v100.66h-1.53zM921 597.68h1.53v101.82h-1.53zM922.46 596.49h1.53v103.01h-1.53zM923.92 596.42h1.53v103.08h-1.53zM925.38 596.1h1.53v103.4h-1.53zM926.84 595.69h1.53v103.81h-1.53zM928.3 595.46h1.53v104.04h-1.53zM929.75 594.88h1.53v104.62h-1.53zM931.21 594.87h1.53v104.63h-1.53zM932.67 594.8h1.53v104.7h-1.53zM934.13 594.77h1.53v104.73h-1.53zM935.59 594.76h1.53v104.74h-1.53zM937.05 593.58h1.53v105.92h-1.53zM938.5 591.15h1.53v108.35h-1.53zM939.96 589.75h1.53v109.75h-1.53zM941.42 587.65h1.53v111.85h-1.53zM942.88 586.39h1.53v113.11h-1.53zM944.34 585.41h1.53v114.09h-1.53zM945.8 585.39h1.53v114.11h-1.53zM947.25 584.93h1.53v114.57h-1.53zM948.71 584.18h1.53v115.32h-1.53zM950.17 583.84h1.53v115.66h-1.53zM951.63 583.68h1.53v115.82h-1.53zM953.09 583.34h1.53v116.16h-1.53zM954.55 582.29h1.53v117.21h-1.53zM956 581.55h1.53v117.95h-1.53zM957.46 580.68h1.53v118.82h-1.53zM958.92 580.13h1.53v119.37h-1.53zM960.38 579.54h1.53v119.96h-1.53zM961.84 578.37h1.53v121.13h-1.53zM963.3 577.46h1.53v122.04h-1.53zM964.75 575.47h1.53v124.03h-1.53zM966.21 574.23h1.53v125.27h-1.53zM967.67 573.89h1.53v125.61h-1.53zM969.13 571.75h1.53v127.75h-1.53zM970.59 570.95h1.53v128.55h-1.53zM972.04 569.22h1.53v130.28h-1.53zM973.5 568.34h1.53v131.16h-1.53zM974.96 567.96h1.53v131.54h-1.53zM976.42 566.29h1.53v133.21h-1.53zM977.88 566.26h1.53v133.24h-1.53zM979.34 566.04h1.53v133.46h-1.53zM980.79 566.02h1.53v133.48h-1.53zM982.25 564.9h1.53v134.6h-1.53zM983.71 564.66h1.53v134.84h-1.53zM985.17 563.76h1.53v135.74h-1.53zM986.63 562.79h1.53v136.71h-1.53zM988.09 561.59h1.53v137.91h-1.53zM989.54 561.33h1.53v138.17h-1.53zM991 559.44h1.53v140.06h-1.53zM992.46 558.44h1.53v141.06h-1.53zM993.92 558.07h1.53v141.43h-1.53zM995.38 557.43h1.53v142.07h-1.53zM996.84 554.85h1.53v144.65h-1.53zM998.29 553.53h1.53v145.97h-1.53zM999.75 551.3h1.53v148.2h-1.53zM1001.21 550.29h1.53v149.21h-1.53zM1002.67 549.14h1.53v150.36h-1.53zM1004.13 547.24h1.53v152.26h-1.53zM1005.59 547h1.53v152.5h-1.53zM1007.04 544.94h1.53v154.56h-1.53zM1008.5 543.66h1.53v155.84h-1.53zM1009.96 541.24h1.53v158.26h-1.53zM1011.42 541.1h1.53v158.4h-1.53zM1012.88 540.61h1.53v158.89h-1.53zM1014.34 537.9h1.53v161.6h-1.53zM1015.79 537.54h1.53v161.96h-1.53zM1017.25 533.29h1.53v166.21h-1.53zM1018.71 530.38h1.53v169.12h-1.53zM1020.17 526.56h1.53v172.94h-1.53zM1021.63 523.62h1.53v175.88h-1.53zM1023.09 522.71h1.53v176.79h-1.53zM1024.54 522.13h1.53v177.37h-1.53zM1026 519.95h1.53v179.55h-1.53zM1027.46 518.21h1.53v181.29h-1.53zM1028.92 516.2h1.53v183.3h-1.53zM1030.38 511.15h1.53v188.35h-1.53zM1031.84 503.19h1.53v196.31h-1.53zM1033.29 498.57h1.53v200.93h-1.53zM1034.75 497.82h1.53v201.68h-1.53zM1036.21 479.8h1.53v219.7h-1.53zM1037.67 456.07h1.53v243.43h-1.53z" fill="#000"/>
<path d="M609.19 699.8h1v45.79h-1zM610.65 699.8h1v43.79h-1zM613.57 699.8h1v40.58h-1zM616.48 699.8h1v37.11h-1zM619.4 699.8h1v30.58h-1zM620.86 699.8h1v27.75h-1zM632.52 699.8h1v16.81h-1zM633.98 699.8h1v15.94h-1zM636.9 699.8h1v14.86h-1zM639.82 699.8h1v14.59h-1zM644.19 699.8h1v13.75h-1zM652.94 699.8h1v5.25h-1zM657.32 699.8h1v2.43h-1zM660.23 699.8h1v0.23h-1zM664.61 699.25h1v0.25h-1zM676.27 692.92h1v6.58h-1zM677.73 692.56h1v6.94h-1zM680.65 690.94h1v8.56h-1zM683.56 690.07h1v9.43h-1zM686.48 688.91h1v10.59h-1zM687.94 687.76h1v11.74h-1zM699.61 683.28h1v16.22h-1zM701.06 683.13h1v16.37h-1zM703.98 682.61h1v16.89h-1zM706.9 682.12h1v17.38h-1zM711.27 680.81h1v18.69h-1zM720.02 675.55h1v23.95h-1zM724.4 673.99h1v25.51h-1zM727.31 672.61h1v26.89h-1zM730.23 672.14h1v27.36h-1zM731.69 671.36h1v28.14h-1zM743.36 665.95h1v33.55h-1zM744.81 665.09h1v34.41h-1zM747.73 664.32h1v35.18h-1zM750.65 663.05h1v36.45h-1zM753.56 662.5h1v37h-1zM755.02 661.89h1v37.61h-1zM766.69 658.34h1v41.16h-1zM768.15 657.39h1v42.11h-1zM771.06 656.9h1v42.6h-1zM773.98 655.57h1v43.93h-1zM778.35 654.78h1v44.72h-1zM787.1 652.19h1v47.31h-1zM791.48 651.43h1v48.07h-1zM794.4 649.99h1v49.51h-1zM797.31 649.83h1v49.67h-1zM798.77 649.13h1v50.37h-1zM810.44 644.24h1v55.26h-1zM811.9 643.11h1v56.39h-1zM814.81 641.37h1v58.13h-1zM817.73 640.52h1v58.98h-1zM820.64 639.18h1v60.32h-1zM822.1 637.18h1v62.32h-1zM833.77 632.31h1v67.19h-1zM835.23 632.09h1v67.41h-1zM838.14 631.86h1v67.64h-1zM841.06 630.69h1v68.81h-1zM845.44 629.25h1v70.25h-1zM854.19 627.15h1v72.35h-1zM858.56 625.44h1v74.06h-1zM861.48 623.85h1v75.65h-1zM864.39 621.76h1v77.74h-1zM865.85 621.56h1v77.94h-1zM877.52 616.88h1v82.62h-1zM878.98 616.6h1v82.9h-1zM881.89 615.14h1v84.36h-1zM884.81 614.11h1v85.39h-1zM887.73 613.43h1v86.07h-1zM889.19 613.01h1v86.49h-1zM900.85 607.01h1v92.49h-1zM902.31 605.92h1v93.58h-1zM905.23 604.82h1v94.68h-1zM908.14 604.62h1v94.88h-1zM912.52 603.22h1v96.28h-1zM921.27 598.58h1v100.92h-1zM925.64 597h1v102.5h-1zM928.56 596.36h1v103.14h-1zM931.48 595.77h1v103.73h-1zM932.93 595.7h1v103.8h-1zM944.6 586.31h1v113.19h-1zM948.98 585.08h1v114.42h-1zM951.89 584.58h1v114.92h-1zM954.81 583.19h1v116.31h-1zM956.27 582.45h1v117.05h-1zM967.93 574.79h1v124.71h-1zM969.39 572.65h1v126.85h-1zM972.31 570.12h1v129.38h-1zM975.22 568.86h1v130.64h-1zM979.6 566.94h1v132.56h-1zM988.35 562.49h1v137.01h-1zM992.72 559.34h1v140.16h-1zM995.64 558.33h1v141.17h-1zM998.56 554.43h1v145.07h-1zM1000.02 552.2h1v147.3h-1zM1011.68 542h1v157.5h-1zM1016.06 538.44h1v161.06h-1zM1018.97 531.28h1v168.22h-1zM1021.89 524.52h1v174.98h-1zM1023.35 523.61h1v175.89h-1zM1035.02 498.72h1v200.78h-1zM1036.47 480.7h1v218.8h-1z" fill="#277443"/>
<path d="M612.11 699.8h1v42.55h-1zM615.02 699.8h1v38.86h-1zM617.94 699.8h1v33.98h-1zM631.07 699.8h1v17.77h-1zM635.44 699.8h1v15.08h-1zM638.36 699.8h1v14.66h-1zM641.27 699.8h1v14.48h-1zM642.73 699.8h1v14.13h-1zM654.4 699.8h1v3.49h-1zM655.86 699.8h1v2.65h-1zM658.77 699.8h1v0.75h-1zM666.07 698.74h1v0.76h-1zM679.19 692.54h1v6.96h-1zM682.11 690.28h1v9.22h-1zM685.02 688.98h1v10.52h-1zM698.15 683.68h1v15.82h-1zM702.52 682.97h1v16.53h-1zM705.44 682.21h1v17.29h-1zM708.36 682.01h1v17.49h-1zM709.81 680.83h1v18.67h-1zM721.48 674.82h1v24.68h-1zM722.94 674.12h1v25.38h-1zM725.86 673.98h1v25.52h-1zM728.77 672.45h1v27.05h-1zM733.15 670.42h1v29.08h-1zM746.27 664.74h1v34.76h-1zM749.19 664.23h1v35.27h-1zM752.1 662.55h1v36.95h-1zM765.23 659h1v40.5h-1zM769.6 657.16h1v42.34h-1zM772.52 656.11h1v43.39h-1zM775.44 655.51h1v43.99h-1zM776.9 655.11h1v44.39h-1zM788.56 651.8h1v47.7h-1zM790.02 651.6h1v47.9h-1zM792.94 650.79h1v48.71h-1zM795.85 649.95h1v49.55h-1zM800.23 648.68h1v50.82h-1zM813.35 641.37h1v58.13h-1zM816.27 641.01h1v58.49h-1zM819.19 640.15h1v59.35h-1zM832.31 632.47h1v67.03h-1zM836.69 631.95h1v67.55h-1zM839.6 631.79h1v67.71h-1zM842.52 630.42h1v69.08h-1zM843.98 630.21h1v69.29h-1zM855.64 627.02h1v72.48h-1zM857.1 626.36h1v73.14h-1zM860.02 624.53h1v74.97h-1zM862.94 623.69h1v75.81h-1zM867.31 620.41h1v79.09h-1zM880.44 616.15h1v83.35h-1zM883.35 614.22h1v85.28h-1zM886.27 613.81h1v85.69h-1zM899.39 607.08h1v92.42h-1zM903.77 604.84h1v94.66h-1zM906.68 604.66h1v94.84h-1zM909.6 603.99h1v95.51h-1zM911.06 603.24h1v96.26h-1zM922.73 597.39h1v102.11h-1zM924.18 597.32h1v102.18h-1zM927.1 596.59h1v102.91h-1zM930.02 595.78h1v103.72h-1zM934.39 595.67h1v103.83h-1zM946.06 586.29h1v113.21h-1zM947.52 585.83h1v113.67h-1zM950.43 584.74h1v114.76h-1zM953.35 584.24h1v115.26h-1zM966.47 575.13h1v124.37h-1zM970.85 571.85h1v127.65h-1zM973.77 569.24h1v130.26h-1zM976.68 567.19h1v132.31h-1zM978.14 567.16h1v132.34h-1zM989.81 562.23h1v137.27h-1zM991.27 560.34h1v139.16h-1zM994.18 558.97h1v140.53h-1zM997.1 555.75h1v143.75h-1zM1001.47 551.19h1v148.31h-1zM1013.14 541.51h1v157.99h-1zM1014.6 538.8h1v160.7h-1zM1017.52 534.19h1v165.31h-1zM1020.43 527.46h1v172.04h-1zM1033.56 499.47h1v200.03h-1zM1037.93 456.97h1v242.53h-1z" fill="#134827"/>
<line x1="579.4" y1="439.31" x2="579.4" y2="810.38" stroke="#000" stroke-width="0.85"/>
<line x1="1061.1" y1="439.31" x2="1061.1" y2="810.38" stroke="#000" stroke-width="0.9"/>
<line x1="578.98" y1="439.7" x2="1061.55" y2="439.7" stroke="#000" stroke-width="0.77"/>
<line x1="578.98" y1="810" x2="1061.55" y2="810" stroke="#000" stroke-width="0.77"/>
<line x1="575.9" y1="790.78" x2="579.4" y2="790.78" stroke="#000" stroke-width="0.8"/>
<text x="572.6" y="795.68" font-size="12.4" font-weight="bold" text-anchor="end" textLength="18.02" lengthAdjust="spacingAndGlyphs" fill="#000" stroke="#000" stroke-width="0.3">−4</text>
<line x1="575.9" y1="745.14" x2="579.4" y2="745.14" stroke="#000" stroke-width="0.8"/>
<text x="572.6" y="750.04" font-size="12.4" font-weight="bold" text-anchor="end" textLength="18.02" lengthAdjust="spacingAndGlyphs" fill="#000" stroke="#000" stroke-width="0.3">−2</text>
<line x1="575.9" y1="699.5" x2="579.4" y2="699.5" stroke="#000" stroke-width="0.8"/>
<text x="572.6" y="704.4" font-size="12.4" font-weight="bold" text-anchor="end" textLength="8.18" lengthAdjust="spacingAndGlyphs" fill="#000" stroke="#000" stroke-width="0.3">0</text>
<line x1="575.9" y1="653.86" x2="579.4" y2="653.86" stroke="#000" stroke-width="0.8"/>
<text x="572.6" y="658.76" font-size="12.4" font-weight="bold" text-anchor="end" textLength="8.18" lengthAdjust="spacingAndGlyphs" fill="#000" stroke="#000" stroke-width="0.3">2</text>
<line x1="575.9" y1="608.22" x2="579.4" y2="608.22" stroke="#000" stroke-width="0.8"/>
<text x="572.6" y="613.12" font-size="12.4" font-weight="bold" text-anchor="end" textLength="8.18" lengthAdjust="spacingAndGlyphs" fill="#000" stroke="#000" stroke-width="0.3">4</text>
<line x1="575.9" y1="562.58" x2="579.4" y2="562.58" stroke="#000" stroke-width="0.8"/>
<text x="572.6" y="567.48" font-size="12.4" font-weight="bold" text-anchor="end" textLength="8.18" lengthAdjust="spacingAndGlyphs" fill="#000" stroke="#000" stroke-width="0.3">6</text>
<line x1="575.9" y1="516.94" x2="579.4" y2="516.94" stroke="#000" stroke-width="0.8"/>
<text x="572.6" y="521.84" font-size="12.4" font-weight="bold" text-anchor="end" textLength="8.18" lengthAdjust="spacingAndGlyphs" fill="#000" stroke="#000" stroke-width="0.3">8</text>
<line x1="575.9" y1="471.3" x2="579.4" y2="471.3" stroke="#000" stroke-width="0.8"/>
<text x="572.6" y="476.2" font-size="12.4" font-weight="bold" text-anchor="end" textLength="16.35" lengthAdjust="spacingAndGlyphs" fill="#000" stroke="#000" stroke-width="0.3">10</text>
<line x1="602.4" y1="810" x2="602.4" y2="813.5" stroke="#000" stroke-width="0.8"/>
<text x="602.4" y="825.9" font-size="12.4" font-weight="bold" text-anchor="middle" textLength="7.86" lengthAdjust="spacingAndGlyphs" fill="#000" stroke="#000" stroke-width="0.3">0</text>
<line x1="675.31" y1="810" x2="675.31" y2="813.5" stroke="#000" stroke-width="0.8"/>
<text x="675.31" y="825.9" font-size="12.4" font-weight="bold" text-anchor="middle" textLength="15.73" lengthAdjust="spacingAndGlyphs" fill="#000" stroke="#000" stroke-width="0.3">50</text>
<line x1="748.23" y1="810" x2="748.23" y2="813.5" stroke="#000" stroke-width="0.8"/>
<text x="748.23" y="825.9" font-size="12.4" font-weight="bold" text-anchor="middle" textLength="23.59" lengthAdjust="spacingAndGlyphs" fill="#000" stroke="#000" stroke-width="0.3">100</text>
<line x1="821.14" y1="810" x2="821.14" y2="813.5" stroke="#000" stroke-width="0.8"/>
<text x="821.14" y="825.9" font-size="12.4" font-weight="bold" text-anchor="middle" textLength="23.59" lengthAdjust="spacingAndGlyphs" fill="#000" stroke="#000" stroke-width="0.3">150</text>
<line x1="894.06" y1="810" x2="894.06" y2="813.5" stroke="#000" stroke-width="0.8"/>
<text x="894.06" y="825.9" font-size="12.4" font-weight="bold" text-anchor="middle" textLength="23.59" lengthAdjust="spacingAndGlyphs" fill="#000" stroke="#000" stroke-width="0.3">200</text>
<line x1="966.97" y1="810" x2="966.97" y2="813.5" stroke="#000" stroke-width="0.8"/>
<text x="966.97" y="825.9" font-size="12.4" font-weight="bold" text-anchor="middle" textLength="23.59" lengthAdjust="spacingAndGlyphs" fill="#000" stroke="#000" stroke-width="0.3">250</text>
<line x1="1039.89" y1="810" x2="1039.89" y2="813.5" stroke="#000" stroke-width="0.8"/>
<text x="1039.89" y="825.9" font-size="12.4" font-weight="bold" text-anchor="middle" textLength="23.59" lengthAdjust="spacingAndGlyphs" fill="#000" stroke="#000" stroke-width="0.3">300</text>
<text x="820.25" y="434.1" font-size="15.8" font-weight="bold" text-anchor="middle" textLength="260.71" lengthAdjust="spacingAndGlyphs" fill="#000" stroke="#000" stroke-width="0.3">D) Sorted Δ TQR for Relaxation</text>
<text x="551.8" y="624.85" font-size="15.4" font-weight="bold" text-anchor="middle" textLength="142.78" lengthAdjust="spacingAndGlyphs" fill="#000" stroke="#000" stroke-width="0.3" transform="rotate(-90 551.8 624.85)">ΔTQR (Post - Pre)</text>
<text x="820.3" y="842.9" font-size="14.2" font-weight="bold" text-anchor="middle" textLength="127.66" lengthAdjust="spacingAndGlyphs" fill="#000" stroke="#000" stroke-width="0.3">Subjects (sorted)</text>
</svg>
</body></html>
